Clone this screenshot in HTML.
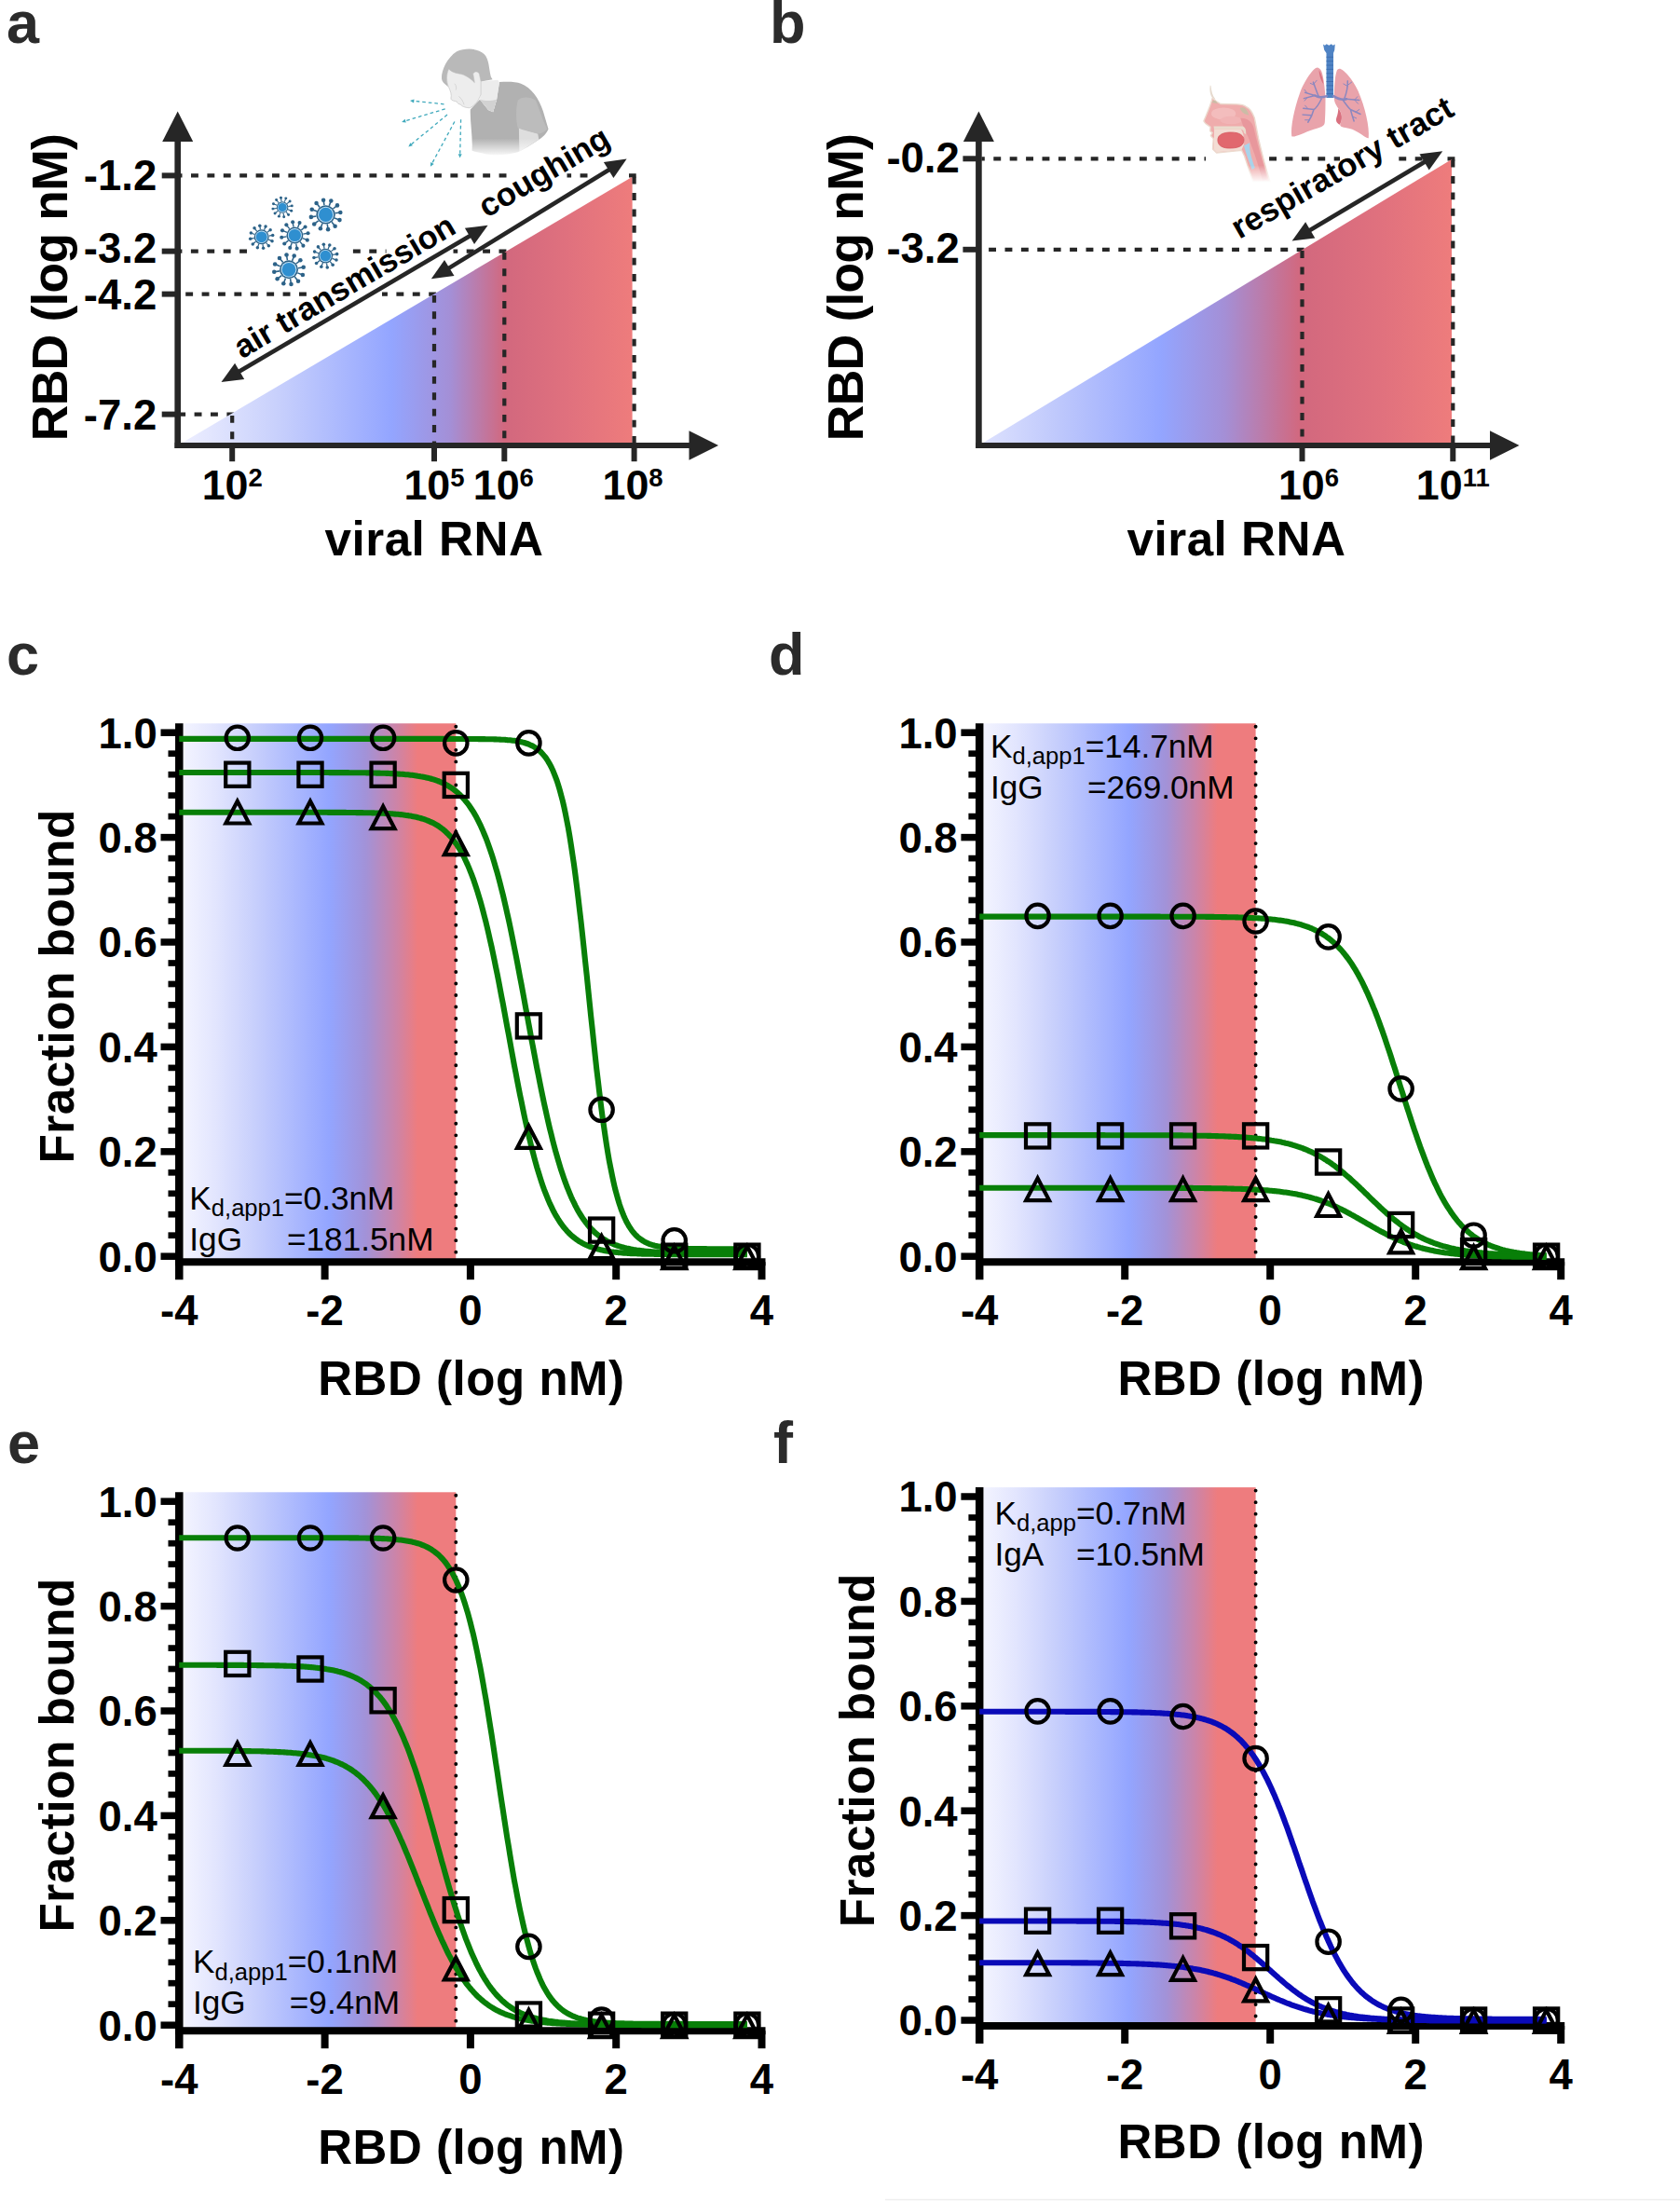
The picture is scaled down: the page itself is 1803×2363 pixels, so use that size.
<!DOCTYPE html>
<html><head><meta charset="utf-8"><title>Figure</title>
<style>html,body{margin:0;padding:0;background:#fff}svg{display:block}</style>
</head><body>
<svg width="1803" height="2363" viewBox="0 0 1803 2363">
<rect width="1803" height="2363" fill="#fff"/>

<defs>
<linearGradient id="gShade" x1="0" y1="0" x2="1" y2="0">
 <stop offset="0" stop-color="#f3f4ff"/>
 <stop offset="0.12" stop-color="#e2e5fe"/>
 <stop offset="0.27" stop-color="#c6cefc"/>
 <stop offset="0.535" stop-color="#93a5ff"/>
 <stop offset="0.67" stop-color="#a292d8"/>
 <stop offset="0.78" stop-color="#cc84a8"/>
 <stop offset="0.86" stop-color="#ee7c7e"/>
 <stop offset="1" stop-color="#ee7c7e"/>
</linearGradient>
<linearGradient id="gTriA" x1="0" y1="0" x2="1" y2="0">
 <stop offset="0" stop-color="#eff0ff"/>
 <stop offset="0.22" stop-color="#c8d0fc"/>
 <stop offset="0.47" stop-color="#93a5ff"/>
 <stop offset="0.60" stop-color="#a48fd6"/>
 <stop offset="0.72" stop-color="#d2687e"/>
 <stop offset="0.86" stop-color="#e0717e"/>
 <stop offset="1" stop-color="#ee7c7c"/>
</linearGradient>
<linearGradient id="gTriB" x1="0" y1="0" x2="1" y2="0">
 <stop offset="0" stop-color="#dfe3fe"/>
 <stop offset="0.18" stop-color="#bcc6fc"/>
 <stop offset="0.385" stop-color="#93a5ff"/>
 <stop offset="0.52" stop-color="#a48fd6"/>
 <stop offset="0.68" stop-color="#d2687e"/>
 <stop offset="0.85" stop-color="#e0717e"/>
 <stop offset="1" stop-color="#ee7c7c"/>
</linearGradient>
<linearGradient id="gFadeW" x1="0" y1="0" x2="0" y2="1"><stop offset="0" stop-color="#fff" stop-opacity="0"/><stop offset="1" stop-color="#fff" stop-opacity="1"/></linearGradient>
</defs>

<text x="7" y="46" font-family='"Liberation Sans", Arial, sans-serif' font-weight="700" font-size="63" fill="#2b2b2b">a</text>
<text x="826" y="45.5" font-family='"Liberation Sans", Arial, sans-serif' font-weight="700" font-size="63" fill="#2b2b2b">b</text>
<text x="7" y="724" font-family='"Liberation Sans", Arial, sans-serif' font-weight="700" font-size="63" fill="#2b2b2b">c</text>
<text x="825" y="724" font-family='"Liberation Sans", Arial, sans-serif' font-weight="700" font-size="63" fill="#2b2b2b">d</text>
<text x="8" y="1570" font-family='"Liberation Sans", Arial, sans-serif' font-weight="700" font-size="63" fill="#2b2b2b">e</text>
<text x="830" y="1570" font-family='"Liberation Sans", Arial, sans-serif' font-weight="700" font-size="63" fill="#2b2b2b">f</text>
<line x1="682.7" y1="188.4" x2="193.7" y2="188.4" stroke="#262626" stroke-width="4.2" stroke-dasharray="7.9 9.5"/>
<line x1="543.4" y1="269.6" x2="193.7" y2="269.6" stroke="#262626" stroke-width="4.2" stroke-dasharray="7.9 9.5"/>
<line x1="468.1" y1="315.6" x2="193.7" y2="315.6" stroke="#262626" stroke-width="4.2" stroke-dasharray="7.9 9.5"/>
<line x1="251.29999999999998" y1="444.6" x2="193.7" y2="444.6" stroke="#262626" stroke-width="4.2" stroke-dasharray="7.9 9.5"/>
<rect x="266" y="262" width="104" height="16" fill="#fff"/>
<rect x="333" y="308" width="77" height="16" fill="#fff"/>
<rect x="414.5" y="262" width="72" height="16" fill="#fff"/>
<rect x="549" y="180" width="59.5" height="16" fill="#fff"/>
<rect x="639" y="180" width="36" height="16" fill="#fff"/>
<polygon points="190.7,478 678.6,189.8 678.6,478" fill="url(#gTriA)"/>
<line x1="249.2" y1="445.90000000000003" x2="249.2" y2="478" stroke="#262626" stroke-width="4.2" stroke-dasharray="7.9 9.5"/>
<line x1="466" y1="316.90000000000003" x2="466" y2="478" stroke="#262626" stroke-width="4.2" stroke-dasharray="7.9 9.5"/>
<line x1="541.3" y1="270.90000000000003" x2="541.3" y2="478" stroke="#262626" stroke-width="4.2" stroke-dasharray="7.9 9.5"/>
<line x1="680.6" y1="189.70000000000002" x2="680.6" y2="478" stroke="#262626" stroke-width="4.2" stroke-dasharray="7.9 9.5"/>
<line x1="190.7" y1="481.1" x2="190.7" y2="150" stroke="#262626" stroke-width="6.6"/>
<polygon points="190.7,119.5 174.2,152 207.2,152" fill="#262626"/>
<line x1="187.6" y1="478" x2="741" y2="478" stroke="#262626" stroke-width="6.2"/>
<polygon points="771,478 739.5,462.2 739.5,493.8" fill="#262626"/>
<line x1="173.7" y1="188.4" x2="190.7" y2="188.4" stroke="#262626" stroke-width="6"/>
<text x="168.2" y="204.2" text-anchor="end" font-family='"Liberation Sans", Arial, sans-serif' font-weight="700" font-size="45.5">-1.2</text>
<line x1="173.7" y1="269.6" x2="190.7" y2="269.6" stroke="#262626" stroke-width="6"/>
<text x="168.2" y="281.9" text-anchor="end" font-family='"Liberation Sans", Arial, sans-serif' font-weight="700" font-size="45.5">-3.2</text>
<line x1="173.7" y1="315.6" x2="190.7" y2="315.6" stroke="#262626" stroke-width="6"/>
<text x="168.2" y="331.9" text-anchor="end" font-family='"Liberation Sans", Arial, sans-serif' font-weight="700" font-size="45.5">-4.2</text>
<line x1="173.7" y1="444.6" x2="190.7" y2="444.6" stroke="#262626" stroke-width="6"/>
<text x="168.2" y="460.8" text-anchor="end" font-family='"Liberation Sans", Arial, sans-serif' font-weight="700" font-size="45.5">-7.2</text>
<line x1="249.2" y1="478" x2="249.2" y2="495.2" stroke="#262626" stroke-width="6"/>
<text x="249.2" y="536.0" text-anchor="middle" font-family='"Liberation Sans", Arial, sans-serif' font-weight="700" font-size="44.8">10<tspan font-size="27.5" dy="-14.5">2</tspan></text>
<line x1="466" y1="478" x2="466" y2="495.2" stroke="#262626" stroke-width="6"/>
<text x="466.0" y="536.0" text-anchor="middle" font-family='"Liberation Sans", Arial, sans-serif' font-weight="700" font-size="44.8">10<tspan font-size="27.5" dy="-14.5">5</tspan></text>
<line x1="541.3" y1="478" x2="541.3" y2="495.2" stroke="#262626" stroke-width="6"/>
<text x="540.3" y="536.0" text-anchor="middle" font-family='"Liberation Sans", Arial, sans-serif' font-weight="700" font-size="44.8">10<tspan font-size="27.5" dy="-14.5">6</tspan></text>
<line x1="680.6" y1="478" x2="680.6" y2="495.2" stroke="#262626" stroke-width="6"/>
<text x="679.1" y="536.0" text-anchor="middle" font-family='"Liberation Sans", Arial, sans-serif' font-weight="700" font-size="44.8">10<tspan font-size="27.5" dy="-14.5">8</tspan></text>
<text transform="translate(71.9,308.6) rotate(-90)" text-anchor="middle" font-family='"Liberation Sans", Arial, sans-serif' font-weight="700" font-size="53.5" letter-spacing="-0.8">RBD (log nM)</text>
<text x="466.0" y="595.5" text-anchor="middle" font-family='"Liberation Sans", Arial, sans-serif' font-weight="700" font-size="51.2" letter-spacing="0.5">viral RNA</text>
<line x1="255.2" y1="399.6" x2="505.9" y2="252.2" stroke="#262626" stroke-width="4.6"/>
<polygon points="237.5,410.0 262.2,407.1 252.1,389.8" fill="#262626"/>
<polygon points="523.6,241.8 509.0,262.0 498.9,244.7" fill="#262626"/>
<line x1="480.3" y1="288.6" x2="655.1" y2="181.3" stroke="#262626" stroke-width="4.6"/>
<polygon points="462.8,299.3 487.5,295.9 477.0,278.9" fill="#262626"/>
<polygon points="672.6,170.6 658.4,191.0 647.9,174.0" fill="#262626"/>
<text transform="translate(375.5,317.3) rotate(-30.45)" text-anchor="middle" font-family='"Liberation Sans", Arial, sans-serif' font-weight="700" font-size="34.8" letter-spacing="0">air transmission</text>
<text transform="translate(522.2,234.3) rotate(-30.45)" text-anchor="start" font-family='"Liberation Sans", Arial, sans-serif' font-weight="700" font-size="34.8" letter-spacing="0">coughing</text>
<g transform="translate(303.1,222.5)">
<line x1="6.17" y1="-0.98" x2="10.20" y2="-1.62" stroke="#2c6288" stroke-width="1.10"/>
<circle cx="10.20" cy="-1.62" r="1.48" fill="#2c6288"/>
<line x1="5.83" y1="2.24" x2="9.64" y2="3.70" stroke="#2c6288" stroke-width="1.10"/>
<circle cx="9.64" cy="3.70" r="1.48" fill="#2c6288"/>
<line x1="3.93" y1="4.86" x2="6.50" y2="8.02" stroke="#2c6288" stroke-width="1.10"/>
<circle cx="6.50" cy="8.02" r="1.48" fill="#2c6288"/>
<line x1="0.98" y1="6.17" x2="1.62" y2="10.20" stroke="#2c6288" stroke-width="1.10"/>
<circle cx="1.62" cy="10.20" r="1.48" fill="#2c6288"/>
<line x1="-2.24" y1="5.83" x2="-3.70" y2="9.64" stroke="#2c6288" stroke-width="1.10"/>
<circle cx="-3.70" cy="9.64" r="1.48" fill="#2c6288"/>
<line x1="-4.86" y1="3.93" x2="-8.02" y2="6.50" stroke="#2c6288" stroke-width="1.10"/>
<circle cx="-8.02" cy="6.50" r="1.48" fill="#2c6288"/>
<line x1="-6.17" y1="0.98" x2="-10.20" y2="1.62" stroke="#2c6288" stroke-width="1.10"/>
<circle cx="-10.20" cy="1.62" r="1.48" fill="#2c6288"/>
<line x1="-5.83" y1="-2.24" x2="-9.64" y2="-3.70" stroke="#2c6288" stroke-width="1.10"/>
<circle cx="-9.64" cy="-3.70" r="1.48" fill="#2c6288"/>
<line x1="-3.93" y1="-4.86" x2="-6.50" y2="-8.02" stroke="#2c6288" stroke-width="1.10"/>
<circle cx="-6.50" cy="-8.02" r="1.48" fill="#2c6288"/>
<line x1="-0.98" y1="-6.17" x2="-1.62" y2="-10.20" stroke="#2c6288" stroke-width="1.10"/>
<circle cx="-1.62" cy="-10.20" r="1.48" fill="#2c6288"/>
<line x1="2.24" y1="-5.83" x2="3.70" y2="-9.64" stroke="#2c6288" stroke-width="1.10"/>
<circle cx="3.70" cy="-9.64" r="1.48" fill="#2c6288"/>
<line x1="4.86" y1="-3.93" x2="8.02" y2="-6.50" stroke="#2c6288" stroke-width="1.10"/>
<circle cx="8.02" cy="-6.50" r="1.48" fill="#2c6288"/>
<circle r="6.25" fill="#2c6288"/>
<circle r="5.25" fill="#bfe0f6"/>
<circle r="4.62" fill="#2f8fd0"/>
</g>
<g transform="translate(349.6,230.4)">
<line x1="10.07" y1="-1.60" x2="15.73" y2="-2.49" stroke="#2c6288" stroke-width="1.55"/>
<circle cx="15.73" cy="-2.49" r="2.27" fill="#2c6288"/>
<line x1="9.52" y1="3.66" x2="14.87" y2="5.71" stroke="#2c6288" stroke-width="1.55"/>
<circle cx="14.87" cy="5.71" r="2.27" fill="#2c6288"/>
<line x1="6.42" y1="7.93" x2="10.02" y2="12.38" stroke="#2c6288" stroke-width="1.55"/>
<circle cx="10.02" cy="12.38" r="2.27" fill="#2c6288"/>
<line x1="1.60" y1="10.07" x2="2.49" y2="15.73" stroke="#2c6288" stroke-width="1.55"/>
<circle cx="2.49" cy="15.73" r="2.27" fill="#2c6288"/>
<line x1="-3.66" y1="9.52" x2="-5.71" y2="14.87" stroke="#2c6288" stroke-width="1.55"/>
<circle cx="-5.71" cy="14.87" r="2.27" fill="#2c6288"/>
<line x1="-7.93" y1="6.42" x2="-12.38" y2="10.02" stroke="#2c6288" stroke-width="1.55"/>
<circle cx="-12.38" cy="10.02" r="2.27" fill="#2c6288"/>
<line x1="-10.07" y1="1.60" x2="-15.73" y2="2.49" stroke="#2c6288" stroke-width="1.55"/>
<circle cx="-15.73" cy="2.49" r="2.27" fill="#2c6288"/>
<line x1="-9.52" y1="-3.66" x2="-14.87" y2="-5.71" stroke="#2c6288" stroke-width="1.55"/>
<circle cx="-14.87" cy="-5.71" r="2.27" fill="#2c6288"/>
<line x1="-6.42" y1="-7.93" x2="-10.02" y2="-12.38" stroke="#2c6288" stroke-width="1.55"/>
<circle cx="-10.02" cy="-12.38" r="2.27" fill="#2c6288"/>
<line x1="-1.60" y1="-10.07" x2="-2.49" y2="-15.73" stroke="#2c6288" stroke-width="1.55"/>
<circle cx="-2.49" cy="-15.73" r="2.27" fill="#2c6288"/>
<line x1="3.66" y1="-9.52" x2="5.71" y2="-14.87" stroke="#2c6288" stroke-width="1.55"/>
<circle cx="5.71" cy="-14.87" r="2.27" fill="#2c6288"/>
<line x1="7.93" y1="-6.42" x2="12.38" y2="-10.02" stroke="#2c6288" stroke-width="1.55"/>
<circle cx="12.38" cy="-10.02" r="2.27" fill="#2c6288"/>
<circle r="10.20" fill="#2c6288"/>
<circle r="8.57" fill="#bfe0f6"/>
<circle r="7.55" fill="#2f8fd0"/>
</g>
<g transform="translate(280.7,254.3)">
<line x1="7.90" y1="-1.25" x2="12.01" y2="-1.90" stroke="#2c6288" stroke-width="1.18"/>
<circle cx="12.01" cy="-1.90" r="1.74" fill="#2c6288"/>
<line x1="7.47" y1="2.87" x2="11.35" y2="4.36" stroke="#2c6288" stroke-width="1.18"/>
<circle cx="11.35" cy="4.36" r="1.74" fill="#2c6288"/>
<line x1="5.03" y1="6.22" x2="7.65" y2="9.45" stroke="#2c6288" stroke-width="1.18"/>
<circle cx="7.65" cy="9.45" r="1.74" fill="#2c6288"/>
<line x1="1.25" y1="7.90" x2="1.90" y2="12.01" stroke="#2c6288" stroke-width="1.18"/>
<circle cx="1.90" cy="12.01" r="1.74" fill="#2c6288"/>
<line x1="-2.87" y1="7.47" x2="-4.36" y2="11.35" stroke="#2c6288" stroke-width="1.18"/>
<circle cx="-4.36" cy="11.35" r="1.74" fill="#2c6288"/>
<line x1="-6.22" y1="5.03" x2="-9.45" y2="7.65" stroke="#2c6288" stroke-width="1.18"/>
<circle cx="-9.45" cy="7.65" r="1.74" fill="#2c6288"/>
<line x1="-7.90" y1="1.25" x2="-12.01" y2="1.90" stroke="#2c6288" stroke-width="1.18"/>
<circle cx="-12.01" cy="1.90" r="1.74" fill="#2c6288"/>
<line x1="-7.47" y1="-2.87" x2="-11.35" y2="-4.36" stroke="#2c6288" stroke-width="1.18"/>
<circle cx="-11.35" cy="-4.36" r="1.74" fill="#2c6288"/>
<line x1="-5.03" y1="-6.22" x2="-7.65" y2="-9.45" stroke="#2c6288" stroke-width="1.18"/>
<circle cx="-7.65" cy="-9.45" r="1.74" fill="#2c6288"/>
<line x1="-1.25" y1="-7.90" x2="-1.90" y2="-12.01" stroke="#2c6288" stroke-width="1.18"/>
<circle cx="-1.90" cy="-12.01" r="1.74" fill="#2c6288"/>
<line x1="2.87" y1="-7.47" x2="4.36" y2="-11.35" stroke="#2c6288" stroke-width="1.18"/>
<circle cx="4.36" cy="-11.35" r="1.74" fill="#2c6288"/>
<line x1="6.22" y1="-5.03" x2="9.45" y2="-7.65" stroke="#2c6288" stroke-width="1.18"/>
<circle cx="9.45" cy="-7.65" r="1.74" fill="#2c6288"/>
<circle r="8.00" fill="#2c6288"/>
<circle r="6.72" fill="#bfe0f6"/>
<circle r="5.92" fill="#2f8fd0"/>
</g>
<g transform="translate(316.4,252.5)">
<line x1="8.79" y1="-1.39" x2="14.17" y2="-2.24" stroke="#2c6288" stroke-width="1.39"/>
<circle cx="14.17" cy="-2.24" r="2.05" fill="#2c6288"/>
<line x1="8.31" y1="3.19" x2="13.40" y2="5.14" stroke="#2c6288" stroke-width="1.39"/>
<circle cx="13.40" cy="5.14" r="2.05" fill="#2c6288"/>
<line x1="5.60" y1="6.92" x2="9.03" y2="11.15" stroke="#2c6288" stroke-width="1.39"/>
<circle cx="9.03" cy="11.15" r="2.05" fill="#2c6288"/>
<line x1="1.39" y1="8.79" x2="2.24" y2="14.17" stroke="#2c6288" stroke-width="1.39"/>
<circle cx="2.24" cy="14.17" r="2.05" fill="#2c6288"/>
<line x1="-3.19" y1="8.31" x2="-5.14" y2="13.40" stroke="#2c6288" stroke-width="1.39"/>
<circle cx="-5.14" cy="13.40" r="2.05" fill="#2c6288"/>
<line x1="-6.92" y1="5.60" x2="-11.15" y2="9.03" stroke="#2c6288" stroke-width="1.39"/>
<circle cx="-11.15" cy="9.03" r="2.05" fill="#2c6288"/>
<line x1="-8.79" y1="1.39" x2="-14.17" y2="2.24" stroke="#2c6288" stroke-width="1.39"/>
<circle cx="-14.17" cy="2.24" r="2.05" fill="#2c6288"/>
<line x1="-8.31" y1="-3.19" x2="-13.40" y2="-5.14" stroke="#2c6288" stroke-width="1.39"/>
<circle cx="-13.40" cy="-5.14" r="2.05" fill="#2c6288"/>
<line x1="-5.60" y1="-6.92" x2="-9.03" y2="-11.15" stroke="#2c6288" stroke-width="1.39"/>
<circle cx="-9.03" cy="-11.15" r="2.05" fill="#2c6288"/>
<line x1="-1.39" y1="-8.79" x2="-2.24" y2="-14.17" stroke="#2c6288" stroke-width="1.39"/>
<circle cx="-2.24" cy="-14.17" r="2.05" fill="#2c6288"/>
<line x1="3.19" y1="-8.31" x2="5.14" y2="-13.40" stroke="#2c6288" stroke-width="1.39"/>
<circle cx="5.14" cy="-13.40" r="2.05" fill="#2c6288"/>
<line x1="6.92" y1="-5.60" x2="11.15" y2="-9.03" stroke="#2c6288" stroke-width="1.39"/>
<circle cx="11.15" cy="-9.03" r="2.05" fill="#2c6288"/>
<circle r="8.90" fill="#2c6288"/>
<circle r="7.48" fill="#bfe0f6"/>
<circle r="6.59" fill="#2f8fd0"/>
</g>
<g transform="translate(349.3,274.6)">
<line x1="7.80" y1="-1.24" x2="12.36" y2="-1.96" stroke="#2c6288" stroke-width="1.22"/>
<circle cx="12.36" cy="-1.96" r="1.79" fill="#2c6288"/>
<line x1="7.38" y1="2.83" x2="11.68" y2="4.48" stroke="#2c6288" stroke-width="1.22"/>
<circle cx="11.68" cy="4.48" r="1.79" fill="#2c6288"/>
<line x1="4.97" y1="6.14" x2="7.87" y2="9.72" stroke="#2c6288" stroke-width="1.22"/>
<circle cx="7.87" cy="9.72" r="1.79" fill="#2c6288"/>
<line x1="1.24" y1="7.80" x2="1.96" y2="12.36" stroke="#2c6288" stroke-width="1.22"/>
<circle cx="1.96" cy="12.36" r="1.79" fill="#2c6288"/>
<line x1="-2.83" y1="7.38" x2="-4.48" y2="11.68" stroke="#2c6288" stroke-width="1.22"/>
<circle cx="-4.48" cy="11.68" r="1.79" fill="#2c6288"/>
<line x1="-6.14" y1="4.97" x2="-9.72" y2="7.87" stroke="#2c6288" stroke-width="1.22"/>
<circle cx="-9.72" cy="7.87" r="1.79" fill="#2c6288"/>
<line x1="-7.80" y1="1.24" x2="-12.36" y2="1.96" stroke="#2c6288" stroke-width="1.22"/>
<circle cx="-12.36" cy="1.96" r="1.79" fill="#2c6288"/>
<line x1="-7.38" y1="-2.83" x2="-11.68" y2="-4.48" stroke="#2c6288" stroke-width="1.22"/>
<circle cx="-11.68" cy="-4.48" r="1.79" fill="#2c6288"/>
<line x1="-4.97" y1="-6.14" x2="-7.87" y2="-9.72" stroke="#2c6288" stroke-width="1.22"/>
<circle cx="-7.87" cy="-9.72" r="1.79" fill="#2c6288"/>
<line x1="-1.24" y1="-7.80" x2="-1.96" y2="-12.36" stroke="#2c6288" stroke-width="1.22"/>
<circle cx="-1.96" cy="-12.36" r="1.79" fill="#2c6288"/>
<line x1="2.83" y1="-7.38" x2="4.48" y2="-11.68" stroke="#2c6288" stroke-width="1.22"/>
<circle cx="4.48" cy="-11.68" r="1.79" fill="#2c6288"/>
<line x1="6.14" y1="-4.97" x2="9.72" y2="-7.87" stroke="#2c6288" stroke-width="1.22"/>
<circle cx="9.72" cy="-7.87" r="1.79" fill="#2c6288"/>
<circle r="7.90" fill="#2c6288"/>
<circle r="6.64" fill="#bfe0f6"/>
<circle r="5.85" fill="#2f8fd0"/>
</g>
<g transform="translate(310,289.3)">
<line x1="9.88" y1="-1.56" x2="15.73" y2="-2.49" stroke="#2c6288" stroke-width="1.55"/>
<circle cx="15.73" cy="-2.49" r="2.27" fill="#2c6288"/>
<line x1="9.34" y1="3.58" x2="14.87" y2="5.71" stroke="#2c6288" stroke-width="1.55"/>
<circle cx="14.87" cy="5.71" r="2.27" fill="#2c6288"/>
<line x1="6.29" y1="7.77" x2="10.02" y2="12.38" stroke="#2c6288" stroke-width="1.55"/>
<circle cx="10.02" cy="12.38" r="2.27" fill="#2c6288"/>
<line x1="1.56" y1="9.88" x2="2.49" y2="15.73" stroke="#2c6288" stroke-width="1.55"/>
<circle cx="2.49" cy="15.73" r="2.27" fill="#2c6288"/>
<line x1="-3.58" y1="9.34" x2="-5.71" y2="14.87" stroke="#2c6288" stroke-width="1.55"/>
<circle cx="-5.71" cy="14.87" r="2.27" fill="#2c6288"/>
<line x1="-7.77" y1="6.29" x2="-12.38" y2="10.02" stroke="#2c6288" stroke-width="1.55"/>
<circle cx="-12.38" cy="10.02" r="2.27" fill="#2c6288"/>
<line x1="-9.88" y1="1.56" x2="-15.73" y2="2.49" stroke="#2c6288" stroke-width="1.55"/>
<circle cx="-15.73" cy="2.49" r="2.27" fill="#2c6288"/>
<line x1="-9.34" y1="-3.58" x2="-14.87" y2="-5.71" stroke="#2c6288" stroke-width="1.55"/>
<circle cx="-14.87" cy="-5.71" r="2.27" fill="#2c6288"/>
<line x1="-6.29" y1="-7.77" x2="-10.02" y2="-12.38" stroke="#2c6288" stroke-width="1.55"/>
<circle cx="-10.02" cy="-12.38" r="2.27" fill="#2c6288"/>
<line x1="-1.56" y1="-9.88" x2="-2.49" y2="-15.73" stroke="#2c6288" stroke-width="1.55"/>
<circle cx="-2.49" cy="-15.73" r="2.27" fill="#2c6288"/>
<line x1="3.58" y1="-9.34" x2="5.71" y2="-14.87" stroke="#2c6288" stroke-width="1.55"/>
<circle cx="5.71" cy="-14.87" r="2.27" fill="#2c6288"/>
<line x1="7.77" y1="-6.29" x2="12.38" y2="-10.02" stroke="#2c6288" stroke-width="1.55"/>
<circle cx="12.38" cy="-10.02" r="2.27" fill="#2c6288"/>
<circle r="10.00" fill="#2c6288"/>
<circle r="8.40" fill="#bfe0f6"/>
<circle r="7.40" fill="#2f8fd0"/>
</g>
<g transform="translate(420,40) scale(0.1131)">
<path d="M750 685 L840 590 L920 690 L965 710 L1000 590 L1025 425 C1100 420 1180 420 1230 440 C1330 480 1400 580 1440 700 L1490 870 C1470 920 1430 950 1400 970 C1330 1020 1260 1060 1200 1090 C1100 1120 980 1120 900 1110 C850 1095 790 1090 765 1075 C775 950 745 800 750 685 Z" fill="#b1b1b1"/>
<path d="M1210 860 L1390 915 L1400 970 L1215 1085 Z" fill="#dedede"/>
<path d="M1200 600 C1230 560 1320 560 1370 600 C1410 700 1440 800 1480 870 C1450 900 1420 915 1390 915 C1320 900 1250 880 1200 860 C1180 780 1180 680 1200 600 Z" fill="#bcbcbc"/>
<path d="M850 420 L1010 405 L1025 430 L1000 590 L965 710 L920 690 L840 590 C850 560 850 470 850 420 Z" fill="#ececec"/>
<path d="M840 590 C900 610 960 600 1000 590 L965 710 L920 690 Z" fill="#d2d2d2"/>
<path d="M545 300 C520 350 520 420 545 475 C560 510 575 540 565 585 C570 600 600 605 620 610 C625 625 640 635 660 640 C670 660 720 670 745 670 C790 650 830 600 850 540 L850 420 L835 350 C825 320 790 320 775 345 L790 430 C760 400 700 350 640 345 C600 340 560 320 545 300 Z" fill="#ededed" stroke="#c4c4c4" stroke-width="6"/>
<path d="M478 395 C470 330 520 200 620 135 C700 100 820 100 880 160 C930 210 925 300 945 375 L960 400 L850 420 L835 350 C825 320 790 320 775 345 L790 430 C760 400 700 350 640 345 C600 340 560 320 545 300 C520 350 520 420 540 470 C500 440 480 420 478 395 Z" fill="#b9b9b9"/>
<path d="M600 440 C615 455 620 480 612 500 M640 560 C660 580 680 600 690 640" fill="none" stroke="#cfcfcf" stroke-width="7"/>
<rect x="700" y="960" width="820" height="175" fill="url(#gFadeW)"/>
</g>
<line x1="476.5" y1="111.8" x2="443.5" y2="108.3" stroke="#3fa9bc" stroke-width="1.3" stroke-dasharray="3.6 3"/>
<polygon points="440.0,107.9 444.5,106.4 444.1,110.4" fill="#3fa9bc"/>
<line x1="477.7" y1="116.9" x2="434.4" y2="129.9" stroke="#3fa9bc" stroke-width="1.3" stroke-dasharray="3.6 3"/>
<polygon points="431.1,130.9 434.6,127.8 435.8,131.6" fill="#3fa9bc"/>
<line x1="480" y1="123.1" x2="441.0" y2="155.2" stroke="#3fa9bc" stroke-width="1.3" stroke-dasharray="3.6 3"/>
<polygon points="438.3,157.5 440.4,153.2 442.9,156.3" fill="#3fa9bc"/>
<line x1="487.9" y1="130.5" x2="463.5" y2="175.7" stroke="#3fa9bc" stroke-width="1.3" stroke-dasharray="3.6 3"/>
<polygon points="461.9,178.8 462.2,174.1 465.7,176.0" fill="#3fa9bc"/>
<line x1="494.6" y1="128.2" x2="493.7" y2="166.0" stroke="#3fa9bc" stroke-width="1.3" stroke-dasharray="3.6 3"/>
<polygon points="493.6,169.5 491.7,165.2 495.7,165.3" fill="#3fa9bc"/>
<line x1="1561.3999999999999" y1="170.3" x2="1053.4" y2="170.3" stroke="#262626" stroke-width="4.2" stroke-dasharray="7.9 9.5"/>
<line x1="1399.6" y1="267.8" x2="1053.4" y2="267.8" stroke="#262626" stroke-width="4.2" stroke-dasharray="7.9 9.5"/>
<rect x="1294" y="162" width="67" height="16" fill="#fff"/>
<rect x="1438" y="162" width="54" height="16" fill="#fff"/>
<rect x="1531" y="162" width="22" height="16" fill="#fff"/>
<polygon points="1050.4,478 1558,171 1558,478" fill="url(#gTriB)"/>
<line x1="1397.5" y1="269.1" x2="1397.5" y2="478" stroke="#262626" stroke-width="4.2" stroke-dasharray="7.9 9.5"/>
<line x1="1559.3" y1="171.60000000000002" x2="1559.3" y2="478" stroke="#262626" stroke-width="4.2" stroke-dasharray="7.9 9.5"/>
<line x1="1050.4" y1="481.1" x2="1050.4" y2="150" stroke="#262626" stroke-width="6.6"/>
<polygon points="1050.4,119.5 1033.9,152 1066.9,152" fill="#262626"/>
<line x1="1047.3000000000002" y1="478" x2="1600.5" y2="478" stroke="#262626" stroke-width="6.2"/>
<polygon points="1630.5,478 1599.0,462.2 1599.0,493.8" fill="#262626"/>
<line x1="1033.4" y1="170.3" x2="1050.4" y2="170.3" stroke="#262626" stroke-width="6"/>
<text x="1029.8" y="184.9" text-anchor="end" font-family='"Liberation Sans", Arial, sans-serif' font-weight="700" font-size="45.5">-0.2</text>
<line x1="1033.4" y1="267.8" x2="1050.4" y2="267.8" stroke="#262626" stroke-width="6"/>
<text x="1029.8" y="282.4" text-anchor="end" font-family='"Liberation Sans", Arial, sans-serif' font-weight="700" font-size="45.5">-3.2</text>
<line x1="1397.5" y1="478" x2="1397.5" y2="495.2" stroke="#262626" stroke-width="6"/>
<text x="1404.5" y="536.0" text-anchor="middle" font-family='"Liberation Sans", Arial, sans-serif' font-weight="700" font-size="44.8">10<tspan font-size="27.5" dy="-14.5">6</tspan></text>
<line x1="1559.3" y1="478" x2="1559.3" y2="495.2" stroke="#262626" stroke-width="6"/>
<text x="1559.3" y="536.0" text-anchor="middle" font-family='"Liberation Sans", Arial, sans-serif' font-weight="700" font-size="44.8">10<tspan font-size="27.5" dy="-14.5">11</tspan></text>
<text transform="translate(926,308.6) rotate(-90)" text-anchor="middle" font-family='"Liberation Sans", Arial, sans-serif' font-weight="700" font-size="53.5" letter-spacing="-0.8">RBD (log nM)</text>
<text x="1327.0" y="595.5" text-anchor="middle" font-family='"Liberation Sans", Arial, sans-serif' font-weight="700" font-size="51.2" letter-spacing="0.5">viral RNA</text>
<line x1="1404.2" y1="248.1" x2="1530.6" y2="172.8" stroke="#262626" stroke-width="4.6"/>
<polygon points="1386.6,258.6 1411.3,255.5 1401.1,238.3" fill="#262626"/>
<polygon points="1548.2,162.3 1533.7,182.6 1523.5,165.4" fill="#262626"/>
<text transform="translate(1446.3,190.0) rotate(-30.0)" text-anchor="middle" font-family='"Liberation Sans", Arial, sans-serif' font-weight="700" font-size="35" letter-spacing="0">respiratory tract</text>
<g transform="translate(1280,30) scale(0.125)">
<path d="M1070 340 C1040 340 960 450 920 560 C870 700 840 850 850 930 C870 945 950 900 1040 870 C1100 850 1135 850 1135 800 C1140 740 1140 650 1140 600 C1135 520 1125 420 1105 370 C1095 350 1080 340 1070 340 Z" fill="#e9a3ab"/>
<path d="M1260 350 C1290 350 1370 430 1420 540 C1480 680 1520 850 1510 945 C1490 950 1440 900 1370 870 C1310 850 1270 860 1265 830 C1290 780 1280 720 1250 690 C1230 660 1215 640 1215 600 C1215 520 1220 420 1235 375 C1240 355 1250 350 1260 350 Z" fill="#e9a3ab"/>
<path d="M1085 360 C1105 400 1120 440 1122 480 C1100 450 1085 400 1085 360 Z M1250 690 C1285 730 1290 790 1262 830 C1240 820 1225 800 1235 770 C1245 740 1250 720 1250 690 Z" fill="#d9707f"/>
<path d="M1120 140 L1135 150 L1150 138 L1170 150 L1190 138 L1205 150 L1222 140 L1218 190 L1208 215 L1208 600 L1148 600 L1148 215 L1130 190 Z" fill="#4f83c4"/>
<path d="M1148 250 H1208 M1148 285 H1208 M1148 320 H1208 M1148 355 H1208 M1148 390 H1208 M1148 425 H1208 M1148 460 H1208 M1148 495 H1208 M1148 530 H1208 M1148 565 H1208" stroke="#3c6cae" stroke-width="7" fill="none"/>
<g fill="none" stroke="#8b87bf" stroke-linecap="round">
<path d="M1150 585 C1110 600 1080 600 1050 580 M1210 585 C1250 610 1290 620 1320 610" stroke-width="20"/>
<path d="M1085 595 C1060 540 1050 500 1035 465 M1050 580 L965 555 M1050 580 L955 605 M1105 610 C1080 660 1060 690 1040 700 L950 690 M1040 700 C1030 740 1010 780 990 810 M1020 750 L945 745 M1300 615 C1320 560 1335 510 1330 455 M1320 610 L1430 620 M1290 620 C1320 660 1340 690 1355 700 L1440 740 M1355 700 C1365 740 1375 770 1385 800" stroke-width="12"/>
<path d="M1045 490 L1010 475 M1040 480 L1065 450 M985 560 L960 530 M985 598 L960 625 M990 693 L965 665 M1000 790 L965 790 M1330 500 L1295 480 M1333 490 L1365 465 M1390 617 L1415 590 M1390 618 L1420 650 M1400 722 L1430 700 M1372 760 L1405 775" stroke-width="8"/>
</g>
<path d="M150 492 C143 540 152 582 172 602 L196 612 C170 580 160 540 156 495 Z" fill="#e6dace"/>
<path d="M170 600 C150 680 110 760 95 800 C110 830 140 840 152 850 L150 885 L170 900 L155 925 L178 950 L172 1040 L205 1072 L420 1050 L445 1100 C470 1180 500 1260 520 1320 L665 1320 C640 1250 600 1100 565 950 L530 770 C510 720 490 690 465 680 C440 660 410 655 380 655 L240 652 C215 640 190 625 170 600 Z" fill="#efacac" stroke="#ecdace" stroke-width="11" stroke-linejoin="round"/>
<path d="M165 640 C178 612 200 618 214 650 Z M405 688 C440 668 470 698 482 748 C452 744 420 730 405 688 Z" fill="#cbbca6"/>
<ellipse cx="265" cy="735" rx="105" ry="52" fill="#f3bdbd"/>
<ellipse cx="330" cy="792" rx="95" ry="34" fill="#f1b4b5"/>
<path d="M410 775 C460 770 510 800 525 860 C545 950 570 1050 610 1180 L640 1300 L600 1310 C570 1200 540 1100 500 1000 C480 940 460 900 440 860 Z" fill="#e8979c"/>
<path d="M180 843 L430 843 C452 850 462 880 456 912 L440 902 C440 882 430 872 415 869 L184 869 Z" fill="#eadbcd"/>
<path d="M185 869 L415 869 C435 900 445 950 440 1000 L420 1045 L205 1066 L180 1040 Z" fill="#f3ddd4"/>
<path d="M215 962 C215 912 270 896 330 896 C400 896 440 922 440 962 C440 1002 410 1030 330 1032 C260 1036 215 1012 215 962 Z" fill="#e1686e" stroke="#d4565e" stroke-width="6"/>
<path d="M440 1010 L490 985 C485 1050 505 1120 535 1200 L510 1215 C480 1140 455 1070 440 1010 Z" fill="#a9d3ea"/>
<rect x="80" y="1180" width="640" height="150" fill="url(#gFadeW)"/>
</g>
<rect x="196.5" y="776.3" width="292.8" height="577.9" fill="url(#gShade)"/>
<line x1="489.3" y1="779.8" x2="489.3" y2="1354.2" stroke="#000" stroke-width="3.9" stroke-dasharray="0.01 12.52" stroke-linecap="round"/>
<text x="203.3" y="1297.9" font-family='"Liberation Sans", Arial, sans-serif' font-size="35.2">K<tspan font-size="25.6" dy="7.4">d,app1</tspan><tspan dy="-7.4">=0.3nM</tspan></text>
<text x="203.3" y="1341.5" font-family='"Liberation Sans", Arial, sans-serif' font-size="35.2">IgG</text>
<text x="308" y="1341.5" font-family='"Liberation Sans", Arial, sans-serif' font-size="35.2">=181.5nM</text>
<line x1="192.3" y1="776.3" x2="192.3" y2="1373.2" stroke="#000" stroke-width="8.5"/>
<line x1="188.0" y1="1354.2" x2="821.5" y2="1354.2" stroke="#000" stroke-width="8"/>
<line x1="172.5" y1="1348.2" x2="192.3" y2="1348.2" stroke="#000" stroke-width="7.5"/>
<text x="168.8" y="1364.5" text-anchor="end" font-family='"Liberation Sans", Arial, sans-serif' font-weight="700" font-size="45.5">0.0</text>
<line x1="180.5" y1="1325.7" x2="192.3" y2="1325.7" stroke="#000" stroke-width="6.7"/>
<line x1="180.5" y1="1303.2" x2="192.3" y2="1303.2" stroke="#000" stroke-width="6.7"/>
<line x1="180.5" y1="1280.8" x2="192.3" y2="1280.8" stroke="#000" stroke-width="6.7"/>
<line x1="180.5" y1="1258.3" x2="192.3" y2="1258.3" stroke="#000" stroke-width="6.7"/>
<line x1="172.5" y1="1235.8" x2="192.3" y2="1235.8" stroke="#000" stroke-width="7.5"/>
<text x="168.8" y="1252.1" text-anchor="end" font-family='"Liberation Sans", Arial, sans-serif' font-weight="700" font-size="45.5">0.2</text>
<line x1="180.5" y1="1213.3" x2="192.3" y2="1213.3" stroke="#000" stroke-width="6.7"/>
<line x1="180.5" y1="1190.8" x2="192.3" y2="1190.8" stroke="#000" stroke-width="6.7"/>
<line x1="180.5" y1="1168.4" x2="192.3" y2="1168.4" stroke="#000" stroke-width="6.7"/>
<line x1="180.5" y1="1145.9" x2="192.3" y2="1145.9" stroke="#000" stroke-width="6.7"/>
<line x1="172.5" y1="1123.4" x2="192.3" y2="1123.4" stroke="#000" stroke-width="7.5"/>
<text x="168.8" y="1139.7" text-anchor="end" font-family='"Liberation Sans", Arial, sans-serif' font-weight="700" font-size="45.5">0.4</text>
<line x1="180.5" y1="1100.9" x2="192.3" y2="1100.9" stroke="#000" stroke-width="6.7"/>
<line x1="180.5" y1="1078.4" x2="192.3" y2="1078.4" stroke="#000" stroke-width="6.7"/>
<line x1="180.5" y1="1056.0" x2="192.3" y2="1056.0" stroke="#000" stroke-width="6.7"/>
<line x1="180.5" y1="1033.5" x2="192.3" y2="1033.5" stroke="#000" stroke-width="6.7"/>
<line x1="172.5" y1="1011.0" x2="192.3" y2="1011.0" stroke="#000" stroke-width="7.5"/>
<text x="168.8" y="1027.3" text-anchor="end" font-family='"Liberation Sans", Arial, sans-serif' font-weight="700" font-size="45.5">0.6</text>
<line x1="180.5" y1="988.5" x2="192.3" y2="988.5" stroke="#000" stroke-width="6.7"/>
<line x1="180.5" y1="966.0" x2="192.3" y2="966.0" stroke="#000" stroke-width="6.7"/>
<line x1="180.5" y1="943.6" x2="192.3" y2="943.6" stroke="#000" stroke-width="6.7"/>
<line x1="180.5" y1="921.1" x2="192.3" y2="921.1" stroke="#000" stroke-width="6.7"/>
<line x1="172.5" y1="898.6" x2="192.3" y2="898.6" stroke="#000" stroke-width="7.5"/>
<text x="168.8" y="914.9" text-anchor="end" font-family='"Liberation Sans", Arial, sans-serif' font-weight="700" font-size="45.5">0.8</text>
<line x1="180.5" y1="876.1" x2="192.3" y2="876.1" stroke="#000" stroke-width="6.7"/>
<line x1="180.5" y1="853.6" x2="192.3" y2="853.6" stroke="#000" stroke-width="6.7"/>
<line x1="180.5" y1="831.2" x2="192.3" y2="831.2" stroke="#000" stroke-width="6.7"/>
<line x1="180.5" y1="808.7" x2="192.3" y2="808.7" stroke="#000" stroke-width="6.7"/>
<line x1="172.5" y1="786.2" x2="192.3" y2="786.2" stroke="#000" stroke-width="7.5"/>
<text x="168.8" y="802.5" text-anchor="end" font-family='"Liberation Sans", Arial, sans-serif' font-weight="700" font-size="45.5">1.0</text>
<text x="192.3" y="1421.7" text-anchor="middle" font-family='"Liberation Sans", Arial, sans-serif' font-weight="700" font-size="45.5">-4</text>
<line x1="348.6" y1="1354.2" x2="348.6" y2="1373.2" stroke="#000" stroke-width="8"/>
<text x="348.6" y="1421.7" text-anchor="middle" font-family='"Liberation Sans", Arial, sans-serif' font-weight="700" font-size="45.5">-2</text>
<line x1="504.9" y1="1354.2" x2="504.9" y2="1373.2" stroke="#000" stroke-width="8"/>
<text x="504.9" y="1421.7" text-anchor="middle" font-family='"Liberation Sans", Arial, sans-serif' font-weight="700" font-size="45.5">0</text>
<line x1="661.2" y1="1354.2" x2="661.2" y2="1373.2" stroke="#000" stroke-width="8"/>
<text x="661.2" y="1421.7" text-anchor="middle" font-family='"Liberation Sans", Arial, sans-serif' font-weight="700" font-size="45.5">2</text>
<line x1="817.5" y1="1354.2" x2="817.5" y2="1373.2" stroke="#000" stroke-width="8"/>
<text x="817.5" y="1421.7" text-anchor="middle" font-family='"Liberation Sans", Arial, sans-serif' font-weight="700" font-size="45.5">4</text>
<text x="505.9" y="1496.5" text-anchor="middle" font-family='"Liberation Sans", Arial, sans-serif' font-weight="700" font-size="51" letter-spacing="0.55">RBD (log nM)</text>
<text transform="translate(79.2,1058.4) rotate(-90)" text-anchor="middle" font-family='"Liberation Sans", Arial, sans-serif' font-weight="700" font-size="51.3" letter-spacing="0.5">Fraction bound</text>
<path d="M192.3,792.9 L193.8,792.9 L195.3,792.9 L196.9,792.9 L198.4,792.9 L199.9,792.9 L201.4,792.9 L203.0,792.9 L204.5,792.9 L206.0,792.9 L207.5,792.9 L209.1,792.9 L210.6,792.9 L212.1,792.9 L213.6,792.9 L215.2,792.9 L216.7,792.9 L218.2,792.9 L219.7,792.9 L221.3,792.9 L222.8,792.9 L224.3,792.9 L225.8,792.9 L227.4,792.9 L228.9,792.9 L230.4,792.9 L231.9,792.9 L233.4,792.9 L235.0,792.9 L236.5,792.9 L238.0,792.9 L239.5,792.9 L241.1,792.9 L242.6,792.9 L244.1,792.9 L245.6,792.9 L247.2,792.9 L248.7,792.9 L250.2,792.9 L251.7,792.9 L253.3,792.9 L254.8,792.9 L256.3,792.9 L257.8,792.9 L259.4,792.9 L260.9,792.9 L262.4,792.9 L263.9,792.9 L265.4,792.9 L267.0,792.9 L268.5,792.9 L270.0,792.9 L271.5,792.9 L273.1,792.9 L274.6,792.9 L276.1,792.9 L277.6,792.9 L279.2,792.9 L280.7,792.9 L282.2,792.9 L283.7,792.9 L285.3,792.9 L286.8,792.9 L288.3,792.9 L289.8,792.9 L291.4,792.9 L292.9,792.9 L294.4,792.9 L295.9,792.9 L297.5,792.9 L299.0,792.9 L300.5,792.9 L302.0,792.9 L303.5,792.9 L305.1,792.9 L306.6,792.9 L308.1,792.9 L309.6,792.9 L311.2,792.9 L312.7,792.9 L314.2,792.9 L315.7,792.9 L317.3,792.9 L318.8,792.9 L320.3,792.9 L321.8,792.9 L323.4,792.9 L324.9,792.9 L326.4,792.9 L327.9,792.9 L329.5,792.9 L331.0,792.9 L332.5,792.9 L334.0,792.9 L335.5,792.9 L337.1,792.9 L338.6,792.9 L340.1,792.9 L341.6,792.9 L343.2,792.9 L344.7,792.9 L346.2,792.9 L347.7,792.9 L349.3,792.9 L350.8,792.9 L352.3,792.9 L353.8,792.9 L355.4,792.9 L356.9,792.9 L358.4,792.9 L359.9,792.9 L361.5,792.9 L363.0,792.9 L364.5,792.9 L366.0,792.9 L367.6,792.9 L369.1,792.9 L370.6,792.9 L372.1,792.9 L373.6,792.9 L375.2,792.9 L376.7,792.9 L378.2,792.9 L379.7,792.9 L381.3,792.9 L382.8,792.9 L384.3,792.9 L385.8,792.9 L387.4,792.9 L388.9,792.9 L390.4,792.9 L391.9,792.9 L393.5,792.9 L395.0,792.9 L396.5,792.9 L398.0,792.9 L399.6,792.9 L401.1,792.9 L402.6,792.9 L404.1,792.9 L405.6,792.9 L407.2,792.9 L408.7,792.9 L410.2,792.9 L411.7,792.9 L413.3,792.9 L414.8,792.9 L416.3,792.9 L417.8,792.9 L419.4,792.9 L420.9,792.9 L422.4,792.9 L423.9,792.9 L425.5,792.9 L427.0,792.9 L428.5,792.9 L430.0,792.9 L431.6,792.9 L433.1,792.9 L434.6,792.9 L436.1,792.9 L437.7,792.9 L439.2,792.9 L440.7,792.9 L442.2,792.9 L443.7,792.9 L445.3,792.9 L446.8,792.9 L448.3,792.9 L449.8,792.9 L451.4,792.9 L452.9,792.9 L454.4,792.9 L455.9,792.9 L457.5,792.9 L459.0,792.9 L460.5,792.9 L462.0,792.9 L463.6,792.9 L465.1,792.9 L466.6,792.9 L468.1,792.9 L469.7,792.9 L471.2,792.9 L472.7,792.9 L474.2,792.9 L475.8,792.9 L477.3,792.9 L478.8,792.9 L480.3,792.9 L481.8,792.9 L483.4,792.9 L484.9,792.9 L486.4,792.9 L487.9,793.0 L489.5,793.0 L491.0,793.0 L492.5,793.0 L494.0,793.0 L495.6,793.0 L497.1,793.0 L498.6,793.0 L500.1,793.0 L501.7,793.0 L503.2,793.0 L504.7,793.0 L506.2,793.0 L507.8,793.0 L509.3,793.0 L510.8,793.0 L512.3,793.0 L513.8,793.1 L515.4,793.1 L516.9,793.1 L518.4,793.1 L519.9,793.1 L521.5,793.2 L523.0,793.2 L524.5,793.2 L526.0,793.2 L527.6,793.3 L529.1,793.3 L530.6,793.4 L532.1,793.4 L533.7,793.5 L535.2,793.5 L536.7,793.6 L538.2,793.7 L539.8,793.7 L541.3,793.8 L542.8,793.9 L544.3,794.1 L545.9,794.2 L547.4,794.3 L548.9,794.5 L550.4,794.7 L551.9,794.8 L553.5,795.1 L555.0,795.3 L556.5,795.6 L558.0,795.9 L559.6,796.2 L561.1,796.6 L562.6,797.0 L564.1,797.5 L565.7,798.0 L567.2,798.5 L568.7,799.2 L570.2,799.9 L571.8,800.6 L573.3,801.5 L574.8,802.5 L576.3,803.5 L577.9,804.7 L579.4,806.0 L580.9,807.5 L582.4,809.1 L583.9,810.9 L585.5,812.8 L587.0,815.0 L588.5,817.4 L590.0,820.1 L591.6,823.0 L593.1,826.2 L594.6,829.8 L596.1,833.6 L597.7,837.9 L599.2,842.6 L600.7,847.6 L602.2,853.2 L603.8,859.2 L605.3,865.8 L606.8,872.9 L608.3,880.5 L609.9,888.7 L611.4,897.6 L612.9,907.0 L614.4,917.1 L616.0,927.7 L617.5,939.0 L619.0,950.8 L620.5,963.2 L622.0,976.1 L623.6,989.5 L625.1,1003.3 L626.6,1017.4 L628.1,1031.8 L629.7,1046.4 L631.2,1061.2 L632.7,1075.9 L634.2,1090.6 L635.8,1105.2 L637.3,1119.5 L638.8,1133.6 L640.3,1147.3 L641.9,1160.5 L643.4,1173.3 L644.9,1185.6 L646.4,1197.2 L648.0,1208.3 L649.5,1218.8 L651.0,1228.7 L652.5,1238.0 L654.0,1246.7 L655.6,1254.7 L657.1,1262.2 L658.6,1269.2 L660.1,1275.6 L661.7,1281.5 L663.2,1286.9 L664.7,1291.9 L666.2,1296.4 L667.8,1300.6 L669.3,1304.4 L670.8,1307.8 L672.3,1311.0 L673.9,1313.8 L675.4,1316.4 L676.9,1318.7 L678.4,1320.9 L680.0,1322.8 L681.5,1324.5 L683.0,1326.1 L684.5,1327.5 L686.1,1328.8 L687.6,1329.9 L689.1,1330.9 L690.6,1331.9 L692.1,1332.7 L693.7,1333.5 L695.2,1334.2 L696.7,1334.8 L698.2,1335.3 L699.8,1335.8 L701.3,1336.3 L702.8,1336.7 L704.3,1337.0 L705.9,1337.4 L707.4,1337.6 L708.9,1337.9 L710.4,1338.1 L712.0,1338.4 L713.5,1338.5 L715.0,1338.7 L716.5,1338.9 L718.1,1339.0 L719.6,1339.1 L721.1,1339.2 L722.6,1339.3 L724.1,1339.4 L725.7,1339.5 L727.2,1339.6 L728.7,1339.7 L730.2,1339.7 L731.8,1339.8 L733.3,1339.8 L734.8,1339.9 L736.3,1339.9 L737.9,1339.9 L739.4,1340.0 L740.9,1340.0 L742.4,1340.0 L744.0,1340.0 L745.5,1340.0 L747.0,1340.1 L748.5,1340.1 L750.1,1340.1 L751.6,1340.1 L753.1,1340.1 L754.6,1340.1 L756.2,1340.1 L757.7,1340.1 L759.2,1340.2 L760.7,1340.2 L762.2,1340.2 L763.8,1340.2 L765.3,1340.2 L766.8,1340.2 L768.3,1340.2 L769.9,1340.2 L771.4,1340.2 L772.9,1340.2 L774.4,1340.2 L776.0,1340.2 L777.5,1340.2 L779.0,1340.2 L780.5,1340.2 L782.1,1340.2 L783.6,1340.2 L785.1,1340.2 L786.6,1340.2 L788.2,1340.2 L789.7,1340.2 L791.2,1340.2 L792.7,1340.2 L794.3,1340.2 L795.8,1340.2 L797.3,1340.2 L798.8,1340.2 L800.3,1340.2 L801.9,1340.2" fill="none" stroke="#087f08" stroke-width="6.1" stroke-linejoin="round"/>
<path d="M192.3,829.0 L193.8,829.0 L195.3,829.0 L196.9,829.0 L198.4,829.0 L199.9,829.0 L201.4,829.0 L203.0,829.0 L204.5,829.0 L206.0,829.0 L207.5,829.0 L209.1,829.0 L210.6,829.0 L212.1,829.0 L213.6,829.0 L215.2,829.0 L216.7,829.0 L218.2,829.0 L219.7,829.0 L221.3,829.0 L222.8,829.0 L224.3,829.0 L225.8,829.0 L227.4,829.0 L228.9,829.0 L230.4,829.0 L231.9,829.0 L233.4,829.0 L235.0,829.0 L236.5,829.0 L238.0,829.0 L239.5,829.0 L241.1,829.0 L242.6,829.0 L244.1,829.0 L245.6,829.0 L247.2,829.0 L248.7,829.0 L250.2,829.0 L251.7,829.0 L253.3,829.0 L254.8,829.0 L256.3,829.0 L257.8,829.0 L259.4,829.0 L260.9,829.0 L262.4,829.0 L263.9,829.0 L265.4,829.0 L267.0,829.0 L268.5,829.0 L270.0,829.0 L271.5,829.0 L273.1,829.0 L274.6,829.0 L276.1,829.0 L277.6,829.0 L279.2,829.0 L280.7,829.0 L282.2,829.0 L283.7,829.0 L285.3,829.0 L286.8,829.0 L288.3,829.0 L289.8,829.0 L291.4,829.0 L292.9,829.0 L294.4,829.0 L295.9,829.0 L297.5,829.0 L299.0,829.0 L300.5,829.0 L302.0,829.0 L303.5,829.0 L305.1,829.0 L306.6,829.0 L308.1,829.0 L309.6,829.0 L311.2,829.0 L312.7,829.0 L314.2,829.0 L315.7,829.0 L317.3,829.0 L318.8,829.0 L320.3,829.0 L321.8,829.0 L323.4,829.0 L324.9,829.0 L326.4,829.0 L327.9,829.0 L329.5,829.0 L331.0,829.0 L332.5,829.0 L334.0,829.0 L335.5,829.0 L337.1,829.0 L338.6,829.0 L340.1,829.0 L341.6,829.0 L343.2,829.0 L344.7,829.0 L346.2,829.0 L347.7,829.0 L349.3,829.0 L350.8,829.0 L352.3,829.0 L353.8,829.1 L355.4,829.1 L356.9,829.1 L358.4,829.1 L359.9,829.1 L361.5,829.1 L363.0,829.1 L364.5,829.1 L366.0,829.1 L367.6,829.1 L369.1,829.1 L370.6,829.1 L372.1,829.1 L373.6,829.1 L375.2,829.2 L376.7,829.2 L378.2,829.2 L379.7,829.2 L381.3,829.2 L382.8,829.2 L384.3,829.2 L385.8,829.3 L387.4,829.3 L388.9,829.3 L390.4,829.3 L391.9,829.3 L393.5,829.4 L395.0,829.4 L396.5,829.4 L398.0,829.4 L399.6,829.5 L401.1,829.5 L402.6,829.5 L404.1,829.6 L405.6,829.6 L407.2,829.6 L408.7,829.7 L410.2,829.7 L411.7,829.8 L413.3,829.8 L414.8,829.9 L416.3,829.9 L417.8,830.0 L419.4,830.1 L420.9,830.1 L422.4,830.2 L423.9,830.3 L425.5,830.4 L427.0,830.5 L428.5,830.6 L430.0,830.7 L431.6,830.8 L433.1,830.9 L434.6,831.1 L436.1,831.2 L437.7,831.3 L439.2,831.5 L440.7,831.7 L442.2,831.8 L443.7,832.0 L445.3,832.2 L446.8,832.4 L448.3,832.7 L449.8,832.9 L451.4,833.2 L452.9,833.4 L454.4,833.7 L455.9,834.1 L457.5,834.4 L459.0,834.7 L460.5,835.1 L462.0,835.5 L463.6,836.0 L465.1,836.4 L466.6,836.9 L468.1,837.4 L469.7,838.0 L471.2,838.5 L472.7,839.2 L474.2,839.8 L475.8,840.5 L477.3,841.3 L478.8,842.1 L480.3,842.9 L481.8,843.8 L483.4,844.8 L484.9,845.8 L486.4,846.9 L487.9,848.0 L489.5,849.2 L491.0,850.5 L492.5,851.9 L494.0,853.3 L495.6,854.9 L497.1,856.5 L498.6,858.2 L500.1,860.1 L501.7,862.0 L503.2,864.0 L504.7,866.2 L506.2,868.5 L507.8,870.9 L509.3,873.4 L510.8,876.1 L512.3,878.9 L513.8,881.9 L515.4,885.1 L516.9,888.4 L518.4,891.8 L519.9,895.5 L521.5,899.3 L523.0,903.3 L524.5,907.5 L526.0,911.8 L527.6,916.4 L529.1,921.2 L530.6,926.1 L532.1,931.3 L533.7,936.7 L535.2,942.3 L536.7,948.1 L538.2,954.1 L539.8,960.3 L541.3,966.7 L542.8,973.3 L544.3,980.0 L545.9,987.0 L547.4,994.1 L548.9,1001.4 L550.4,1008.9 L551.9,1016.5 L553.5,1024.3 L555.0,1032.1 L556.5,1040.1 L558.0,1048.2 L559.6,1056.3 L561.1,1064.5 L562.6,1072.8 L564.1,1081.1 L565.7,1089.4 L567.2,1097.7 L568.7,1105.9 L570.2,1114.2 L571.8,1122.3 L573.3,1130.4 L574.8,1138.4 L576.3,1146.4 L577.9,1154.2 L579.4,1161.8 L580.9,1169.4 L582.4,1176.7 L583.9,1183.9 L585.5,1191.0 L587.0,1197.8 L588.5,1204.5 L590.0,1211.0 L591.6,1217.3 L593.1,1223.4 L594.6,1229.2 L596.1,1234.9 L597.7,1240.4 L599.2,1245.6 L600.7,1250.7 L602.2,1255.6 L603.8,1260.2 L605.3,1264.7 L606.8,1268.9 L608.3,1273.0 L609.9,1276.9 L611.4,1280.6 L612.9,1284.2 L614.4,1287.5 L616.0,1290.7 L617.5,1293.8 L619.0,1296.7 L620.5,1299.4 L622.0,1302.0 L623.6,1304.5 L625.1,1306.8 L626.6,1309.0 L628.1,1311.1 L629.7,1313.1 L631.2,1315.0 L632.7,1316.8 L634.2,1318.4 L635.8,1320.0 L637.3,1321.5 L638.8,1322.9 L640.3,1324.2 L641.9,1325.5 L643.4,1326.6 L644.9,1327.7 L646.4,1328.8 L648.0,1329.8 L649.5,1330.7 L651.0,1331.6 L652.5,1332.4 L654.0,1333.1 L655.6,1333.9 L657.1,1334.5 L658.6,1335.2 L660.1,1335.8 L661.7,1336.3 L663.2,1336.9 L664.7,1337.4 L666.2,1337.8 L667.8,1338.3 L669.3,1338.7 L670.8,1339.1 L672.3,1339.5 L673.9,1339.8 L675.4,1340.1 L676.9,1340.4 L678.4,1340.7 L680.0,1341.0 L681.5,1341.2 L683.0,1341.5 L684.5,1341.7 L686.1,1341.9 L687.6,1342.1 L689.1,1342.3 L690.6,1342.4 L692.1,1342.6 L693.7,1342.7 L695.2,1342.9 L696.7,1343.0 L698.2,1343.1 L699.8,1343.2 L701.3,1343.4 L702.8,1343.5 L704.3,1343.6 L705.9,1343.6 L707.4,1343.7 L708.9,1343.8 L710.4,1343.9 L712.0,1344.0 L713.5,1344.0 L715.0,1344.1 L716.5,1344.1 L718.1,1344.2 L719.6,1344.2 L721.1,1344.3 L722.6,1344.3 L724.1,1344.4 L725.7,1344.4 L727.2,1344.5 L728.7,1344.5 L730.2,1344.5 L731.8,1344.5 L733.3,1344.6 L734.8,1344.6 L736.3,1344.6 L737.9,1344.7 L739.4,1344.7 L740.9,1344.7 L742.4,1344.7 L744.0,1344.7 L745.5,1344.7 L747.0,1344.8 L748.5,1344.8 L750.1,1344.8 L751.6,1344.8 L753.1,1344.8 L754.6,1344.8 L756.2,1344.8 L757.7,1344.9 L759.2,1344.9 L760.7,1344.9 L762.2,1344.9 L763.8,1344.9 L765.3,1344.9 L766.8,1344.9 L768.3,1344.9 L769.9,1344.9 L771.4,1344.9 L772.9,1344.9 L774.4,1344.9 L776.0,1344.9 L777.5,1344.9 L779.0,1344.9 L780.5,1344.9 L782.1,1345.0 L783.6,1345.0 L785.1,1345.0 L786.6,1345.0 L788.2,1345.0 L789.7,1345.0 L791.2,1345.0 L792.7,1345.0 L794.3,1345.0 L795.8,1345.0 L797.3,1345.0 L798.8,1345.0 L800.3,1345.0 L801.9,1345.0" fill="none" stroke="#087f08" stroke-width="6.1" stroke-linejoin="round"/>
<path d="M192.3,871.8 L193.8,871.8 L195.3,871.8 L196.9,871.8 L198.4,871.8 L199.9,871.8 L201.4,871.8 L203.0,871.8 L204.5,871.8 L206.0,871.8 L207.5,871.8 L209.1,871.8 L210.6,871.8 L212.1,871.8 L213.6,871.8 L215.2,871.8 L216.7,871.8 L218.2,871.8 L219.7,871.8 L221.3,871.8 L222.8,871.8 L224.3,871.8 L225.8,871.8 L227.4,871.8 L228.9,871.8 L230.4,871.8 L231.9,871.8 L233.4,871.8 L235.0,871.8 L236.5,871.8 L238.0,871.8 L239.5,871.8 L241.1,871.8 L242.6,871.8 L244.1,871.8 L245.6,871.8 L247.2,871.8 L248.7,871.8 L250.2,871.8 L251.7,871.8 L253.3,871.8 L254.8,871.8 L256.3,871.8 L257.8,871.8 L259.4,871.8 L260.9,871.8 L262.4,871.8 L263.9,871.8 L265.4,871.8 L267.0,871.8 L268.5,871.8 L270.0,871.8 L271.5,871.8 L273.1,871.8 L274.6,871.8 L276.1,871.8 L277.6,871.8 L279.2,871.8 L280.7,871.8 L282.2,871.8 L283.7,871.8 L285.3,871.8 L286.8,871.8 L288.3,871.8 L289.8,871.8 L291.4,871.8 L292.9,871.8 L294.4,871.8 L295.9,871.8 L297.5,871.8 L299.0,871.8 L300.5,871.8 L302.0,871.8 L303.5,871.8 L305.1,871.8 L306.6,871.8 L308.1,871.8 L309.6,871.8 L311.2,871.8 L312.7,871.8 L314.2,871.8 L315.7,871.8 L317.3,871.8 L318.8,871.8 L320.3,871.8 L321.8,871.8 L323.4,871.8 L324.9,871.8 L326.4,871.8 L327.9,871.8 L329.5,871.8 L331.0,871.8 L332.5,871.8 L334.0,871.8 L335.5,871.8 L337.1,871.8 L338.6,871.8 L340.1,871.8 L341.6,871.8 L343.2,871.8 L344.7,871.8 L346.2,871.8 L347.7,871.8 L349.3,871.8 L350.8,871.8 L352.3,871.9 L353.8,871.9 L355.4,871.9 L356.9,871.9 L358.4,871.9 L359.9,871.9 L361.5,871.9 L363.0,871.9 L364.5,871.9 L366.0,871.9 L367.6,871.9 L369.1,871.9 L370.6,871.9 L372.1,872.0 L373.6,872.0 L375.2,872.0 L376.7,872.0 L378.2,872.0 L379.7,872.0 L381.3,872.0 L382.8,872.1 L384.3,872.1 L385.8,872.1 L387.4,872.1 L388.9,872.1 L390.4,872.2 L391.9,872.2 L393.5,872.2 L395.0,872.3 L396.5,872.3 L398.0,872.3 L399.6,872.4 L401.1,872.4 L402.6,872.5 L404.1,872.5 L405.6,872.6 L407.2,872.6 L408.7,872.7 L410.2,872.7 L411.7,872.8 L413.3,872.9 L414.8,873.0 L416.3,873.0 L417.8,873.1 L419.4,873.2 L420.9,873.3 L422.4,873.5 L423.9,873.6 L425.5,873.7 L427.0,873.8 L428.5,874.0 L430.0,874.1 L431.6,874.3 L433.1,874.5 L434.6,874.7 L436.1,874.9 L437.7,875.1 L439.2,875.4 L440.7,875.6 L442.2,875.9 L443.7,876.2 L445.3,876.5 L446.8,876.8 L448.3,877.2 L449.8,877.6 L451.4,878.0 L452.9,878.5 L454.4,878.9 L455.9,879.4 L457.5,880.0 L459.0,880.6 L460.5,881.2 L462.0,881.9 L463.6,882.6 L465.1,883.3 L466.6,884.1 L468.1,885.0 L469.7,885.9 L471.2,886.9 L472.7,888.0 L474.2,889.1 L475.8,890.3 L477.3,891.6 L478.8,893.0 L480.3,894.4 L481.8,896.0 L483.4,897.6 L484.9,899.4 L486.4,901.3 L487.9,903.3 L489.5,905.4 L491.0,907.6 L492.5,910.0 L494.0,912.5 L495.6,915.2 L497.1,918.0 L498.6,921.0 L500.1,924.2 L501.7,927.6 L503.2,931.1 L504.7,934.8 L506.2,938.7 L507.8,942.8 L509.3,947.2 L510.8,951.7 L512.3,956.4 L513.8,961.4 L515.4,966.6 L516.9,972.0 L518.4,977.6 L519.9,983.5 L521.5,989.6 L523.0,995.9 L524.5,1002.4 L526.0,1009.1 L527.6,1016.0 L529.1,1023.1 L530.6,1030.4 L532.1,1037.9 L533.7,1045.5 L535.2,1053.2 L536.7,1061.1 L538.2,1069.1 L539.8,1077.2 L541.3,1085.4 L542.8,1093.6 L544.3,1101.9 L545.9,1110.2 L547.4,1118.4 L548.9,1126.7 L550.4,1134.9 L551.9,1143.1 L553.5,1151.1 L555.0,1159.1 L556.5,1166.9 L558.0,1174.7 L559.6,1182.2 L561.1,1189.7 L562.6,1196.9 L564.1,1203.9 L565.7,1210.8 L567.2,1217.5 L568.7,1223.9 L570.2,1230.1 L571.8,1236.1 L573.3,1241.9 L574.8,1247.5 L576.3,1252.9 L577.9,1258.0 L579.4,1262.9 L580.9,1267.6 L582.4,1272.1 L583.9,1276.3 L585.5,1280.4 L587.0,1284.2 L588.5,1287.9 L590.0,1291.4 L591.6,1294.7 L593.1,1297.8 L594.6,1300.8 L596.1,1303.6 L597.7,1306.2 L599.2,1308.7 L600.7,1311.0 L602.2,1313.2 L603.8,1315.3 L605.3,1317.3 L606.8,1319.1 L608.3,1320.8 L609.9,1322.5 L611.4,1324.0 L612.9,1325.4 L614.4,1326.8 L616.0,1328.0 L617.5,1329.2 L619.0,1330.3 L620.5,1331.4 L622.0,1332.3 L623.6,1333.2 L625.1,1334.1 L626.6,1334.9 L628.1,1335.6 L629.7,1336.3 L631.2,1337.0 L632.7,1337.6 L634.2,1338.2 L635.8,1338.7 L637.3,1339.2 L638.8,1339.7 L640.3,1340.1 L641.9,1340.5 L643.4,1340.9 L644.9,1341.3 L646.4,1341.6 L648.0,1341.9 L649.5,1342.2 L651.0,1342.5 L652.5,1342.7 L654.0,1342.9 L655.6,1343.2 L657.1,1343.4 L658.6,1343.6 L660.1,1343.7 L661.7,1343.9 L663.2,1344.1 L664.7,1344.2 L666.2,1344.3 L667.8,1344.5 L669.3,1344.6 L670.8,1344.7 L672.3,1344.8 L673.9,1344.9 L675.4,1345.0 L676.9,1345.1 L678.4,1345.1 L680.0,1345.2 L681.5,1345.3 L683.0,1345.3 L684.5,1345.4 L686.1,1345.5 L687.6,1345.5 L689.1,1345.6 L690.6,1345.6 L692.1,1345.6 L693.7,1345.7 L695.2,1345.7 L696.7,1345.8 L698.2,1345.8 L699.8,1345.8 L701.3,1345.8 L702.8,1345.9 L704.3,1345.9 L705.9,1345.9 L707.4,1345.9 L708.9,1346.0 L710.4,1346.0 L712.0,1346.0 L713.5,1346.0 L715.0,1346.0 L716.5,1346.0 L718.1,1346.0 L719.6,1346.1 L721.1,1346.1 L722.6,1346.1 L724.1,1346.1 L725.7,1346.1 L727.2,1346.1 L728.7,1346.1 L730.2,1346.1 L731.8,1346.1 L733.3,1346.1 L734.8,1346.1 L736.3,1346.1 L737.9,1346.1 L739.4,1346.2 L740.9,1346.2 L742.4,1346.2 L744.0,1346.2 L745.5,1346.2 L747.0,1346.2 L748.5,1346.2 L750.1,1346.2 L751.6,1346.2 L753.1,1346.2 L754.6,1346.2 L756.2,1346.2 L757.7,1346.2 L759.2,1346.2 L760.7,1346.2 L762.2,1346.2 L763.8,1346.2 L765.3,1346.2 L766.8,1346.2 L768.3,1346.2 L769.9,1346.2 L771.4,1346.2 L772.9,1346.2 L774.4,1346.2 L776.0,1346.2 L777.5,1346.2 L779.0,1346.2 L780.5,1346.2 L782.1,1346.2 L783.6,1346.2 L785.1,1346.2 L786.6,1346.2 L788.2,1346.2 L789.7,1346.2 L791.2,1346.2 L792.7,1346.2 L794.3,1346.2 L795.8,1346.2 L797.3,1346.2 L798.8,1346.2 L800.3,1346.2 L801.9,1346.2" fill="none" stroke="#087f08" stroke-width="6.1" stroke-linejoin="round"/>
<circle cx="254.8" cy="791.8" r="12.2" fill="none" stroke="#000" stroke-width="4.2"/>
<circle cx="333.0" cy="791.8" r="12.2" fill="none" stroke="#000" stroke-width="4.2"/>
<circle cx="411.1" cy="791.8" r="12.2" fill="none" stroke="#000" stroke-width="4.2"/>
<circle cx="489.3" cy="797.4" r="12.2" fill="none" stroke="#000" stroke-width="4.2"/>
<circle cx="567.4" cy="797.4" r="12.2" fill="none" stroke="#000" stroke-width="4.2"/>
<circle cx="645.6" cy="1190.8" r="12.2" fill="none" stroke="#000" stroke-width="4.2"/>
<circle cx="723.7" cy="1331.3" r="12.2" fill="none" stroke="#000" stroke-width="4.2"/>
<circle cx="801.9" cy="1348.2" r="12.2" fill="none" stroke="#000" stroke-width="4.2"/>
<rect x="242.2" y="818.6" width="25.2" height="25.2" fill="none" stroke="#000" stroke-width="4.2"/>
<rect x="320.4" y="818.6" width="25.2" height="25.2" fill="none" stroke="#000" stroke-width="4.2"/>
<rect x="398.5" y="818.6" width="25.2" height="25.2" fill="none" stroke="#000" stroke-width="4.2"/>
<rect x="476.7" y="829.8" width="25.2" height="25.2" fill="none" stroke="#000" stroke-width="4.2"/>
<rect x="554.8" y="1088.3" width="25.2" height="25.2" fill="none" stroke="#000" stroke-width="4.2"/>
<rect x="633.0" y="1307.5" width="25.2" height="25.2" fill="none" stroke="#000" stroke-width="4.2"/>
<rect x="711.1" y="1335.6" width="25.2" height="25.2" fill="none" stroke="#000" stroke-width="4.2"/>
<rect x="789.3" y="1335.6" width="25.2" height="25.2" fill="none" stroke="#000" stroke-width="4.2"/>
<polygon points="254.8,859.8 242.4,883.5 267.2,883.5" fill="none" stroke="#000" stroke-width="4.2" stroke-linejoin="miter"/>
<polygon points="333.0,859.8 320.6,883.5 345.4,883.5" fill="none" stroke="#000" stroke-width="4.2" stroke-linejoin="miter"/>
<polygon points="411.1,865.4 398.7,889.1 423.5,889.1" fill="none" stroke="#000" stroke-width="4.2" stroke-linejoin="miter"/>
<polygon points="489.3,893.5 476.9,917.2 501.7,917.2" fill="none" stroke="#000" stroke-width="4.2" stroke-linejoin="miter"/>
<polygon points="567.4,1208.2 555.0,1231.9 579.8,1231.9" fill="none" stroke="#000" stroke-width="4.2" stroke-linejoin="miter"/>
<polygon points="645.6,1326.3 633.2,1350.0 658.0,1350.0" fill="none" stroke="#000" stroke-width="4.2" stroke-linejoin="miter"/>
<polygon points="723.7,1337.5 711.3,1361.2 736.1,1361.2" fill="none" stroke="#000" stroke-width="4.2" stroke-linejoin="miter"/>
<polygon points="801.9,1337.5 789.5,1361.2 814.3,1361.2" fill="none" stroke="#000" stroke-width="4.2" stroke-linejoin="miter"/>
<rect x="1055.4" y="776.3" width="292.2" height="577.9" fill="url(#gShade)"/>
<line x1="1347.6" y1="779.8" x2="1347.6" y2="1354.2" stroke="#000" stroke-width="3.9" stroke-dasharray="0.01 12.52" stroke-linecap="round"/>
<text x="1063" y="812.7" font-family='"Liberation Sans", Arial, sans-serif' font-size="35.2">K<tspan font-size="25.6" dy="7.4">d,app1</tspan><tspan dy="-7.4">=14.7nM</tspan></text>
<text x="1063" y="857" font-family='"Liberation Sans", Arial, sans-serif' font-size="35.2">IgG</text>
<text x="1167" y="857" font-family='"Liberation Sans", Arial, sans-serif' font-size="35.2">=269.0nM</text>
<line x1="1051.2" y1="776.3" x2="1051.2" y2="1373.2" stroke="#000" stroke-width="8.5"/>
<line x1="1047.0" y1="1354.2" x2="1679.2" y2="1354.2" stroke="#000" stroke-width="8"/>
<line x1="1031.4" y1="1348.2" x2="1051.2" y2="1348.2" stroke="#000" stroke-width="7.5"/>
<text x="1027.7" y="1364.5" text-anchor="end" font-family='"Liberation Sans", Arial, sans-serif' font-weight="700" font-size="45.5">0.0</text>
<line x1="1039.4" y1="1325.7" x2="1051.2" y2="1325.7" stroke="#000" stroke-width="6.7"/>
<line x1="1039.4" y1="1303.2" x2="1051.2" y2="1303.2" stroke="#000" stroke-width="6.7"/>
<line x1="1039.4" y1="1280.8" x2="1051.2" y2="1280.8" stroke="#000" stroke-width="6.7"/>
<line x1="1039.4" y1="1258.3" x2="1051.2" y2="1258.3" stroke="#000" stroke-width="6.7"/>
<line x1="1031.4" y1="1235.8" x2="1051.2" y2="1235.8" stroke="#000" stroke-width="7.5"/>
<text x="1027.7" y="1252.1" text-anchor="end" font-family='"Liberation Sans", Arial, sans-serif' font-weight="700" font-size="45.5">0.2</text>
<line x1="1039.4" y1="1213.3" x2="1051.2" y2="1213.3" stroke="#000" stroke-width="6.7"/>
<line x1="1039.4" y1="1190.8" x2="1051.2" y2="1190.8" stroke="#000" stroke-width="6.7"/>
<line x1="1039.4" y1="1168.4" x2="1051.2" y2="1168.4" stroke="#000" stroke-width="6.7"/>
<line x1="1039.4" y1="1145.9" x2="1051.2" y2="1145.9" stroke="#000" stroke-width="6.7"/>
<line x1="1031.4" y1="1123.4" x2="1051.2" y2="1123.4" stroke="#000" stroke-width="7.5"/>
<text x="1027.7" y="1139.7" text-anchor="end" font-family='"Liberation Sans", Arial, sans-serif' font-weight="700" font-size="45.5">0.4</text>
<line x1="1039.4" y1="1100.9" x2="1051.2" y2="1100.9" stroke="#000" stroke-width="6.7"/>
<line x1="1039.4" y1="1078.4" x2="1051.2" y2="1078.4" stroke="#000" stroke-width="6.7"/>
<line x1="1039.4" y1="1056.0" x2="1051.2" y2="1056.0" stroke="#000" stroke-width="6.7"/>
<line x1="1039.4" y1="1033.5" x2="1051.2" y2="1033.5" stroke="#000" stroke-width="6.7"/>
<line x1="1031.4" y1="1011.0" x2="1051.2" y2="1011.0" stroke="#000" stroke-width="7.5"/>
<text x="1027.7" y="1027.3" text-anchor="end" font-family='"Liberation Sans", Arial, sans-serif' font-weight="700" font-size="45.5">0.6</text>
<line x1="1039.4" y1="988.5" x2="1051.2" y2="988.5" stroke="#000" stroke-width="6.7"/>
<line x1="1039.4" y1="966.0" x2="1051.2" y2="966.0" stroke="#000" stroke-width="6.7"/>
<line x1="1039.4" y1="943.6" x2="1051.2" y2="943.6" stroke="#000" stroke-width="6.7"/>
<line x1="1039.4" y1="921.1" x2="1051.2" y2="921.1" stroke="#000" stroke-width="6.7"/>
<line x1="1031.4" y1="898.6" x2="1051.2" y2="898.6" stroke="#000" stroke-width="7.5"/>
<text x="1027.7" y="914.9" text-anchor="end" font-family='"Liberation Sans", Arial, sans-serif' font-weight="700" font-size="45.5">0.8</text>
<line x1="1039.4" y1="876.1" x2="1051.2" y2="876.1" stroke="#000" stroke-width="6.7"/>
<line x1="1039.4" y1="853.6" x2="1051.2" y2="853.6" stroke="#000" stroke-width="6.7"/>
<line x1="1039.4" y1="831.2" x2="1051.2" y2="831.2" stroke="#000" stroke-width="6.7"/>
<line x1="1039.4" y1="808.7" x2="1051.2" y2="808.7" stroke="#000" stroke-width="6.7"/>
<line x1="1031.4" y1="786.2" x2="1051.2" y2="786.2" stroke="#000" stroke-width="7.5"/>
<text x="1027.7" y="802.5" text-anchor="end" font-family='"Liberation Sans", Arial, sans-serif' font-weight="700" font-size="45.5">1.0</text>
<text x="1051.2" y="1421.7" text-anchor="middle" font-family='"Liberation Sans", Arial, sans-serif' font-weight="700" font-size="45.5">-4</text>
<line x1="1207.2" y1="1354.2" x2="1207.2" y2="1373.2" stroke="#000" stroke-width="8"/>
<text x="1207.2" y="1421.7" text-anchor="middle" font-family='"Liberation Sans", Arial, sans-serif' font-weight="700" font-size="45.5">-2</text>
<line x1="1363.2" y1="1354.2" x2="1363.2" y2="1373.2" stroke="#000" stroke-width="8"/>
<text x="1363.2" y="1421.7" text-anchor="middle" font-family='"Liberation Sans", Arial, sans-serif' font-weight="700" font-size="45.5">0</text>
<line x1="1519.2" y1="1354.2" x2="1519.2" y2="1373.2" stroke="#000" stroke-width="8"/>
<text x="1519.2" y="1421.7" text-anchor="middle" font-family='"Liberation Sans", Arial, sans-serif' font-weight="700" font-size="45.5">2</text>
<line x1="1675.2" y1="1354.2" x2="1675.2" y2="1373.2" stroke="#000" stroke-width="8"/>
<text x="1675.2" y="1421.7" text-anchor="middle" font-family='"Liberation Sans", Arial, sans-serif' font-weight="700" font-size="45.5">4</text>
<text x="1364.2" y="1496.5" text-anchor="middle" font-family='"Liberation Sans", Arial, sans-serif' font-weight="700" font-size="51" letter-spacing="0.55">RBD (log nM)</text>
<path d="M1051.2,983.6 L1052.7,983.6 L1054.2,983.6 L1055.8,983.6 L1057.3,983.6 L1058.8,983.6 L1060.3,983.6 L1061.8,983.6 L1063.4,983.6 L1064.9,983.6 L1066.4,983.6 L1067.9,983.6 L1069.5,983.6 L1071.0,983.6 L1072.5,983.6 L1074.0,983.6 L1075.5,983.6 L1077.1,983.6 L1078.6,983.6 L1080.1,983.6 L1081.6,983.6 L1083.1,983.6 L1084.7,983.6 L1086.2,983.6 L1087.7,983.6 L1089.2,983.6 L1090.7,983.6 L1092.3,983.6 L1093.8,983.6 L1095.3,983.6 L1096.8,983.6 L1098.4,983.6 L1099.9,983.6 L1101.4,983.6 L1102.9,983.6 L1104.4,983.6 L1106.0,983.6 L1107.5,983.6 L1109.0,983.6 L1110.5,983.6 L1112.0,983.6 L1113.6,983.6 L1115.1,983.6 L1116.6,983.6 L1118.1,983.6 L1119.6,983.6 L1121.2,983.6 L1122.7,983.6 L1124.2,983.6 L1125.7,983.6 L1127.2,983.6 L1128.8,983.6 L1130.3,983.6 L1131.8,983.6 L1133.3,983.6 L1134.9,983.6 L1136.4,983.6 L1137.9,983.6 L1139.4,983.6 L1140.9,983.6 L1142.5,983.6 L1144.0,983.6 L1145.5,983.6 L1147.0,983.6 L1148.5,983.6 L1150.1,983.6 L1151.6,983.6 L1153.1,983.6 L1154.6,983.6 L1156.1,983.6 L1157.7,983.6 L1159.2,983.6 L1160.7,983.6 L1162.2,983.6 L1163.8,983.6 L1165.3,983.6 L1166.8,983.6 L1168.3,983.6 L1169.8,983.6 L1171.4,983.6 L1172.9,983.6 L1174.4,983.6 L1175.9,983.6 L1177.4,983.6 L1179.0,983.6 L1180.5,983.6 L1182.0,983.6 L1183.5,983.6 L1185.0,983.6 L1186.6,983.6 L1188.1,983.6 L1189.6,983.6 L1191.1,983.6 L1192.7,983.6 L1194.2,983.6 L1195.7,983.6 L1197.2,983.6 L1198.7,983.6 L1200.3,983.6 L1201.8,983.6 L1203.3,983.6 L1204.8,983.6 L1206.3,983.6 L1207.9,983.6 L1209.4,983.6 L1210.9,983.6 L1212.4,983.6 L1213.9,983.6 L1215.5,983.6 L1217.0,983.6 L1218.5,983.6 L1220.0,983.6 L1221.6,983.6 L1223.1,983.6 L1224.6,983.6 L1226.1,983.6 L1227.6,983.6 L1229.2,983.6 L1230.7,983.6 L1232.2,983.6 L1233.7,983.6 L1235.2,983.6 L1236.8,983.6 L1238.3,983.6 L1239.8,983.6 L1241.3,983.6 L1242.8,983.6 L1244.4,983.6 L1245.9,983.7 L1247.4,983.7 L1248.9,983.7 L1250.5,983.7 L1252.0,983.7 L1253.5,983.7 L1255.0,983.7 L1256.5,983.7 L1258.1,983.7 L1259.6,983.7 L1261.1,983.7 L1262.6,983.7 L1264.1,983.7 L1265.7,983.7 L1267.2,983.7 L1268.7,983.7 L1270.2,983.7 L1271.7,983.7 L1273.3,983.7 L1274.8,983.7 L1276.3,983.7 L1277.8,983.7 L1279.4,983.8 L1280.9,983.8 L1282.4,983.8 L1283.9,983.8 L1285.4,983.8 L1287.0,983.8 L1288.5,983.8 L1290.0,983.8 L1291.5,983.8 L1293.0,983.8 L1294.6,983.9 L1296.1,983.9 L1297.6,983.9 L1299.1,983.9 L1300.6,983.9 L1302.2,983.9 L1303.7,984.0 L1305.2,984.0 L1306.7,984.0 L1308.2,984.0 L1309.8,984.0 L1311.3,984.1 L1312.8,984.1 L1314.3,984.1 L1315.9,984.1 L1317.4,984.2 L1318.9,984.2 L1320.4,984.2 L1321.9,984.3 L1323.5,984.3 L1325.0,984.3 L1326.5,984.4 L1328.0,984.4 L1329.5,984.5 L1331.1,984.5 L1332.6,984.6 L1334.1,984.6 L1335.6,984.7 L1337.1,984.7 L1338.7,984.8 L1340.2,984.9 L1341.7,984.9 L1343.2,985.0 L1344.8,985.1 L1346.3,985.2 L1347.8,985.2 L1349.3,985.3 L1350.8,985.4 L1352.4,985.5 L1353.9,985.6 L1355.4,985.7 L1356.9,985.8 L1358.4,986.0 L1360.0,986.1 L1361.5,986.2 L1363.0,986.4 L1364.5,986.5 L1366.0,986.7 L1367.6,986.8 L1369.1,987.0 L1370.6,987.2 L1372.1,987.4 L1373.7,987.6 L1375.2,987.8 L1376.7,988.0 L1378.2,988.3 L1379.7,988.5 L1381.3,988.8 L1382.8,989.1 L1384.3,989.4 L1385.8,989.7 L1387.3,990.0 L1388.9,990.3 L1390.4,990.7 L1391.9,991.1 L1393.4,991.5 L1394.9,991.9 L1396.5,992.3 L1398.0,992.8 L1399.5,993.3 L1401.0,993.8 L1402.6,994.3 L1404.1,994.9 L1405.6,995.5 L1407.1,996.1 L1408.6,996.8 L1410.2,997.5 L1411.7,998.2 L1413.2,998.9 L1414.7,999.7 L1416.2,1000.6 L1417.8,1001.4 L1419.3,1002.4 L1420.8,1003.3 L1422.3,1004.3 L1423.8,1005.4 L1425.4,1006.5 L1426.9,1007.7 L1428.4,1008.9 L1429.9,1010.2 L1431.5,1011.5 L1433.0,1012.9 L1434.5,1014.4 L1436.0,1015.9 L1437.5,1017.5 L1439.1,1019.1 L1440.6,1020.9 L1442.1,1022.7 L1443.6,1024.6 L1445.1,1026.5 L1446.7,1028.6 L1448.2,1030.7 L1449.7,1032.9 L1451.2,1035.2 L1452.7,1037.6 L1454.3,1040.1 L1455.8,1042.7 L1457.3,1045.3 L1458.8,1048.1 L1460.3,1050.9 L1461.9,1053.9 L1463.4,1057.0 L1464.9,1060.1 L1466.4,1063.4 L1468.0,1066.7 L1469.5,1070.2 L1471.0,1073.7 L1472.5,1077.3 L1474.0,1081.1 L1475.6,1084.9 L1477.1,1088.8 L1478.6,1092.8 L1480.1,1096.9 L1481.6,1101.1 L1483.2,1105.4 L1484.7,1109.7 L1486.2,1114.1 L1487.7,1118.6 L1489.2,1123.1 L1490.8,1127.7 L1492.3,1132.3 L1493.8,1137.0 L1495.3,1141.8 L1496.9,1146.5 L1498.4,1151.3 L1499.9,1156.1 L1501.4,1161.0 L1502.9,1165.8 L1504.5,1170.6 L1506.0,1175.5 L1507.5,1180.3 L1509.0,1185.1 L1510.5,1189.8 L1512.1,1194.6 L1513.6,1199.3 L1515.1,1203.9 L1516.6,1208.5 L1518.1,1213.1 L1519.7,1217.6 L1521.2,1222.0 L1522.7,1226.3 L1524.2,1230.6 L1525.8,1234.8 L1527.3,1238.9 L1528.8,1242.9 L1530.3,1246.9 L1531.8,1250.7 L1533.4,1254.5 L1534.9,1258.2 L1536.4,1261.7 L1537.9,1265.2 L1539.4,1268.6 L1541.0,1271.8 L1542.5,1275.0 L1544.0,1278.1 L1545.5,1281.1 L1547.0,1283.9 L1548.6,1286.7 L1550.1,1289.4 L1551.6,1292.0 L1553.1,1294.5 L1554.7,1296.9 L1556.2,1299.2 L1557.7,1301.5 L1559.2,1303.6 L1560.7,1305.7 L1562.3,1307.7 L1563.8,1309.6 L1565.3,1311.4 L1566.8,1313.1 L1568.3,1314.8 L1569.9,1316.4 L1571.4,1318.0 L1572.9,1319.4 L1574.4,1320.8 L1575.9,1322.2 L1577.5,1323.5 L1579.0,1324.7 L1580.5,1325.9 L1582.0,1327.0 L1583.6,1328.1 L1585.1,1329.1 L1586.6,1330.1 L1588.1,1331.0 L1589.6,1331.9 L1591.2,1332.7 L1592.7,1333.5 L1594.2,1334.3 L1595.7,1335.0 L1597.2,1335.7 L1598.8,1336.4 L1600.3,1337.0 L1601.8,1337.6 L1603.3,1338.2 L1604.8,1338.7 L1606.4,1339.2 L1607.9,1339.7 L1609.4,1340.2 L1610.9,1340.6 L1612.4,1341.1 L1614.0,1341.5 L1615.5,1341.9 L1617.0,1342.2 L1618.5,1342.6 L1620.1,1342.9 L1621.6,1343.2 L1623.1,1343.5 L1624.6,1343.8 L1626.1,1344.0 L1627.7,1344.3 L1629.2,1344.5 L1630.7,1344.8 L1632.2,1345.0 L1633.7,1345.2 L1635.3,1345.4 L1636.8,1345.6 L1638.3,1345.7 L1639.8,1345.9 L1641.3,1346.1 L1642.9,1346.2 L1644.4,1346.4 L1645.9,1346.5 L1647.4,1346.6 L1649.0,1346.8 L1650.5,1346.9 L1652.0,1347.0 L1653.5,1347.1 L1655.0,1347.2 L1656.6,1347.3 L1658.1,1347.4 L1659.6,1347.5" fill="none" stroke="#087f08" stroke-width="6.1" stroke-linejoin="round"/>
<path d="M1051.2,1218.1 L1052.7,1218.1 L1054.2,1218.1 L1055.8,1218.1 L1057.3,1218.1 L1058.8,1218.1 L1060.3,1218.1 L1061.8,1218.1 L1063.4,1218.1 L1064.9,1218.1 L1066.4,1218.1 L1067.9,1218.1 L1069.5,1218.1 L1071.0,1218.1 L1072.5,1218.1 L1074.0,1218.1 L1075.5,1218.1 L1077.1,1218.1 L1078.6,1218.1 L1080.1,1218.1 L1081.6,1218.1 L1083.1,1218.1 L1084.7,1218.1 L1086.2,1218.1 L1087.7,1218.1 L1089.2,1218.1 L1090.7,1218.1 L1092.3,1218.1 L1093.8,1218.1 L1095.3,1218.1 L1096.8,1218.1 L1098.4,1218.1 L1099.9,1218.1 L1101.4,1218.1 L1102.9,1218.1 L1104.4,1218.1 L1106.0,1218.1 L1107.5,1218.1 L1109.0,1218.1 L1110.5,1218.1 L1112.0,1218.1 L1113.6,1218.1 L1115.1,1218.1 L1116.6,1218.1 L1118.1,1218.1 L1119.6,1218.1 L1121.2,1218.1 L1122.7,1218.1 L1124.2,1218.1 L1125.7,1218.1 L1127.2,1218.1 L1128.8,1218.1 L1130.3,1218.1 L1131.8,1218.1 L1133.3,1218.1 L1134.9,1218.1 L1136.4,1218.1 L1137.9,1218.1 L1139.4,1218.1 L1140.9,1218.1 L1142.5,1218.1 L1144.0,1218.1 L1145.5,1218.1 L1147.0,1218.1 L1148.5,1218.1 L1150.1,1218.1 L1151.6,1218.1 L1153.1,1218.1 L1154.6,1218.1 L1156.1,1218.1 L1157.7,1218.1 L1159.2,1218.1 L1160.7,1218.1 L1162.2,1218.1 L1163.8,1218.1 L1165.3,1218.1 L1166.8,1218.1 L1168.3,1218.1 L1169.8,1218.1 L1171.4,1218.1 L1172.9,1218.1 L1174.4,1218.1 L1175.9,1218.1 L1177.4,1218.1 L1179.0,1218.1 L1180.5,1218.1 L1182.0,1218.1 L1183.5,1218.1 L1185.0,1218.1 L1186.6,1218.2 L1188.1,1218.2 L1189.6,1218.2 L1191.1,1218.2 L1192.7,1218.2 L1194.2,1218.2 L1195.7,1218.2 L1197.2,1218.2 L1198.7,1218.2 L1200.3,1218.2 L1201.8,1218.2 L1203.3,1218.2 L1204.8,1218.2 L1206.3,1218.2 L1207.9,1218.2 L1209.4,1218.2 L1210.9,1218.2 L1212.4,1218.2 L1213.9,1218.2 L1215.5,1218.2 L1217.0,1218.2 L1218.5,1218.2 L1220.0,1218.2 L1221.6,1218.2 L1223.1,1218.2 L1224.6,1218.2 L1226.1,1218.2 L1227.6,1218.2 L1229.2,1218.2 L1230.7,1218.2 L1232.2,1218.2 L1233.7,1218.2 L1235.2,1218.2 L1236.8,1218.2 L1238.3,1218.3 L1239.8,1218.3 L1241.3,1218.3 L1242.8,1218.3 L1244.4,1218.3 L1245.9,1218.3 L1247.4,1218.3 L1248.9,1218.3 L1250.5,1218.3 L1252.0,1218.3 L1253.5,1218.3 L1255.0,1218.3 L1256.5,1218.3 L1258.1,1218.4 L1259.6,1218.4 L1261.1,1218.4 L1262.6,1218.4 L1264.1,1218.4 L1265.7,1218.4 L1267.2,1218.4 L1268.7,1218.4 L1270.2,1218.5 L1271.7,1218.5 L1273.3,1218.5 L1274.8,1218.5 L1276.3,1218.5 L1277.8,1218.5 L1279.4,1218.6 L1280.9,1218.6 L1282.4,1218.6 L1283.9,1218.6 L1285.4,1218.7 L1287.0,1218.7 L1288.5,1218.7 L1290.0,1218.7 L1291.5,1218.8 L1293.0,1218.8 L1294.6,1218.8 L1296.1,1218.9 L1297.6,1218.9 L1299.1,1218.9 L1300.6,1219.0 L1302.2,1219.0 L1303.7,1219.0 L1305.2,1219.1 L1306.7,1219.1 L1308.2,1219.2 L1309.8,1219.2 L1311.3,1219.3 L1312.8,1219.3 L1314.3,1219.4 L1315.9,1219.5 L1317.4,1219.5 L1318.9,1219.6 L1320.4,1219.6 L1321.9,1219.7 L1323.5,1219.8 L1325.0,1219.9 L1326.5,1219.9 L1328.0,1220.0 L1329.5,1220.1 L1331.1,1220.2 L1332.6,1220.3 L1334.1,1220.4 L1335.6,1220.5 L1337.1,1220.6 L1338.7,1220.7 L1340.2,1220.9 L1341.7,1221.0 L1343.2,1221.1 L1344.8,1221.2 L1346.3,1221.4 L1347.8,1221.5 L1349.3,1221.7 L1350.8,1221.9 L1352.4,1222.0 L1353.9,1222.2 L1355.4,1222.4 L1356.9,1222.6 L1358.4,1222.8 L1360.0,1223.0 L1361.5,1223.2 L1363.0,1223.4 L1364.5,1223.7 L1366.0,1223.9 L1367.6,1224.2 L1369.1,1224.4 L1370.6,1224.7 L1372.1,1225.0 L1373.7,1225.3 L1375.2,1225.6 L1376.7,1226.0 L1378.2,1226.3 L1379.7,1226.7 L1381.3,1227.0 L1382.8,1227.4 L1384.3,1227.8 L1385.8,1228.2 L1387.3,1228.7 L1388.9,1229.1 L1390.4,1229.6 L1391.9,1230.1 L1393.4,1230.6 L1394.9,1231.1 L1396.5,1231.7 L1398.0,1232.2 L1399.5,1232.8 L1401.0,1233.4 L1402.6,1234.0 L1404.1,1234.7 L1405.6,1235.4 L1407.1,1236.0 L1408.6,1236.8 L1410.2,1237.5 L1411.7,1238.3 L1413.2,1239.1 L1414.7,1239.9 L1416.2,1240.7 L1417.8,1241.6 L1419.3,1242.5 L1420.8,1243.4 L1422.3,1244.3 L1423.8,1245.3 L1425.4,1246.3 L1426.9,1247.3 L1428.4,1248.3 L1429.9,1249.4 L1431.5,1250.5 L1433.0,1251.6 L1434.5,1252.8 L1436.0,1254.0 L1437.5,1255.2 L1439.1,1256.4 L1440.6,1257.6 L1442.1,1258.9 L1443.6,1260.2 L1445.1,1261.5 L1446.7,1262.8 L1448.2,1264.1 L1449.7,1265.5 L1451.2,1266.9 L1452.7,1268.3 L1454.3,1269.7 L1455.8,1271.1 L1457.3,1272.6 L1458.8,1274.0 L1460.3,1275.5 L1461.9,1276.9 L1463.4,1278.4 L1464.9,1279.9 L1466.4,1281.3 L1468.0,1282.8 L1469.5,1284.3 L1471.0,1285.8 L1472.5,1287.3 L1474.0,1288.7 L1475.6,1290.2 L1477.1,1291.6 L1478.6,1293.1 L1480.1,1294.5 L1481.6,1296.0 L1483.2,1297.4 L1484.7,1298.8 L1486.2,1300.1 L1487.7,1301.5 L1489.2,1302.9 L1490.8,1304.2 L1492.3,1305.5 L1493.8,1306.8 L1495.3,1308.1 L1496.9,1309.3 L1498.4,1310.5 L1499.9,1311.7 L1501.4,1312.9 L1502.9,1314.0 L1504.5,1315.2 L1506.0,1316.3 L1507.5,1317.3 L1509.0,1318.4 L1510.5,1319.4 L1512.1,1320.4 L1513.6,1321.4 L1515.1,1322.3 L1516.6,1323.2 L1518.1,1324.1 L1519.7,1325.0 L1521.2,1325.8 L1522.7,1326.7 L1524.2,1327.5 L1525.8,1328.2 L1527.3,1329.0 L1528.8,1329.7 L1530.3,1330.4 L1531.8,1331.1 L1533.4,1331.7 L1534.9,1332.3 L1536.4,1332.9 L1537.9,1333.5 L1539.4,1334.1 L1541.0,1334.6 L1542.5,1335.2 L1544.0,1335.7 L1545.5,1336.2 L1547.0,1336.6 L1548.6,1337.1 L1550.1,1337.5 L1551.6,1337.9 L1553.1,1338.3 L1554.7,1338.7 L1556.2,1339.1 L1557.7,1339.5 L1559.2,1339.8 L1560.7,1340.1 L1562.3,1340.5 L1563.8,1340.8 L1565.3,1341.1 L1566.8,1341.3 L1568.3,1341.6 L1569.9,1341.9 L1571.4,1342.1 L1572.9,1342.4 L1574.4,1342.6 L1575.9,1342.8 L1577.5,1343.0 L1579.0,1343.2 L1580.5,1343.4 L1582.0,1343.6 L1583.6,1343.8 L1585.1,1343.9 L1586.6,1344.1 L1588.1,1344.3 L1589.6,1344.4 L1591.2,1344.6 L1592.7,1344.7 L1594.2,1344.8 L1595.7,1344.9 L1597.2,1345.1 L1598.8,1345.2 L1600.3,1345.3 L1601.8,1345.4 L1603.3,1345.5 L1604.8,1345.6 L1606.4,1345.7 L1607.9,1345.8 L1609.4,1345.9 L1610.9,1345.9 L1612.4,1346.0 L1614.0,1346.1 L1615.5,1346.2 L1617.0,1346.2 L1618.5,1346.3 L1620.1,1346.4 L1621.6,1346.4 L1623.1,1346.5 L1624.6,1346.5 L1626.1,1346.6 L1627.7,1346.6 L1629.2,1346.7 L1630.7,1346.7 L1632.2,1346.8 L1633.7,1346.8 L1635.3,1346.8 L1636.8,1346.9 L1638.3,1346.9 L1639.8,1347.0 L1641.3,1347.0 L1642.9,1347.0 L1644.4,1347.0 L1645.9,1347.1 L1647.4,1347.1 L1649.0,1347.1 L1650.5,1347.2 L1652.0,1347.2 L1653.5,1347.2 L1655.0,1347.2 L1656.6,1347.2 L1658.1,1347.3 L1659.6,1347.3" fill="none" stroke="#087f08" stroke-width="6.1" stroke-linejoin="round"/>
<path d="M1051.2,1274.7 L1052.7,1274.7 L1054.2,1274.7 L1055.8,1274.7 L1057.3,1274.7 L1058.8,1274.7 L1060.3,1274.7 L1061.8,1274.7 L1063.4,1274.7 L1064.9,1274.7 L1066.4,1274.7 L1067.9,1274.7 L1069.5,1274.7 L1071.0,1274.7 L1072.5,1274.7 L1074.0,1274.7 L1075.5,1274.7 L1077.1,1274.7 L1078.6,1274.7 L1080.1,1274.7 L1081.6,1274.7 L1083.1,1274.7 L1084.7,1274.7 L1086.2,1274.7 L1087.7,1274.7 L1089.2,1274.7 L1090.7,1274.7 L1092.3,1274.7 L1093.8,1274.7 L1095.3,1274.7 L1096.8,1274.7 L1098.4,1274.7 L1099.9,1274.7 L1101.4,1274.7 L1102.9,1274.7 L1104.4,1274.7 L1106.0,1274.7 L1107.5,1274.7 L1109.0,1274.7 L1110.5,1274.7 L1112.0,1274.7 L1113.6,1274.7 L1115.1,1274.7 L1116.6,1274.7 L1118.1,1274.7 L1119.6,1274.7 L1121.2,1274.7 L1122.7,1274.7 L1124.2,1274.7 L1125.7,1274.7 L1127.2,1274.7 L1128.8,1274.7 L1130.3,1274.7 L1131.8,1274.7 L1133.3,1274.7 L1134.9,1274.7 L1136.4,1274.7 L1137.9,1274.7 L1139.4,1274.7 L1140.9,1274.7 L1142.5,1274.7 L1144.0,1274.7 L1145.5,1274.7 L1147.0,1274.7 L1148.5,1274.7 L1150.1,1274.7 L1151.6,1274.7 L1153.1,1274.7 L1154.6,1274.7 L1156.1,1274.7 L1157.7,1274.7 L1159.2,1274.7 L1160.7,1274.7 L1162.2,1274.7 L1163.8,1274.7 L1165.3,1274.7 L1166.8,1274.7 L1168.3,1274.7 L1169.8,1274.7 L1171.4,1274.7 L1172.9,1274.7 L1174.4,1274.7 L1175.9,1274.7 L1177.4,1274.7 L1179.0,1274.7 L1180.5,1274.7 L1182.0,1274.7 L1183.5,1274.7 L1185.0,1274.7 L1186.6,1274.7 L1188.1,1274.7 L1189.6,1274.7 L1191.1,1274.7 L1192.7,1274.7 L1194.2,1274.7 L1195.7,1274.7 L1197.2,1274.7 L1198.7,1274.7 L1200.3,1274.7 L1201.8,1274.7 L1203.3,1274.7 L1204.8,1274.7 L1206.3,1274.7 L1207.9,1274.7 L1209.4,1274.7 L1210.9,1274.7 L1212.4,1274.7 L1213.9,1274.7 L1215.5,1274.7 L1217.0,1274.8 L1218.5,1274.8 L1220.0,1274.8 L1221.6,1274.8 L1223.1,1274.8 L1224.6,1274.8 L1226.1,1274.8 L1227.6,1274.8 L1229.2,1274.8 L1230.7,1274.8 L1232.2,1274.8 L1233.7,1274.8 L1235.2,1274.8 L1236.8,1274.8 L1238.3,1274.8 L1239.8,1274.8 L1241.3,1274.8 L1242.8,1274.8 L1244.4,1274.8 L1245.9,1274.8 L1247.4,1274.8 L1248.9,1274.8 L1250.5,1274.8 L1252.0,1274.8 L1253.5,1274.8 L1255.0,1274.8 L1256.5,1274.8 L1258.1,1274.8 L1259.6,1274.8 L1261.1,1274.8 L1262.6,1274.9 L1264.1,1274.9 L1265.7,1274.9 L1267.2,1274.9 L1268.7,1274.9 L1270.2,1274.9 L1271.7,1274.9 L1273.3,1274.9 L1274.8,1274.9 L1276.3,1274.9 L1277.8,1274.9 L1279.4,1274.9 L1280.9,1275.0 L1282.4,1275.0 L1283.9,1275.0 L1285.4,1275.0 L1287.0,1275.0 L1288.5,1275.0 L1290.0,1275.0 L1291.5,1275.0 L1293.0,1275.1 L1294.6,1275.1 L1296.1,1275.1 L1297.6,1275.1 L1299.1,1275.1 L1300.6,1275.2 L1302.2,1275.2 L1303.7,1275.2 L1305.2,1275.2 L1306.7,1275.2 L1308.2,1275.3 L1309.8,1275.3 L1311.3,1275.3 L1312.8,1275.4 L1314.3,1275.4 L1315.9,1275.4 L1317.4,1275.5 L1318.9,1275.5 L1320.4,1275.5 L1321.9,1275.6 L1323.5,1275.6 L1325.0,1275.7 L1326.5,1275.7 L1328.0,1275.7 L1329.5,1275.8 L1331.1,1275.8 L1332.6,1275.9 L1334.1,1276.0 L1335.6,1276.0 L1337.1,1276.1 L1338.7,1276.1 L1340.2,1276.2 L1341.7,1276.3 L1343.2,1276.3 L1344.8,1276.4 L1346.3,1276.5 L1347.8,1276.6 L1349.3,1276.7 L1350.8,1276.8 L1352.4,1276.9 L1353.9,1277.0 L1355.4,1277.1 L1356.9,1277.2 L1358.4,1277.3 L1360.0,1277.4 L1361.5,1277.5 L1363.0,1277.7 L1364.5,1277.8 L1366.0,1278.0 L1367.6,1278.1 L1369.1,1278.3 L1370.6,1278.4 L1372.1,1278.6 L1373.7,1278.8 L1375.2,1279.0 L1376.7,1279.2 L1378.2,1279.4 L1379.7,1279.6 L1381.3,1279.8 L1382.8,1280.0 L1384.3,1280.3 L1385.8,1280.5 L1387.3,1280.8 L1388.9,1281.0 L1390.4,1281.3 L1391.9,1281.6 L1393.4,1281.9 L1394.9,1282.2 L1396.5,1282.5 L1398.0,1282.9 L1399.5,1283.2 L1401.0,1283.6 L1402.6,1284.0 L1404.1,1284.4 L1405.6,1284.8 L1407.1,1285.2 L1408.6,1285.6 L1410.2,1286.1 L1411.7,1286.5 L1413.2,1287.0 L1414.7,1287.5 L1416.2,1288.0 L1417.8,1288.5 L1419.3,1289.1 L1420.8,1289.6 L1422.3,1290.2 L1423.8,1290.8 L1425.4,1291.4 L1426.9,1292.0 L1428.4,1292.6 L1429.9,1293.3 L1431.5,1294.0 L1433.0,1294.6 L1434.5,1295.3 L1436.0,1296.1 L1437.5,1296.8 L1439.1,1297.5 L1440.6,1298.3 L1442.1,1299.0 L1443.6,1299.8 L1445.1,1300.6 L1446.7,1301.4 L1448.2,1302.2 L1449.7,1303.1 L1451.2,1303.9 L1452.7,1304.7 L1454.3,1305.6 L1455.8,1306.5 L1457.3,1307.3 L1458.8,1308.2 L1460.3,1309.1 L1461.9,1309.9 L1463.4,1310.8 L1464.9,1311.7 L1466.4,1312.6 L1468.0,1313.5 L1469.5,1314.3 L1471.0,1315.2 L1472.5,1316.1 L1474.0,1317.0 L1475.6,1317.8 L1477.1,1318.7 L1478.6,1319.5 L1480.1,1320.4 L1481.6,1321.2 L1483.2,1322.0 L1484.7,1322.8 L1486.2,1323.6 L1487.7,1324.4 L1489.2,1325.2 L1490.8,1325.9 L1492.3,1326.7 L1493.8,1327.4 L1495.3,1328.1 L1496.9,1328.8 L1498.4,1329.5 L1499.9,1330.2 L1501.4,1330.9 L1502.9,1331.5 L1504.5,1332.1 L1506.0,1332.8 L1507.5,1333.4 L1509.0,1333.9 L1510.5,1334.5 L1512.1,1335.0 L1513.6,1335.6 L1515.1,1336.1 L1516.6,1336.6 L1518.1,1337.1 L1519.7,1337.5 L1521.2,1338.0 L1522.7,1338.4 L1524.2,1338.9 L1525.8,1339.3 L1527.3,1339.7 L1528.8,1340.1 L1530.3,1340.4 L1531.8,1340.8 L1533.4,1341.1 L1534.9,1341.5 L1536.4,1341.8 L1537.9,1342.1 L1539.4,1342.4 L1541.0,1342.7 L1542.5,1342.9 L1544.0,1343.2 L1545.5,1343.5 L1547.0,1343.7 L1548.6,1343.9 L1550.1,1344.2 L1551.6,1344.4 L1553.1,1344.6 L1554.7,1344.8 L1556.2,1345.0 L1557.7,1345.1 L1559.2,1345.3 L1560.7,1345.5 L1562.3,1345.6 L1563.8,1345.8 L1565.3,1345.9 L1566.8,1346.1 L1568.3,1346.2 L1569.9,1346.3 L1571.4,1346.5 L1572.9,1346.6 L1574.4,1346.7 L1575.9,1346.8 L1577.5,1346.9 L1579.0,1347.0 L1580.5,1347.1 L1582.0,1347.2 L1583.6,1347.3 L1585.1,1347.4 L1586.6,1347.4 L1588.1,1347.5 L1589.6,1347.6 L1591.2,1347.7 L1592.7,1347.7 L1594.2,1347.8 L1595.7,1347.9 L1597.2,1347.9 L1598.8,1348.0 L1600.3,1348.0 L1601.8,1348.1 L1603.3,1348.1 L1604.8,1348.2 L1606.4,1348.2 L1607.9,1348.2 L1609.4,1348.3 L1610.9,1348.3 L1612.4,1348.4 L1614.0,1348.4 L1615.5,1348.4 L1617.0,1348.5 L1618.5,1348.5 L1620.1,1348.5 L1621.6,1348.5 L1623.1,1348.6 L1624.6,1348.6 L1626.1,1348.6 L1627.7,1348.6 L1629.2,1348.7 L1630.7,1348.7 L1632.2,1348.7 L1633.7,1348.7 L1635.3,1348.7 L1636.8,1348.8 L1638.3,1348.8 L1639.8,1348.8 L1641.3,1348.8 L1642.9,1348.8 L1644.4,1348.8 L1645.9,1348.8 L1647.4,1348.9 L1649.0,1348.9 L1650.5,1348.9 L1652.0,1348.9 L1653.5,1348.9 L1655.0,1348.9 L1656.6,1348.9 L1658.1,1348.9 L1659.6,1348.9" fill="none" stroke="#087f08" stroke-width="6.1" stroke-linejoin="round"/>
<circle cx="1113.6" cy="982.9" r="12.2" fill="none" stroke="#000" stroke-width="4.2"/>
<circle cx="1191.6" cy="982.9" r="12.2" fill="none" stroke="#000" stroke-width="4.2"/>
<circle cx="1269.6" cy="982.9" r="12.2" fill="none" stroke="#000" stroke-width="4.2"/>
<circle cx="1347.6" cy="988.5" r="12.2" fill="none" stroke="#000" stroke-width="4.2"/>
<circle cx="1425.6" cy="1005.4" r="12.2" fill="none" stroke="#000" stroke-width="4.2"/>
<circle cx="1503.6" cy="1168.4" r="12.2" fill="none" stroke="#000" stroke-width="4.2"/>
<circle cx="1581.6" cy="1325.7" r="12.2" fill="none" stroke="#000" stroke-width="4.2"/>
<circle cx="1659.6" cy="1348.2" r="12.2" fill="none" stroke="#000" stroke-width="4.2"/>
<rect x="1101.0" y="1206.3" width="25.2" height="25.2" fill="none" stroke="#000" stroke-width="4.2"/>
<rect x="1179.0" y="1206.3" width="25.2" height="25.2" fill="none" stroke="#000" stroke-width="4.2"/>
<rect x="1257.0" y="1206.3" width="25.2" height="25.2" fill="none" stroke="#000" stroke-width="4.2"/>
<rect x="1335.0" y="1206.3" width="25.2" height="25.2" fill="none" stroke="#000" stroke-width="4.2"/>
<rect x="1413.0" y="1234.4" width="25.2" height="25.2" fill="none" stroke="#000" stroke-width="4.2"/>
<rect x="1491.0" y="1301.9" width="25.2" height="25.2" fill="none" stroke="#000" stroke-width="4.2"/>
<rect x="1569.0" y="1330.0" width="25.2" height="25.2" fill="none" stroke="#000" stroke-width="4.2"/>
<rect x="1647.0" y="1335.6" width="25.2" height="25.2" fill="none" stroke="#000" stroke-width="4.2"/>
<polygon points="1113.6,1264.4 1101.2,1288.1 1126.0,1288.1" fill="none" stroke="#000" stroke-width="4.2" stroke-linejoin="miter"/>
<polygon points="1191.6,1264.4 1179.2,1288.1 1204.0,1288.1" fill="none" stroke="#000" stroke-width="4.2" stroke-linejoin="miter"/>
<polygon points="1269.6,1264.4 1257.2,1288.1 1282.0,1288.1" fill="none" stroke="#000" stroke-width="4.2" stroke-linejoin="miter"/>
<polygon points="1347.6,1264.4 1335.2,1288.1 1360.0,1288.1" fill="none" stroke="#000" stroke-width="4.2" stroke-linejoin="miter"/>
<polygon points="1425.6,1281.3 1413.2,1305.0 1438.0,1305.0" fill="none" stroke="#000" stroke-width="4.2" stroke-linejoin="miter"/>
<polygon points="1503.6,1320.6 1491.2,1344.3 1516.0,1344.3" fill="none" stroke="#000" stroke-width="4.2" stroke-linejoin="miter"/>
<polygon points="1581.6,1337.5 1569.2,1361.2 1594.0,1361.2" fill="none" stroke="#000" stroke-width="4.2" stroke-linejoin="miter"/>
<polygon points="1659.6,1337.5 1647.2,1361.2 1672.0,1361.2" fill="none" stroke="#000" stroke-width="4.2" stroke-linejoin="miter"/>
<rect x="196.5" y="1601.3" width="292.8" height="577.9" fill="url(#gShade)"/>
<line x1="489.3" y1="1604.8" x2="489.3" y2="2179.2" stroke="#000" stroke-width="3.9" stroke-dasharray="0.01 12.52" stroke-linecap="round"/>
<text x="207.0" y="2117.2" font-family='"Liberation Sans", Arial, sans-serif' font-size="35.2">K<tspan font-size="25.6" dy="7.4">d,app1</tspan><tspan dy="-7.4">=0.1nM</tspan></text>
<text x="207.0" y="2161.1" font-family='"Liberation Sans", Arial, sans-serif' font-size="35.2">IgG</text>
<text x="310.8" y="2161.1" font-family='"Liberation Sans", Arial, sans-serif' font-size="35.2">=9.4nM</text>
<line x1="192.3" y1="1601.3" x2="192.3" y2="2198.2" stroke="#000" stroke-width="8.5"/>
<line x1="188.0" y1="2179.2" x2="821.5" y2="2179.2" stroke="#000" stroke-width="8"/>
<line x1="172.5" y1="2173.2" x2="192.3" y2="2173.2" stroke="#000" stroke-width="7.5"/>
<text x="168.8" y="2189.5" text-anchor="end" font-family='"Liberation Sans", Arial, sans-serif' font-weight="700" font-size="45.5">0.0</text>
<line x1="180.5" y1="2150.7" x2="192.3" y2="2150.7" stroke="#000" stroke-width="6.7"/>
<line x1="180.5" y1="2128.2" x2="192.3" y2="2128.2" stroke="#000" stroke-width="6.7"/>
<line x1="180.5" y1="2105.8" x2="192.3" y2="2105.8" stroke="#000" stroke-width="6.7"/>
<line x1="180.5" y1="2083.3" x2="192.3" y2="2083.3" stroke="#000" stroke-width="6.7"/>
<line x1="172.5" y1="2060.8" x2="192.3" y2="2060.8" stroke="#000" stroke-width="7.5"/>
<text x="168.8" y="2077.1" text-anchor="end" font-family='"Liberation Sans", Arial, sans-serif' font-weight="700" font-size="45.5">0.2</text>
<line x1="180.5" y1="2038.3" x2="192.3" y2="2038.3" stroke="#000" stroke-width="6.7"/>
<line x1="180.5" y1="2015.8" x2="192.3" y2="2015.8" stroke="#000" stroke-width="6.7"/>
<line x1="180.5" y1="1993.4" x2="192.3" y2="1993.4" stroke="#000" stroke-width="6.7"/>
<line x1="180.5" y1="1970.9" x2="192.3" y2="1970.9" stroke="#000" stroke-width="6.7"/>
<line x1="172.5" y1="1948.4" x2="192.3" y2="1948.4" stroke="#000" stroke-width="7.5"/>
<text x="168.8" y="1964.7" text-anchor="end" font-family='"Liberation Sans", Arial, sans-serif' font-weight="700" font-size="45.5">0.4</text>
<line x1="180.5" y1="1925.9" x2="192.3" y2="1925.9" stroke="#000" stroke-width="6.7"/>
<line x1="180.5" y1="1903.4" x2="192.3" y2="1903.4" stroke="#000" stroke-width="6.7"/>
<line x1="180.5" y1="1881.0" x2="192.3" y2="1881.0" stroke="#000" stroke-width="6.7"/>
<line x1="180.5" y1="1858.5" x2="192.3" y2="1858.5" stroke="#000" stroke-width="6.7"/>
<line x1="172.5" y1="1836.0" x2="192.3" y2="1836.0" stroke="#000" stroke-width="7.5"/>
<text x="168.8" y="1852.3" text-anchor="end" font-family='"Liberation Sans", Arial, sans-serif' font-weight="700" font-size="45.5">0.6</text>
<line x1="180.5" y1="1813.5" x2="192.3" y2="1813.5" stroke="#000" stroke-width="6.7"/>
<line x1="180.5" y1="1791.0" x2="192.3" y2="1791.0" stroke="#000" stroke-width="6.7"/>
<line x1="180.5" y1="1768.6" x2="192.3" y2="1768.6" stroke="#000" stroke-width="6.7"/>
<line x1="180.5" y1="1746.1" x2="192.3" y2="1746.1" stroke="#000" stroke-width="6.7"/>
<line x1="172.5" y1="1723.6" x2="192.3" y2="1723.6" stroke="#000" stroke-width="7.5"/>
<text x="168.8" y="1739.9" text-anchor="end" font-family='"Liberation Sans", Arial, sans-serif' font-weight="700" font-size="45.5">0.8</text>
<line x1="180.5" y1="1701.1" x2="192.3" y2="1701.1" stroke="#000" stroke-width="6.7"/>
<line x1="180.5" y1="1678.6" x2="192.3" y2="1678.6" stroke="#000" stroke-width="6.7"/>
<line x1="180.5" y1="1656.2" x2="192.3" y2="1656.2" stroke="#000" stroke-width="6.7"/>
<line x1="180.5" y1="1633.7" x2="192.3" y2="1633.7" stroke="#000" stroke-width="6.7"/>
<line x1="172.5" y1="1611.2" x2="192.3" y2="1611.2" stroke="#000" stroke-width="7.5"/>
<text x="168.8" y="1627.5" text-anchor="end" font-family='"Liberation Sans", Arial, sans-serif' font-weight="700" font-size="45.5">1.0</text>
<text x="192.3" y="2246.7" text-anchor="middle" font-family='"Liberation Sans", Arial, sans-serif' font-weight="700" font-size="45.5">-4</text>
<line x1="348.6" y1="2179.2" x2="348.6" y2="2198.2" stroke="#000" stroke-width="8"/>
<text x="348.6" y="2246.7" text-anchor="middle" font-family='"Liberation Sans", Arial, sans-serif' font-weight="700" font-size="45.5">-2</text>
<line x1="504.9" y1="2179.2" x2="504.9" y2="2198.2" stroke="#000" stroke-width="8"/>
<text x="504.9" y="2246.7" text-anchor="middle" font-family='"Liberation Sans", Arial, sans-serif' font-weight="700" font-size="45.5">0</text>
<line x1="661.2" y1="2179.2" x2="661.2" y2="2198.2" stroke="#000" stroke-width="8"/>
<text x="661.2" y="2246.7" text-anchor="middle" font-family='"Liberation Sans", Arial, sans-serif' font-weight="700" font-size="45.5">2</text>
<line x1="817.5" y1="2179.2" x2="817.5" y2="2198.2" stroke="#000" stroke-width="8"/>
<text x="817.5" y="2246.7" text-anchor="middle" font-family='"Liberation Sans", Arial, sans-serif' font-weight="700" font-size="45.5">4</text>
<text x="505.9" y="2321.5" text-anchor="middle" font-family='"Liberation Sans", Arial, sans-serif' font-weight="700" font-size="51" letter-spacing="0.55">RBD (log nM)</text>
<text transform="translate(79.2,1883.4) rotate(-90)" text-anchor="middle" font-family='"Liberation Sans", Arial, sans-serif' font-weight="700" font-size="51.3" letter-spacing="0.5">Fraction bound</text>
<path d="M192.3,1650.2 L193.8,1650.2 L195.3,1650.2 L196.9,1650.2 L198.4,1650.2 L199.9,1650.2 L201.4,1650.2 L203.0,1650.2 L204.5,1650.2 L206.0,1650.2 L207.5,1650.2 L209.1,1650.2 L210.6,1650.2 L212.1,1650.2 L213.6,1650.2 L215.2,1650.2 L216.7,1650.2 L218.2,1650.2 L219.7,1650.2 L221.3,1650.2 L222.8,1650.2 L224.3,1650.2 L225.8,1650.2 L227.4,1650.2 L228.9,1650.2 L230.4,1650.2 L231.9,1650.2 L233.4,1650.2 L235.0,1650.2 L236.5,1650.2 L238.0,1650.2 L239.5,1650.2 L241.1,1650.2 L242.6,1650.2 L244.1,1650.2 L245.6,1650.2 L247.2,1650.2 L248.7,1650.2 L250.2,1650.2 L251.7,1650.2 L253.3,1650.2 L254.8,1650.2 L256.3,1650.2 L257.8,1650.2 L259.4,1650.2 L260.9,1650.2 L262.4,1650.2 L263.9,1650.2 L265.4,1650.2 L267.0,1650.2 L268.5,1650.2 L270.0,1650.2 L271.5,1650.2 L273.1,1650.2 L274.6,1650.2 L276.1,1650.2 L277.6,1650.2 L279.2,1650.2 L280.7,1650.2 L282.2,1650.2 L283.7,1650.2 L285.3,1650.2 L286.8,1650.2 L288.3,1650.2 L289.8,1650.2 L291.4,1650.2 L292.9,1650.2 L294.4,1650.2 L295.9,1650.2 L297.5,1650.2 L299.0,1650.2 L300.5,1650.2 L302.0,1650.2 L303.5,1650.2 L305.1,1650.2 L306.6,1650.2 L308.1,1650.2 L309.6,1650.2 L311.2,1650.2 L312.7,1650.2 L314.2,1650.2 L315.7,1650.2 L317.3,1650.2 L318.8,1650.2 L320.3,1650.2 L321.8,1650.2 L323.4,1650.2 L324.9,1650.2 L326.4,1650.2 L327.9,1650.2 L329.5,1650.2 L331.0,1650.2 L332.5,1650.2 L334.0,1650.2 L335.5,1650.2 L337.1,1650.2 L338.6,1650.2 L340.1,1650.2 L341.6,1650.2 L343.2,1650.2 L344.7,1650.2 L346.2,1650.2 L347.7,1650.2 L349.3,1650.3 L350.8,1650.3 L352.3,1650.3 L353.8,1650.3 L355.4,1650.3 L356.9,1650.3 L358.4,1650.3 L359.9,1650.3 L361.5,1650.3 L363.0,1650.3 L364.5,1650.3 L366.0,1650.3 L367.6,1650.3 L369.1,1650.3 L370.6,1650.3 L372.1,1650.3 L373.6,1650.3 L375.2,1650.4 L376.7,1650.4 L378.2,1650.4 L379.7,1650.4 L381.3,1650.4 L382.8,1650.4 L384.3,1650.4 L385.8,1650.5 L387.4,1650.5 L388.9,1650.5 L390.4,1650.5 L391.9,1650.5 L393.5,1650.6 L395.0,1650.6 L396.5,1650.6 L398.0,1650.7 L399.6,1650.7 L401.1,1650.7 L402.6,1650.8 L404.1,1650.8 L405.6,1650.9 L407.2,1650.9 L408.7,1651.0 L410.2,1651.1 L411.7,1651.1 L413.3,1651.2 L414.8,1651.3 L416.3,1651.4 L417.8,1651.5 L419.4,1651.6 L420.9,1651.7 L422.4,1651.8 L423.9,1651.9 L425.5,1652.1 L427.0,1652.2 L428.5,1652.4 L430.0,1652.6 L431.6,1652.8 L433.1,1653.0 L434.6,1653.2 L436.1,1653.4 L437.7,1653.7 L439.2,1654.0 L440.7,1654.3 L442.2,1654.6 L443.7,1655.0 L445.3,1655.3 L446.8,1655.8 L448.3,1656.2 L449.8,1656.7 L451.4,1657.2 L452.9,1657.8 L454.4,1658.4 L455.9,1659.0 L457.5,1659.7 L459.0,1660.5 L460.5,1661.3 L462.0,1662.2 L463.6,1663.2 L465.1,1664.2 L466.6,1665.3 L468.1,1666.5 L469.7,1667.7 L471.2,1669.1 L472.7,1670.6 L474.2,1672.2 L475.8,1673.9 L477.3,1675.7 L478.8,1677.7 L480.3,1679.8 L481.8,1682.1 L483.4,1684.5 L484.9,1687.1 L486.4,1689.9 L487.9,1692.8 L489.5,1696.0 L491.0,1699.4 L492.5,1703.0 L494.0,1706.8 L495.6,1710.9 L497.1,1715.2 L498.6,1719.8 L500.1,1724.6 L501.7,1729.8 L503.2,1735.2 L504.7,1740.9 L506.2,1746.9 L507.8,1753.3 L509.3,1759.9 L510.8,1766.8 L512.3,1774.0 L513.8,1781.6 L515.4,1789.4 L516.9,1797.6 L518.4,1806.0 L519.9,1814.7 L521.5,1823.6 L523.0,1832.8 L524.5,1842.2 L526.0,1851.8 L527.6,1861.5 L529.1,1871.4 L530.6,1881.5 L532.1,1891.6 L533.7,1901.8 L535.2,1912.0 L536.7,1922.2 L538.2,1932.3 L539.8,1942.4 L541.3,1952.5 L542.8,1962.3 L544.3,1972.1 L545.9,1981.6 L547.4,1991.0 L548.9,2000.1 L550.4,2009.0 L551.9,2017.7 L553.5,2026.0 L555.0,2034.1 L556.5,2041.9 L558.0,2049.4 L559.6,2056.6 L561.1,2063.5 L562.6,2070.0 L564.1,2076.3 L565.7,2082.3 L567.2,2087.9 L568.7,2093.3 L570.2,2098.4 L571.8,2103.2 L573.3,2107.7 L574.8,2112.0 L576.3,2116.0 L577.9,2119.8 L579.4,2123.4 L580.9,2126.7 L582.4,2129.9 L583.9,2132.8 L585.5,2135.5 L587.0,2138.1 L588.5,2140.5 L590.0,2142.7 L591.6,2144.8 L593.1,2146.8 L594.6,2148.6 L596.1,2150.3 L597.7,2151.8 L599.2,2153.3 L600.7,2154.7 L602.2,2155.9 L603.8,2157.1 L605.3,2158.2 L606.8,2159.2 L608.3,2160.1 L609.9,2161.0 L611.4,2161.8 L612.9,2162.6 L614.4,2163.3 L616.0,2163.9 L617.5,2164.5 L619.0,2165.1 L620.5,2165.6 L622.0,2166.0 L623.6,2166.5 L625.1,2166.9 L626.6,2167.3 L628.1,2167.6 L629.7,2168.0 L631.2,2168.3 L632.7,2168.5 L634.2,2168.8 L635.8,2169.0 L637.3,2169.2 L638.8,2169.4 L640.3,2169.6 L641.9,2169.8 L643.4,2170.0 L644.9,2170.1 L646.4,2170.3 L648.0,2170.4 L649.5,2170.5 L651.0,2170.6 L652.5,2170.7 L654.0,2170.8 L655.6,2170.9 L657.1,2171.0 L658.6,2171.1 L660.1,2171.1 L661.7,2171.2 L663.2,2171.2 L664.7,2171.3 L666.2,2171.3 L667.8,2171.4 L669.3,2171.4 L670.8,2171.5 L672.3,2171.5 L673.9,2171.5 L675.4,2171.6 L676.9,2171.6 L678.4,2171.6 L680.0,2171.7 L681.5,2171.7 L683.0,2171.7 L684.5,2171.7 L686.1,2171.7 L687.6,2171.8 L689.1,2171.8 L690.6,2171.8 L692.1,2171.8 L693.7,2171.8 L695.2,2171.8 L696.7,2171.8 L698.2,2171.8 L699.8,2171.9 L701.3,2171.9 L702.8,2171.9 L704.3,2171.9 L705.9,2171.9 L707.4,2171.9 L708.9,2171.9 L710.4,2171.9 L712.0,2171.9 L713.5,2171.9 L715.0,2171.9 L716.5,2171.9 L718.1,2171.9 L719.6,2171.9 L721.1,2171.9 L722.6,2171.9 L724.1,2171.9 L725.7,2171.9 L727.2,2171.9 L728.7,2171.9 L730.2,2171.9 L731.8,2171.9 L733.3,2171.9 L734.8,2171.9 L736.3,2171.9 L737.9,2172.0 L739.4,2172.0 L740.9,2172.0 L742.4,2172.0 L744.0,2172.0 L745.5,2172.0 L747.0,2172.0 L748.5,2172.0 L750.1,2172.0 L751.6,2172.0 L753.1,2172.0 L754.6,2172.0 L756.2,2172.0 L757.7,2172.0 L759.2,2172.0 L760.7,2172.0 L762.2,2172.0 L763.8,2172.0 L765.3,2172.0 L766.8,2172.0 L768.3,2172.0 L769.9,2172.0 L771.4,2172.0 L772.9,2172.0 L774.4,2172.0 L776.0,2172.0 L777.5,2172.0 L779.0,2172.0 L780.5,2172.0 L782.1,2172.0 L783.6,2172.0 L785.1,2172.0 L786.6,2172.0 L788.2,2172.0 L789.7,2172.0 L791.2,2172.0 L792.7,2172.0 L794.3,2172.0 L795.8,2172.0 L797.3,2172.0 L798.8,2172.0 L800.3,2172.0 L801.9,2172.0" fill="none" stroke="#087f08" stroke-width="6.1" stroke-linejoin="round"/>
<path d="M192.3,1786.8 L193.8,1786.8 L195.3,1786.8 L196.9,1786.8 L198.4,1786.8 L199.9,1786.8 L201.4,1786.8 L203.0,1786.8 L204.5,1786.8 L206.0,1786.8 L207.5,1786.8 L209.1,1786.8 L210.6,1786.8 L212.1,1786.8 L213.6,1786.8 L215.2,1786.8 L216.7,1786.8 L218.2,1786.8 L219.7,1786.8 L221.3,1786.8 L222.8,1786.8 L224.3,1786.8 L225.8,1786.8 L227.4,1786.8 L228.9,1786.8 L230.4,1786.8 L231.9,1786.8 L233.4,1786.9 L235.0,1786.9 L236.5,1786.9 L238.0,1786.9 L239.5,1786.9 L241.1,1786.9 L242.6,1786.9 L244.1,1786.9 L245.6,1786.9 L247.2,1786.9 L248.7,1786.9 L250.2,1786.9 L251.7,1786.9 L253.3,1786.9 L254.8,1786.9 L256.3,1786.9 L257.8,1786.9 L259.4,1786.9 L260.9,1786.9 L262.4,1787.0 L263.9,1787.0 L265.4,1787.0 L267.0,1787.0 L268.5,1787.0 L270.0,1787.0 L271.5,1787.0 L273.1,1787.0 L274.6,1787.0 L276.1,1787.1 L277.6,1787.1 L279.2,1787.1 L280.7,1787.1 L282.2,1787.1 L283.7,1787.2 L285.3,1787.2 L286.8,1787.2 L288.3,1787.2 L289.8,1787.2 L291.4,1787.3 L292.9,1787.3 L294.4,1787.3 L295.9,1787.4 L297.5,1787.4 L299.0,1787.4 L300.5,1787.5 L302.0,1787.5 L303.5,1787.5 L305.1,1787.6 L306.6,1787.6 L308.1,1787.7 L309.6,1787.7 L311.2,1787.8 L312.7,1787.8 L314.2,1787.9 L315.7,1788.0 L317.3,1788.0 L318.8,1788.1 L320.3,1788.2 L321.8,1788.3 L323.4,1788.4 L324.9,1788.4 L326.4,1788.5 L327.9,1788.6 L329.5,1788.8 L331.0,1788.9 L332.5,1789.0 L334.0,1789.1 L335.5,1789.3 L337.1,1789.4 L338.6,1789.6 L340.1,1789.7 L341.6,1789.9 L343.2,1790.1 L344.7,1790.3 L346.2,1790.5 L347.7,1790.7 L349.3,1790.9 L350.8,1791.2 L352.3,1791.4 L353.8,1791.7 L355.4,1792.0 L356.9,1792.3 L358.4,1792.6 L359.9,1792.9 L361.5,1793.3 L363.0,1793.7 L364.5,1794.0 L366.0,1794.5 L367.6,1794.9 L369.1,1795.4 L370.6,1795.9 L372.1,1796.4 L373.6,1797.0 L375.2,1797.5 L376.7,1798.2 L378.2,1798.8 L379.7,1799.5 L381.3,1800.2 L382.8,1801.0 L384.3,1801.8 L385.8,1802.6 L387.4,1803.5 L388.9,1804.5 L390.4,1805.5 L391.9,1806.5 L393.5,1807.6 L395.0,1808.8 L396.5,1810.0 L398.0,1811.3 L399.6,1812.7 L401.1,1814.1 L402.6,1815.6 L404.1,1817.2 L405.6,1818.8 L407.2,1820.5 L408.7,1822.3 L410.2,1824.2 L411.7,1826.2 L413.3,1828.3 L414.8,1830.5 L416.3,1832.8 L417.8,1835.2 L419.4,1837.6 L420.9,1840.2 L422.4,1842.9 L423.9,1845.8 L425.5,1848.7 L427.0,1851.7 L428.5,1854.9 L430.0,1858.2 L431.6,1861.6 L433.1,1865.1 L434.6,1868.8 L436.1,1872.5 L437.7,1876.4 L439.2,1880.5 L440.7,1884.6 L442.2,1888.9 L443.7,1893.2 L445.3,1897.7 L446.8,1902.3 L448.3,1907.0 L449.8,1911.8 L451.4,1916.8 L452.9,1921.8 L454.4,1926.8 L455.9,1932.0 L457.5,1937.3 L459.0,1942.6 L460.5,1947.9 L462.0,1953.4 L463.6,1958.8 L465.1,1964.3 L466.6,1969.9 L468.1,1975.4 L469.7,1981.0 L471.2,1986.5 L472.7,1992.0 L474.2,1997.6 L475.8,2003.0 L477.3,2008.5 L478.8,2013.9 L480.3,2019.2 L481.8,2024.5 L483.4,2029.8 L484.9,2034.9 L486.4,2040.0 L487.9,2044.9 L489.5,2049.8 L491.0,2054.6 L492.5,2059.2 L494.0,2063.8 L495.6,2068.2 L497.1,2072.6 L498.6,2076.8 L500.1,2080.9 L501.7,2084.8 L503.2,2088.7 L504.7,2092.4 L506.2,2096.0 L507.8,2099.5 L509.3,2102.8 L510.8,2106.1 L512.3,2109.2 L513.8,2112.2 L515.4,2115.1 L516.9,2117.9 L518.4,2120.5 L519.9,2123.1 L521.5,2125.5 L523.0,2127.9 L524.5,2130.1 L526.0,2132.2 L527.6,2134.3 L529.1,2136.2 L530.6,2138.1 L532.1,2139.9 L533.7,2141.6 L535.2,2143.2 L536.7,2144.7 L538.2,2146.2 L539.8,2147.6 L541.3,2148.9 L542.8,2150.2 L544.3,2151.4 L545.9,2152.5 L547.4,2153.6 L548.9,2154.6 L550.4,2155.6 L551.9,2156.5 L553.5,2157.4 L555.0,2158.2 L556.5,2159.0 L558.0,2159.8 L559.6,2160.5 L561.1,2161.2 L562.6,2161.8 L564.1,2162.4 L565.7,2163.0 L567.2,2163.5 L568.7,2164.0 L570.2,2164.5 L571.8,2165.0 L573.3,2165.4 L574.8,2165.8 L576.3,2166.2 L577.9,2166.6 L579.4,2166.9 L580.9,2167.3 L582.4,2167.6 L583.9,2167.9 L585.5,2168.1 L587.0,2168.4 L588.5,2168.7 L590.0,2168.9 L591.6,2169.1 L593.1,2169.3 L594.6,2169.5 L596.1,2169.7 L597.7,2169.9 L599.2,2170.1 L600.7,2170.2 L602.2,2170.4 L603.8,2170.5 L605.3,2170.6 L606.8,2170.8 L608.3,2170.9 L609.9,2171.0 L611.4,2171.1 L612.9,2171.2 L614.4,2171.3 L616.0,2171.4 L617.5,2171.5 L619.0,2171.6 L620.5,2171.6 L622.0,2171.7 L623.6,2171.8 L625.1,2171.8 L626.6,2171.9 L628.1,2171.9 L629.7,2172.0 L631.2,2172.1 L632.7,2172.1 L634.2,2172.1 L635.8,2172.2 L637.3,2172.2 L638.8,2172.3 L640.3,2172.3 L641.9,2172.3 L643.4,2172.4 L644.9,2172.4 L646.4,2172.4 L648.0,2172.5 L649.5,2172.5 L651.0,2172.5 L652.5,2172.5 L654.0,2172.5 L655.6,2172.6 L657.1,2172.6 L658.6,2172.6 L660.1,2172.6 L661.7,2172.6 L663.2,2172.7 L664.7,2172.7 L666.2,2172.7 L667.8,2172.7 L669.3,2172.7 L670.8,2172.7 L672.3,2172.7 L673.9,2172.7 L675.4,2172.7 L676.9,2172.8 L678.4,2172.8 L680.0,2172.8 L681.5,2172.8 L683.0,2172.8 L684.5,2172.8 L686.1,2172.8 L687.6,2172.8 L689.1,2172.8 L690.6,2172.8 L692.1,2172.8 L693.7,2172.8 L695.2,2172.8 L696.7,2172.8 L698.2,2172.8 L699.8,2172.8 L701.3,2172.9 L702.8,2172.9 L704.3,2172.9 L705.9,2172.9 L707.4,2172.9 L708.9,2172.9 L710.4,2172.9 L712.0,2172.9 L713.5,2172.9 L715.0,2172.9 L716.5,2172.9 L718.1,2172.9 L719.6,2172.9 L721.1,2172.9 L722.6,2172.9 L724.1,2172.9 L725.7,2172.9 L727.2,2172.9 L728.7,2172.9 L730.2,2172.9 L731.8,2172.9 L733.3,2172.9 L734.8,2172.9 L736.3,2172.9 L737.9,2172.9 L739.4,2172.9 L740.9,2172.9 L742.4,2172.9 L744.0,2172.9 L745.5,2172.9 L747.0,2172.9 L748.5,2172.9 L750.1,2172.9 L751.6,2172.9 L753.1,2172.9 L754.6,2172.9 L756.2,2172.9 L757.7,2172.9 L759.2,2172.9 L760.7,2172.9 L762.2,2172.9 L763.8,2172.9 L765.3,2172.9 L766.8,2172.9 L768.3,2172.9 L769.9,2172.9 L771.4,2172.9 L772.9,2172.9 L774.4,2172.9 L776.0,2172.9 L777.5,2172.9 L779.0,2172.9 L780.5,2172.9 L782.1,2172.9 L783.6,2172.9 L785.1,2172.9 L786.6,2172.9 L788.2,2172.9 L789.7,2172.9 L791.2,2172.9 L792.7,2172.9 L794.3,2172.9 L795.8,2172.9 L797.3,2172.9 L798.8,2172.9 L800.3,2172.9 L801.9,2172.9" fill="none" stroke="#087f08" stroke-width="6.1" stroke-linejoin="round"/>
<path d="M192.3,1878.7 L193.8,1878.7 L195.3,1878.7 L196.9,1878.7 L198.4,1878.7 L199.9,1878.7 L201.4,1878.7 L203.0,1878.7 L204.5,1878.7 L206.0,1878.7 L207.5,1878.7 L209.1,1878.7 L210.6,1878.7 L212.1,1878.7 L213.6,1878.7 L215.2,1878.7 L216.7,1878.7 L218.2,1878.7 L219.7,1878.7 L221.3,1878.7 L222.8,1878.7 L224.3,1878.7 L225.8,1878.7 L227.4,1878.7 L228.9,1878.8 L230.4,1878.8 L231.9,1878.8 L233.4,1878.8 L235.0,1878.8 L236.5,1878.8 L238.0,1878.8 L239.5,1878.8 L241.1,1878.8 L242.6,1878.8 L244.1,1878.8 L245.6,1878.9 L247.2,1878.9 L248.7,1878.9 L250.2,1878.9 L251.7,1878.9 L253.3,1878.9 L254.8,1878.9 L256.3,1879.0 L257.8,1879.0 L259.4,1879.0 L260.9,1879.0 L262.4,1879.0 L263.9,1879.1 L265.4,1879.1 L267.0,1879.1 L268.5,1879.1 L270.0,1879.2 L271.5,1879.2 L273.1,1879.2 L274.6,1879.2 L276.1,1879.3 L277.6,1879.3 L279.2,1879.3 L280.7,1879.4 L282.2,1879.4 L283.7,1879.5 L285.3,1879.5 L286.8,1879.6 L288.3,1879.6 L289.8,1879.7 L291.4,1879.7 L292.9,1879.8 L294.4,1879.9 L295.9,1879.9 L297.5,1880.0 L299.0,1880.1 L300.5,1880.1 L302.0,1880.2 L303.5,1880.3 L305.1,1880.4 L306.6,1880.5 L308.1,1880.6 L309.6,1880.7 L311.2,1880.8 L312.7,1880.9 L314.2,1881.1 L315.7,1881.2 L317.3,1881.3 L318.8,1881.5 L320.3,1881.6 L321.8,1881.8 L323.4,1882.0 L324.9,1882.1 L326.4,1882.3 L327.9,1882.5 L329.5,1882.7 L331.0,1883.0 L332.5,1883.2 L334.0,1883.5 L335.5,1883.7 L337.1,1884.0 L338.6,1884.3 L340.1,1884.6 L341.6,1884.9 L343.2,1885.2 L344.7,1885.6 L346.2,1885.9 L347.7,1886.3 L349.3,1886.7 L350.8,1887.2 L352.3,1887.6 L353.8,1888.1 L355.4,1888.6 L356.9,1889.1 L358.4,1889.7 L359.9,1890.3 L361.5,1890.9 L363.0,1891.5 L364.5,1892.2 L366.0,1892.9 L367.6,1893.6 L369.1,1894.4 L370.6,1895.2 L372.1,1896.1 L373.6,1897.0 L375.2,1897.9 L376.7,1898.9 L378.2,1899.9 L379.7,1901.0 L381.3,1902.1 L382.8,1903.3 L384.3,1904.5 L385.8,1905.8 L387.4,1907.2 L388.9,1908.6 L390.4,1910.0 L391.9,1911.6 L393.5,1913.2 L395.0,1914.8 L396.5,1916.5 L398.0,1918.3 L399.6,1920.2 L401.1,1922.1 L402.6,1924.1 L404.1,1926.2 L405.6,1928.4 L407.2,1930.6 L408.7,1932.9 L410.2,1935.3 L411.7,1937.8 L413.3,1940.4 L414.8,1943.0 L416.3,1945.7 L417.8,1948.5 L419.4,1951.4 L420.9,1954.4 L422.4,1957.4 L423.9,1960.5 L425.5,1963.7 L427.0,1967.0 L428.5,1970.3 L430.0,1973.7 L431.6,1977.1 L433.1,1980.7 L434.6,1984.2 L436.1,1987.9 L437.7,1991.6 L439.2,1995.3 L440.7,1999.1 L442.2,2002.9 L443.7,2006.7 L445.3,2010.6 L446.8,2014.5 L448.3,2018.4 L449.8,2022.3 L451.4,2026.2 L452.9,2030.1 L454.4,2034.0 L455.9,2037.9 L457.5,2041.8 L459.0,2045.7 L460.5,2049.5 L462.0,2053.3 L463.6,2057.1 L465.1,2060.8 L466.6,2064.5 L468.1,2068.1 L469.7,2071.7 L471.2,2075.2 L472.7,2078.6 L474.2,2082.0 L475.8,2085.3 L477.3,2088.6 L478.8,2091.8 L480.3,2094.9 L481.8,2097.9 L483.4,2100.8 L484.9,2103.7 L486.4,2106.5 L487.9,2109.2 L489.5,2111.8 L491.0,2114.3 L492.5,2116.8 L494.0,2119.2 L495.6,2121.5 L497.1,2123.7 L498.6,2125.9 L500.1,2128.0 L501.7,2130.0 L503.2,2131.9 L504.7,2133.7 L506.2,2135.5 L507.8,2137.2 L509.3,2138.9 L510.8,2140.5 L512.3,2142.0 L513.8,2143.4 L515.4,2144.8 L516.9,2146.1 L518.4,2147.4 L519.9,2148.6 L521.5,2149.8 L523.0,2150.9 L524.5,2152.0 L526.0,2153.0 L527.6,2154.0 L529.1,2154.9 L530.6,2155.8 L532.1,2156.7 L533.7,2157.5 L535.2,2158.2 L536.7,2159.0 L538.2,2159.7 L539.8,2160.3 L541.3,2161.0 L542.8,2161.6 L544.3,2162.2 L545.9,2162.7 L547.4,2163.2 L548.9,2163.7 L550.4,2164.2 L551.9,2164.6 L553.5,2165.1 L555.0,2165.5 L556.5,2165.9 L558.0,2166.2 L559.6,2166.6 L561.1,2166.9 L562.6,2167.2 L564.1,2167.5 L565.7,2167.8 L567.2,2168.1 L568.7,2168.3 L570.2,2168.6 L571.8,2168.8 L573.3,2169.0 L574.8,2169.3 L576.3,2169.4 L577.9,2169.6 L579.4,2169.8 L580.9,2170.0 L582.4,2170.1 L583.9,2170.3 L585.5,2170.4 L587.0,2170.6 L588.5,2170.7 L590.0,2170.8 L591.6,2171.0 L593.1,2171.1 L594.6,2171.2 L596.1,2171.3 L597.7,2171.4 L599.2,2171.5 L600.7,2171.5 L602.2,2171.6 L603.8,2171.7 L605.3,2171.8 L606.8,2171.8 L608.3,2171.9 L609.9,2172.0 L611.4,2172.0 L612.9,2172.1 L614.4,2172.1 L616.0,2172.2 L617.5,2172.2 L619.0,2172.3 L620.5,2172.3 L622.0,2172.4 L623.6,2172.4 L625.1,2172.5 L626.6,2172.5 L628.1,2172.5 L629.7,2172.5 L631.2,2172.6 L632.7,2172.6 L634.2,2172.6 L635.8,2172.7 L637.3,2172.7 L638.8,2172.7 L640.3,2172.7 L641.9,2172.7 L643.4,2172.8 L644.9,2172.8 L646.4,2172.8 L648.0,2172.8 L649.5,2172.8 L651.0,2172.9 L652.5,2172.9 L654.0,2172.9 L655.6,2172.9 L657.1,2172.9 L658.6,2172.9 L660.1,2172.9 L661.7,2172.9 L663.2,2172.9 L664.7,2173.0 L666.2,2173.0 L667.8,2173.0 L669.3,2173.0 L670.8,2173.0 L672.3,2173.0 L673.9,2173.0 L675.4,2173.0 L676.9,2173.0 L678.4,2173.0 L680.0,2173.0 L681.5,2173.0 L683.0,2173.0 L684.5,2173.0 L686.1,2173.0 L687.6,2173.0 L689.1,2173.1 L690.6,2173.1 L692.1,2173.1 L693.7,2173.1 L695.2,2173.1 L696.7,2173.1 L698.2,2173.1 L699.8,2173.1 L701.3,2173.1 L702.8,2173.1 L704.3,2173.1 L705.9,2173.1 L707.4,2173.1 L708.9,2173.1 L710.4,2173.1 L712.0,2173.1 L713.5,2173.1 L715.0,2173.1 L716.5,2173.1 L718.1,2173.1 L719.6,2173.1 L721.1,2173.1 L722.6,2173.1 L724.1,2173.1 L725.7,2173.1 L727.2,2173.1 L728.7,2173.1 L730.2,2173.1 L731.8,2173.1 L733.3,2173.1 L734.8,2173.1 L736.3,2173.1 L737.9,2173.1 L739.4,2173.1 L740.9,2173.1 L742.4,2173.1 L744.0,2173.1 L745.5,2173.1 L747.0,2173.1 L748.5,2173.1 L750.1,2173.1 L751.6,2173.1 L753.1,2173.1 L754.6,2173.1 L756.2,2173.1 L757.7,2173.1 L759.2,2173.1 L760.7,2173.1 L762.2,2173.1 L763.8,2173.1 L765.3,2173.1 L766.8,2173.1 L768.3,2173.1 L769.9,2173.1 L771.4,2173.1 L772.9,2173.1 L774.4,2173.1 L776.0,2173.1 L777.5,2173.1 L779.0,2173.1 L780.5,2173.1 L782.1,2173.1 L783.6,2173.1 L785.1,2173.1 L786.6,2173.1 L788.2,2173.1 L789.7,2173.1 L791.2,2173.1 L792.7,2173.1 L794.3,2173.1 L795.8,2173.1 L797.3,2173.1 L798.8,2173.1 L800.3,2173.1 L801.9,2173.1" fill="none" stroke="#087f08" stroke-width="6.1" stroke-linejoin="round"/>
<circle cx="254.8" cy="1650.5" r="12.2" fill="none" stroke="#000" stroke-width="4.2"/>
<circle cx="333.0" cy="1650.5" r="12.2" fill="none" stroke="#000" stroke-width="4.2"/>
<circle cx="411.1" cy="1650.5" r="12.2" fill="none" stroke="#000" stroke-width="4.2"/>
<circle cx="489.3" cy="1695.5" r="12.2" fill="none" stroke="#000" stroke-width="4.2"/>
<circle cx="567.4" cy="2088.9" r="12.2" fill="none" stroke="#000" stroke-width="4.2"/>
<circle cx="645.6" cy="2167.6" r="12.2" fill="none" stroke="#000" stroke-width="4.2"/>
<circle cx="723.7" cy="2173.2" r="12.2" fill="none" stroke="#000" stroke-width="4.2"/>
<circle cx="801.9" cy="2173.2" r="12.2" fill="none" stroke="#000" stroke-width="4.2"/>
<rect x="242.2" y="1772.8" width="25.2" height="25.2" fill="none" stroke="#000" stroke-width="4.2"/>
<rect x="320.4" y="1778.4" width="25.2" height="25.2" fill="none" stroke="#000" stroke-width="4.2"/>
<rect x="398.5" y="1812.2" width="25.2" height="25.2" fill="none" stroke="#000" stroke-width="4.2"/>
<rect x="476.7" y="2037.0" width="25.2" height="25.2" fill="none" stroke="#000" stroke-width="4.2"/>
<rect x="554.8" y="2149.4" width="25.2" height="25.2" fill="none" stroke="#000" stroke-width="4.2"/>
<rect x="633.0" y="2160.6" width="25.2" height="25.2" fill="none" stroke="#000" stroke-width="4.2"/>
<rect x="711.1" y="2160.6" width="25.2" height="25.2" fill="none" stroke="#000" stroke-width="4.2"/>
<rect x="789.3" y="2160.6" width="25.2" height="25.2" fill="none" stroke="#000" stroke-width="4.2"/>
<polygon points="254.8,1870.3 242.4,1894.0 267.2,1894.0" fill="none" stroke="#000" stroke-width="4.2" stroke-linejoin="miter"/>
<polygon points="333.0,1870.3 320.6,1894.0 345.4,1894.0" fill="none" stroke="#000" stroke-width="4.2" stroke-linejoin="miter"/>
<polygon points="411.1,1926.5 398.7,1950.2 423.5,1950.2" fill="none" stroke="#000" stroke-width="4.2" stroke-linejoin="miter"/>
<polygon points="489.3,2100.7 476.9,2124.4 501.7,2124.4" fill="none" stroke="#000" stroke-width="4.2" stroke-linejoin="miter"/>
<polygon points="567.4,2156.9 555.0,2180.6 579.8,2180.6" fill="none" stroke="#000" stroke-width="4.2" stroke-linejoin="miter"/>
<polygon points="645.6,2162.5 633.2,2186.2 658.0,2186.2" fill="none" stroke="#000" stroke-width="4.2" stroke-linejoin="miter"/>
<polygon points="723.7,2162.5 711.3,2186.2 736.1,2186.2" fill="none" stroke="#000" stroke-width="4.2" stroke-linejoin="miter"/>
<polygon points="801.9,2162.5 789.5,2186.2 814.3,2186.2" fill="none" stroke="#000" stroke-width="4.2" stroke-linejoin="miter"/>
<rect x="1055.4" y="1596.1" width="292.2" height="577.9" fill="url(#gShade)"/>
<line x1="1347.6" y1="1599.6" x2="1347.6" y2="2174.0" stroke="#000" stroke-width="3.9" stroke-dasharray="0.01 12.52" stroke-linecap="round"/>
<text x="1067.5" y="1635.5" font-family='"Liberation Sans", Arial, sans-serif' font-size="35.2">K<tspan font-size="25.6" dy="7.4">d,app</tspan><tspan dy="-7.4">=0.7nM</tspan></text>
<text x="1067.5" y="1679.5" font-family='"Liberation Sans", Arial, sans-serif' font-size="35.2">IgA</text>
<text x="1155" y="1679.5" font-family='"Liberation Sans", Arial, sans-serif' font-size="35.2">=10.5nM</text>
<line x1="1051.2" y1="1596.1" x2="1051.2" y2="2193.0" stroke="#000" stroke-width="8.5"/>
<line x1="1047.0" y1="2174.0" x2="1679.2" y2="2174.0" stroke="#000" stroke-width="8"/>
<line x1="1031.4" y1="2168.0" x2="1051.2" y2="2168.0" stroke="#000" stroke-width="7.5"/>
<text x="1027.7" y="2184.3" text-anchor="end" font-family='"Liberation Sans", Arial, sans-serif' font-weight="700" font-size="45.5">0.0</text>
<line x1="1039.4" y1="2145.5" x2="1051.2" y2="2145.5" stroke="#000" stroke-width="6.7"/>
<line x1="1039.4" y1="2123.0" x2="1051.2" y2="2123.0" stroke="#000" stroke-width="6.7"/>
<line x1="1039.4" y1="2100.6" x2="1051.2" y2="2100.6" stroke="#000" stroke-width="6.7"/>
<line x1="1039.4" y1="2078.1" x2="1051.2" y2="2078.1" stroke="#000" stroke-width="6.7"/>
<line x1="1031.4" y1="2055.6" x2="1051.2" y2="2055.6" stroke="#000" stroke-width="7.5"/>
<text x="1027.7" y="2071.9" text-anchor="end" font-family='"Liberation Sans", Arial, sans-serif' font-weight="700" font-size="45.5">0.2</text>
<line x1="1039.4" y1="2033.1" x2="1051.2" y2="2033.1" stroke="#000" stroke-width="6.7"/>
<line x1="1039.4" y1="2010.6" x2="1051.2" y2="2010.6" stroke="#000" stroke-width="6.7"/>
<line x1="1039.4" y1="1988.2" x2="1051.2" y2="1988.2" stroke="#000" stroke-width="6.7"/>
<line x1="1039.4" y1="1965.7" x2="1051.2" y2="1965.7" stroke="#000" stroke-width="6.7"/>
<line x1="1031.4" y1="1943.2" x2="1051.2" y2="1943.2" stroke="#000" stroke-width="7.5"/>
<text x="1027.7" y="1959.5" text-anchor="end" font-family='"Liberation Sans", Arial, sans-serif' font-weight="700" font-size="45.5">0.4</text>
<line x1="1039.4" y1="1920.7" x2="1051.2" y2="1920.7" stroke="#000" stroke-width="6.7"/>
<line x1="1039.4" y1="1898.2" x2="1051.2" y2="1898.2" stroke="#000" stroke-width="6.7"/>
<line x1="1039.4" y1="1875.8" x2="1051.2" y2="1875.8" stroke="#000" stroke-width="6.7"/>
<line x1="1039.4" y1="1853.3" x2="1051.2" y2="1853.3" stroke="#000" stroke-width="6.7"/>
<line x1="1031.4" y1="1830.8" x2="1051.2" y2="1830.8" stroke="#000" stroke-width="7.5"/>
<text x="1027.7" y="1847.1" text-anchor="end" font-family='"Liberation Sans", Arial, sans-serif' font-weight="700" font-size="45.5">0.6</text>
<line x1="1039.4" y1="1808.3" x2="1051.2" y2="1808.3" stroke="#000" stroke-width="6.7"/>
<line x1="1039.4" y1="1785.8" x2="1051.2" y2="1785.8" stroke="#000" stroke-width="6.7"/>
<line x1="1039.4" y1="1763.4" x2="1051.2" y2="1763.4" stroke="#000" stroke-width="6.7"/>
<line x1="1039.4" y1="1740.9" x2="1051.2" y2="1740.9" stroke="#000" stroke-width="6.7"/>
<line x1="1031.4" y1="1718.4" x2="1051.2" y2="1718.4" stroke="#000" stroke-width="7.5"/>
<text x="1027.7" y="1734.7" text-anchor="end" font-family='"Liberation Sans", Arial, sans-serif' font-weight="700" font-size="45.5">0.8</text>
<line x1="1039.4" y1="1695.9" x2="1051.2" y2="1695.9" stroke="#000" stroke-width="6.7"/>
<line x1="1039.4" y1="1673.4" x2="1051.2" y2="1673.4" stroke="#000" stroke-width="6.7"/>
<line x1="1039.4" y1="1651.0" x2="1051.2" y2="1651.0" stroke="#000" stroke-width="6.7"/>
<line x1="1039.4" y1="1628.5" x2="1051.2" y2="1628.5" stroke="#000" stroke-width="6.7"/>
<line x1="1031.4" y1="1606.0" x2="1051.2" y2="1606.0" stroke="#000" stroke-width="7.5"/>
<text x="1027.7" y="1622.3" text-anchor="end" font-family='"Liberation Sans", Arial, sans-serif' font-weight="700" font-size="45.5">1.0</text>
<text x="1051.2" y="2241.5" text-anchor="middle" font-family='"Liberation Sans", Arial, sans-serif' font-weight="700" font-size="45.5">-4</text>
<line x1="1207.2" y1="2174.0" x2="1207.2" y2="2193.0" stroke="#000" stroke-width="8"/>
<text x="1207.2" y="2241.5" text-anchor="middle" font-family='"Liberation Sans", Arial, sans-serif' font-weight="700" font-size="45.5">-2</text>
<line x1="1363.2" y1="2174.0" x2="1363.2" y2="2193.0" stroke="#000" stroke-width="8"/>
<text x="1363.2" y="2241.5" text-anchor="middle" font-family='"Liberation Sans", Arial, sans-serif' font-weight="700" font-size="45.5">0</text>
<line x1="1519.2" y1="2174.0" x2="1519.2" y2="2193.0" stroke="#000" stroke-width="8"/>
<text x="1519.2" y="2241.5" text-anchor="middle" font-family='"Liberation Sans", Arial, sans-serif' font-weight="700" font-size="45.5">2</text>
<line x1="1675.2" y1="2174.0" x2="1675.2" y2="2193.0" stroke="#000" stroke-width="8"/>
<text x="1675.2" y="2241.5" text-anchor="middle" font-family='"Liberation Sans", Arial, sans-serif' font-weight="700" font-size="45.5">4</text>
<text x="1364.2" y="2316.3" text-anchor="middle" font-family='"Liberation Sans", Arial, sans-serif' font-weight="700" font-size="51" letter-spacing="0.55">RBD (log nM)</text>
<text transform="translate(938,1878.2) rotate(-90)" text-anchor="middle" font-family='"Liberation Sans", Arial, sans-serif' font-weight="700" font-size="51.3" letter-spacing="0.5">Fraction bound</text>
<path d="M1051.2,1836.8 L1052.7,1836.8 L1054.2,1836.8 L1055.8,1836.8 L1057.3,1836.8 L1058.8,1836.8 L1060.3,1836.8 L1061.8,1836.8 L1063.4,1836.8 L1064.9,1836.8 L1066.4,1836.8 L1067.9,1836.8 L1069.5,1836.8 L1071.0,1836.8 L1072.5,1836.8 L1074.0,1836.8 L1075.5,1836.8 L1077.1,1836.8 L1078.6,1836.8 L1080.1,1836.8 L1081.6,1836.8 L1083.1,1836.8 L1084.7,1836.8 L1086.2,1836.8 L1087.7,1836.8 L1089.2,1836.8 L1090.7,1836.8 L1092.3,1836.8 L1093.8,1836.8 L1095.3,1836.8 L1096.8,1836.8 L1098.4,1836.8 L1099.9,1836.8 L1101.4,1836.8 L1102.9,1836.8 L1104.4,1836.8 L1106.0,1836.8 L1107.5,1836.8 L1109.0,1836.8 L1110.5,1836.8 L1112.0,1836.8 L1113.6,1836.8 L1115.1,1836.8 L1116.6,1836.8 L1118.1,1836.8 L1119.6,1836.8 L1121.2,1836.8 L1122.7,1836.8 L1124.2,1836.8 L1125.7,1836.8 L1127.2,1836.8 L1128.8,1836.8 L1130.3,1836.8 L1131.8,1836.8 L1133.3,1836.8 L1134.9,1836.8 L1136.4,1836.8 L1137.9,1836.8 L1139.4,1836.8 L1140.9,1836.8 L1142.5,1836.8 L1144.0,1836.9 L1145.5,1836.9 L1147.0,1836.9 L1148.5,1836.9 L1150.1,1836.9 L1151.6,1836.9 L1153.1,1836.9 L1154.6,1836.9 L1156.1,1836.9 L1157.7,1836.9 L1159.2,1836.9 L1160.7,1836.9 L1162.2,1836.9 L1163.8,1836.9 L1165.3,1836.9 L1166.8,1836.9 L1168.3,1836.9 L1169.8,1836.9 L1171.4,1836.9 L1172.9,1836.9 L1174.4,1836.9 L1175.9,1836.9 L1177.4,1836.9 L1179.0,1837.0 L1180.5,1837.0 L1182.0,1837.0 L1183.5,1837.0 L1185.0,1837.0 L1186.6,1837.0 L1188.1,1837.0 L1189.6,1837.0 L1191.1,1837.0 L1192.7,1837.1 L1194.2,1837.1 L1195.7,1837.1 L1197.2,1837.1 L1198.7,1837.1 L1200.3,1837.1 L1201.8,1837.1 L1203.3,1837.2 L1204.8,1837.2 L1206.3,1837.2 L1207.9,1837.2 L1209.4,1837.2 L1210.9,1837.3 L1212.4,1837.3 L1213.9,1837.3 L1215.5,1837.4 L1217.0,1837.4 L1218.5,1837.4 L1220.0,1837.4 L1221.6,1837.5 L1223.1,1837.5 L1224.6,1837.6 L1226.1,1837.6 L1227.6,1837.6 L1229.2,1837.7 L1230.7,1837.7 L1232.2,1837.8 L1233.7,1837.8 L1235.2,1837.9 L1236.8,1838.0 L1238.3,1838.0 L1239.8,1838.1 L1241.3,1838.2 L1242.8,1838.2 L1244.4,1838.3 L1245.9,1838.4 L1247.4,1838.5 L1248.9,1838.6 L1250.5,1838.7 L1252.0,1838.8 L1253.5,1838.9 L1255.0,1839.0 L1256.5,1839.1 L1258.1,1839.3 L1259.6,1839.4 L1261.1,1839.6 L1262.6,1839.7 L1264.1,1839.9 L1265.7,1840.0 L1267.2,1840.2 L1268.7,1840.4 L1270.2,1840.6 L1271.7,1840.8 L1273.3,1841.0 L1274.8,1841.3 L1276.3,1841.5 L1277.8,1841.8 L1279.4,1842.0 L1280.9,1842.3 L1282.4,1842.6 L1283.9,1842.9 L1285.4,1843.3 L1287.0,1843.6 L1288.5,1844.0 L1290.0,1844.4 L1291.5,1844.8 L1293.0,1845.2 L1294.6,1845.7 L1296.1,1846.1 L1297.6,1846.7 L1299.1,1847.2 L1300.6,1847.7 L1302.2,1848.3 L1303.7,1848.9 L1305.2,1849.6 L1306.7,1850.3 L1308.2,1851.0 L1309.8,1851.8 L1311.3,1852.5 L1312.8,1853.4 L1314.3,1854.2 L1315.9,1855.2 L1317.4,1856.1 L1318.9,1857.1 L1320.4,1858.2 L1321.9,1859.3 L1323.5,1860.5 L1325.0,1861.7 L1326.5,1863.0 L1328.0,1864.3 L1329.5,1865.7 L1331.1,1867.1 L1332.6,1868.7 L1334.1,1870.3 L1335.6,1871.9 L1337.1,1873.7 L1338.7,1875.5 L1340.2,1877.4 L1341.7,1879.3 L1343.2,1881.4 L1344.8,1883.5 L1346.3,1885.7 L1347.8,1888.0 L1349.3,1890.4 L1350.8,1892.9 L1352.4,1895.5 L1353.9,1898.1 L1355.4,1900.9 L1356.9,1903.7 L1358.4,1906.6 L1360.0,1909.7 L1361.5,1912.8 L1363.0,1916.0 L1364.5,1919.3 L1366.0,1922.7 L1367.6,1926.2 L1369.1,1929.8 L1370.6,1933.4 L1372.1,1937.2 L1373.7,1941.0 L1375.2,1944.9 L1376.7,1948.9 L1378.2,1952.9 L1379.7,1957.0 L1381.3,1961.2 L1382.8,1965.4 L1384.3,1969.7 L1385.8,1974.0 L1387.3,1978.4 L1388.9,1982.8 L1390.4,1987.2 L1391.9,1991.6 L1393.4,1996.1 L1394.9,2000.6 L1396.5,2005.0 L1398.0,2009.5 L1399.5,2013.9 L1401.0,2018.4 L1402.6,2022.8 L1404.1,2027.2 L1405.6,2031.5 L1407.1,2035.8 L1408.6,2040.1 L1410.2,2044.3 L1411.7,2048.4 L1413.2,2052.5 L1414.7,2056.5 L1416.2,2060.5 L1417.8,2064.3 L1419.3,2068.1 L1420.8,2071.8 L1422.3,2075.4 L1423.8,2079.0 L1425.4,2082.4 L1426.9,2085.8 L1428.4,2089.1 L1429.9,2092.2 L1431.5,2095.3 L1433.0,2098.3 L1434.5,2101.2 L1436.0,2104.0 L1437.5,2106.7 L1439.1,2109.3 L1440.6,2111.9 L1442.1,2114.3 L1443.6,2116.6 L1445.1,2118.9 L1446.7,2121.1 L1448.2,2123.2 L1449.7,2125.2 L1451.2,2127.1 L1452.7,2129.0 L1454.3,2130.8 L1455.8,2132.5 L1457.3,2134.1 L1458.8,2135.7 L1460.3,2137.2 L1461.9,2138.6 L1463.4,2140.0 L1464.9,2141.3 L1466.4,2142.5 L1468.0,2143.7 L1469.5,2144.9 L1471.0,2145.9 L1472.5,2147.0 L1474.0,2148.0 L1475.6,2148.9 L1477.1,2149.8 L1478.6,2150.7 L1480.1,2151.5 L1481.6,2152.3 L1483.2,2153.0 L1484.7,2153.7 L1486.2,2154.4 L1487.7,2155.0 L1489.2,2155.6 L1490.8,2156.2 L1492.3,2156.7 L1493.8,2157.2 L1495.3,2157.7 L1496.9,2158.2 L1498.4,2158.6 L1499.9,2159.1 L1501.4,2159.5 L1502.9,2159.9 L1504.5,2160.2 L1506.0,2160.6 L1507.5,2160.9 L1509.0,2161.2 L1510.5,2161.5 L1512.1,2161.8 L1513.6,2162.0 L1515.1,2162.3 L1516.6,2162.5 L1518.1,2162.8 L1519.7,2163.0 L1521.2,2163.2 L1522.7,2163.4 L1524.2,2163.5 L1525.8,2163.7 L1527.3,2163.9 L1528.8,2164.0 L1530.3,2164.2 L1531.8,2164.3 L1533.4,2164.5 L1534.9,2164.6 L1536.4,2164.7 L1537.9,2164.8 L1539.4,2164.9 L1541.0,2165.0 L1542.5,2165.1 L1544.0,2165.2 L1545.5,2165.3 L1547.0,2165.4 L1548.6,2165.5 L1550.1,2165.5 L1551.6,2165.6 L1553.1,2165.7 L1554.7,2165.7 L1556.2,2165.8 L1557.7,2165.9 L1559.2,2165.9 L1560.7,2166.0 L1562.3,2166.0 L1563.8,2166.0 L1565.3,2166.1 L1566.8,2166.1 L1568.3,2166.2 L1569.9,2166.2 L1571.4,2166.2 L1572.9,2166.3 L1574.4,2166.3 L1575.9,2166.3 L1577.5,2166.4 L1579.0,2166.4 L1580.5,2166.4 L1582.0,2166.4 L1583.6,2166.5 L1585.1,2166.5 L1586.6,2166.5 L1588.1,2166.5 L1589.6,2166.5 L1591.2,2166.6 L1592.7,2166.6 L1594.2,2166.6 L1595.7,2166.6 L1597.2,2166.6 L1598.8,2166.6 L1600.3,2166.6 L1601.8,2166.7 L1603.3,2166.7 L1604.8,2166.7 L1606.4,2166.7 L1607.9,2166.7 L1609.4,2166.7 L1610.9,2166.7 L1612.4,2166.7 L1614.0,2166.7 L1615.5,2166.7 L1617.0,2166.7 L1618.5,2166.8 L1620.1,2166.8 L1621.6,2166.8 L1623.1,2166.8 L1624.6,2166.8 L1626.1,2166.8 L1627.7,2166.8 L1629.2,2166.8 L1630.7,2166.8 L1632.2,2166.8 L1633.7,2166.8 L1635.3,2166.8 L1636.8,2166.8 L1638.3,2166.8 L1639.8,2166.8 L1641.3,2166.8 L1642.9,2166.8 L1644.4,2166.8 L1645.9,2166.8 L1647.4,2166.8 L1649.0,2166.8 L1650.5,2166.8 L1652.0,2166.8 L1653.5,2166.8 L1655.0,2166.8 L1656.6,2166.8 L1658.1,2166.8 L1659.6,2166.8" fill="none" stroke="#0a0ab8" stroke-width="6.1" stroke-linejoin="round"/>
<path d="M1051.2,2061.5 L1052.7,2061.5 L1054.2,2061.5 L1055.8,2061.5 L1057.3,2061.5 L1058.8,2061.5 L1060.3,2061.5 L1061.8,2061.5 L1063.4,2061.5 L1064.9,2061.5 L1066.4,2061.5 L1067.9,2061.5 L1069.5,2061.5 L1071.0,2061.5 L1072.5,2061.5 L1074.0,2061.5 L1075.5,2061.5 L1077.1,2061.5 L1078.6,2061.5 L1080.1,2061.5 L1081.6,2061.5 L1083.1,2061.5 L1084.7,2061.5 L1086.2,2061.5 L1087.7,2061.5 L1089.2,2061.5 L1090.7,2061.5 L1092.3,2061.5 L1093.8,2061.5 L1095.3,2061.5 L1096.8,2061.5 L1098.4,2061.5 L1099.9,2061.5 L1101.4,2061.5 L1102.9,2061.5 L1104.4,2061.5 L1106.0,2061.5 L1107.5,2061.5 L1109.0,2061.5 L1110.5,2061.5 L1112.0,2061.5 L1113.6,2061.5 L1115.1,2061.5 L1116.6,2061.5 L1118.1,2061.5 L1119.6,2061.5 L1121.2,2061.5 L1122.7,2061.5 L1124.2,2061.5 L1125.7,2061.5 L1127.2,2061.5 L1128.8,2061.5 L1130.3,2061.5 L1131.8,2061.5 L1133.3,2061.5 L1134.9,2061.5 L1136.4,2061.5 L1137.9,2061.5 L1139.4,2061.5 L1140.9,2061.5 L1142.5,2061.5 L1144.0,2061.5 L1145.5,2061.5 L1147.0,2061.5 L1148.5,2061.5 L1150.1,2061.5 L1151.6,2061.5 L1153.1,2061.5 L1154.6,2061.5 L1156.1,2061.6 L1157.7,2061.6 L1159.2,2061.6 L1160.7,2061.6 L1162.2,2061.6 L1163.8,2061.6 L1165.3,2061.6 L1166.8,2061.6 L1168.3,2061.6 L1169.8,2061.6 L1171.4,2061.6 L1172.9,2061.6 L1174.4,2061.6 L1175.9,2061.6 L1177.4,2061.7 L1179.0,2061.7 L1180.5,2061.7 L1182.0,2061.7 L1183.5,2061.7 L1185.0,2061.7 L1186.6,2061.7 L1188.1,2061.7 L1189.6,2061.8 L1191.1,2061.8 L1192.7,2061.8 L1194.2,2061.8 L1195.7,2061.8 L1197.2,2061.9 L1198.7,2061.9 L1200.3,2061.9 L1201.8,2061.9 L1203.3,2061.9 L1204.8,2062.0 L1206.3,2062.0 L1207.9,2062.0 L1209.4,2062.1 L1210.9,2062.1 L1212.4,2062.1 L1213.9,2062.2 L1215.5,2062.2 L1217.0,2062.2 L1218.5,2062.3 L1220.0,2062.3 L1221.6,2062.4 L1223.1,2062.4 L1224.6,2062.5 L1226.1,2062.5 L1227.6,2062.6 L1229.2,2062.6 L1230.7,2062.7 L1232.2,2062.7 L1233.7,2062.8 L1235.2,2062.9 L1236.8,2062.9 L1238.3,2063.0 L1239.8,2063.1 L1241.3,2063.2 L1242.8,2063.3 L1244.4,2063.4 L1245.9,2063.5 L1247.4,2063.6 L1248.9,2063.7 L1250.5,2063.8 L1252.0,2063.9 L1253.5,2064.0 L1255.0,2064.2 L1256.5,2064.3 L1258.1,2064.5 L1259.6,2064.6 L1261.1,2064.8 L1262.6,2064.9 L1264.1,2065.1 L1265.7,2065.3 L1267.2,2065.5 L1268.7,2065.7 L1270.2,2065.9 L1271.7,2066.1 L1273.3,2066.4 L1274.8,2066.6 L1276.3,2066.9 L1277.8,2067.1 L1279.4,2067.4 L1280.9,2067.7 L1282.4,2068.0 L1283.9,2068.3 L1285.4,2068.7 L1287.0,2069.0 L1288.5,2069.4 L1290.0,2069.8 L1291.5,2070.2 L1293.0,2070.6 L1294.6,2071.0 L1296.1,2071.5 L1297.6,2072.0 L1299.1,2072.5 L1300.6,2073.0 L1302.2,2073.5 L1303.7,2074.1 L1305.2,2074.7 L1306.7,2075.3 L1308.2,2075.9 L1309.8,2076.5 L1311.3,2077.2 L1312.8,2077.9 L1314.3,2078.6 L1315.9,2079.4 L1317.4,2080.1 L1318.9,2080.9 L1320.4,2081.8 L1321.9,2082.6 L1323.5,2083.5 L1325.0,2084.4 L1326.5,2085.3 L1328.0,2086.3 L1329.5,2087.3 L1331.1,2088.3 L1332.6,2089.3 L1334.1,2090.4 L1335.6,2091.5 L1337.1,2092.6 L1338.7,2093.7 L1340.2,2094.9 L1341.7,2096.1 L1343.2,2097.3 L1344.8,2098.5 L1346.3,2099.8 L1347.8,2101.0 L1349.3,2102.3 L1350.8,2103.6 L1352.4,2104.9 L1353.9,2106.2 L1355.4,2107.6 L1356.9,2108.9 L1358.4,2110.3 L1360.0,2111.6 L1361.5,2113.0 L1363.0,2114.3 L1364.5,2115.7 L1366.0,2117.1 L1367.6,2118.4 L1369.1,2119.8 L1370.6,2121.1 L1372.1,2122.5 L1373.7,2123.8 L1375.2,2125.1 L1376.7,2126.4 L1378.2,2127.7 L1379.7,2129.0 L1381.3,2130.3 L1382.8,2131.5 L1384.3,2132.7 L1385.8,2133.9 L1387.3,2135.1 L1388.9,2136.3 L1390.4,2137.4 L1391.9,2138.5 L1393.4,2139.6 L1394.9,2140.7 L1396.5,2141.7 L1398.0,2142.7 L1399.5,2143.7 L1401.0,2144.6 L1402.6,2145.6 L1404.1,2146.5 L1405.6,2147.3 L1407.1,2148.2 L1408.6,2149.0 L1410.2,2149.8 L1411.7,2150.6 L1413.2,2151.3 L1414.7,2152.0 L1416.2,2152.7 L1417.8,2153.4 L1419.3,2154.1 L1420.8,2154.7 L1422.3,2155.3 L1423.8,2155.9 L1425.4,2156.4 L1426.9,2156.9 L1428.4,2157.5 L1429.9,2157.9 L1431.5,2158.4 L1433.0,2158.9 L1434.5,2159.3 L1436.0,2159.7 L1437.5,2160.1 L1439.1,2160.5 L1440.6,2160.9 L1442.1,2161.2 L1443.6,2161.5 L1445.1,2161.9 L1446.7,2162.2 L1448.2,2162.5 L1449.7,2162.7 L1451.2,2163.0 L1452.7,2163.3 L1454.3,2163.5 L1455.8,2163.7 L1457.3,2164.0 L1458.8,2164.2 L1460.3,2164.4 L1461.9,2164.6 L1463.4,2164.8 L1464.9,2164.9 L1466.4,2165.1 L1468.0,2165.3 L1469.5,2165.4 L1471.0,2165.6 L1472.5,2165.7 L1474.0,2165.8 L1475.6,2166.0 L1477.1,2166.1 L1478.6,2166.2 L1480.1,2166.3 L1481.6,2166.4 L1483.2,2166.5 L1484.7,2166.6 L1486.2,2166.7 L1487.7,2166.8 L1489.2,2166.8 L1490.8,2166.9 L1492.3,2167.0 L1493.8,2167.1 L1495.3,2167.1 L1496.9,2167.2 L1498.4,2167.2 L1499.9,2167.3 L1501.4,2167.4 L1502.9,2167.4 L1504.5,2167.5 L1506.0,2167.5 L1507.5,2167.6 L1509.0,2167.6 L1510.5,2167.6 L1512.1,2167.7 L1513.6,2167.7 L1515.1,2167.7 L1516.6,2167.8 L1518.1,2167.8 L1519.7,2167.8 L1521.2,2167.9 L1522.7,2167.9 L1524.2,2167.9 L1525.8,2167.9 L1527.3,2168.0 L1528.8,2168.0 L1530.3,2168.0 L1531.8,2168.0 L1533.4,2168.0 L1534.9,2168.1 L1536.4,2168.1 L1537.9,2168.1 L1539.4,2168.1 L1541.0,2168.1 L1542.5,2168.1 L1544.0,2168.2 L1545.5,2168.2 L1547.0,2168.2 L1548.6,2168.2 L1550.1,2168.2 L1551.6,2168.2 L1553.1,2168.2 L1554.7,2168.2 L1556.2,2168.2 L1557.7,2168.2 L1559.2,2168.3 L1560.7,2168.3 L1562.3,2168.3 L1563.8,2168.3 L1565.3,2168.3 L1566.8,2168.3 L1568.3,2168.3 L1569.9,2168.3 L1571.4,2168.3 L1572.9,2168.3 L1574.4,2168.3 L1575.9,2168.3 L1577.5,2168.3 L1579.0,2168.3 L1580.5,2168.3 L1582.0,2168.3 L1583.6,2168.3 L1585.1,2168.3 L1586.6,2168.3 L1588.1,2168.3 L1589.6,2168.3 L1591.2,2168.4 L1592.7,2168.4 L1594.2,2168.4 L1595.7,2168.4 L1597.2,2168.4 L1598.8,2168.4 L1600.3,2168.4 L1601.8,2168.4 L1603.3,2168.4 L1604.8,2168.4 L1606.4,2168.4 L1607.9,2168.4 L1609.4,2168.4 L1610.9,2168.4 L1612.4,2168.4 L1614.0,2168.4 L1615.5,2168.4 L1617.0,2168.4 L1618.5,2168.4 L1620.1,2168.4 L1621.6,2168.4 L1623.1,2168.4 L1624.6,2168.4 L1626.1,2168.4 L1627.7,2168.4 L1629.2,2168.4 L1630.7,2168.4 L1632.2,2168.4 L1633.7,2168.4 L1635.3,2168.4 L1636.8,2168.4 L1638.3,2168.4 L1639.8,2168.4 L1641.3,2168.4 L1642.9,2168.4 L1644.4,2168.4 L1645.9,2168.4 L1647.4,2168.4 L1649.0,2168.4 L1650.5,2168.4 L1652.0,2168.4 L1653.5,2168.4 L1655.0,2168.4 L1656.6,2168.4 L1658.1,2168.4 L1659.6,2168.4" fill="none" stroke="#0a0ab8" stroke-width="6.1" stroke-linejoin="round"/>
<path d="M1051.2,2106.2 L1052.7,2106.2 L1054.2,2106.2 L1055.8,2106.2 L1057.3,2106.2 L1058.8,2106.2 L1060.3,2106.2 L1061.8,2106.2 L1063.4,2106.2 L1064.9,2106.2 L1066.4,2106.2 L1067.9,2106.2 L1069.5,2106.2 L1071.0,2106.2 L1072.5,2106.2 L1074.0,2106.2 L1075.5,2106.2 L1077.1,2106.2 L1078.6,2106.2 L1080.1,2106.2 L1081.6,2106.2 L1083.1,2106.2 L1084.7,2106.2 L1086.2,2106.2 L1087.7,2106.2 L1089.2,2106.2 L1090.7,2106.2 L1092.3,2106.2 L1093.8,2106.2 L1095.3,2106.2 L1096.8,2106.2 L1098.4,2106.2 L1099.9,2106.2 L1101.4,2106.2 L1102.9,2106.2 L1104.4,2106.2 L1106.0,2106.2 L1107.5,2106.2 L1109.0,2106.3 L1110.5,2106.3 L1112.0,2106.3 L1113.6,2106.3 L1115.1,2106.3 L1116.6,2106.3 L1118.1,2106.3 L1119.6,2106.3 L1121.2,2106.3 L1122.7,2106.3 L1124.2,2106.3 L1125.7,2106.3 L1127.2,2106.3 L1128.8,2106.3 L1130.3,2106.3 L1131.8,2106.3 L1133.3,2106.3 L1134.9,2106.3 L1136.4,2106.3 L1137.9,2106.3 L1139.4,2106.3 L1140.9,2106.3 L1142.5,2106.3 L1144.0,2106.3 L1145.5,2106.3 L1147.0,2106.3 L1148.5,2106.3 L1150.1,2106.4 L1151.6,2106.4 L1153.1,2106.4 L1154.6,2106.4 L1156.1,2106.4 L1157.7,2106.4 L1159.2,2106.4 L1160.7,2106.4 L1162.2,2106.4 L1163.8,2106.4 L1165.3,2106.4 L1166.8,2106.4 L1168.3,2106.5 L1169.8,2106.5 L1171.4,2106.5 L1172.9,2106.5 L1174.4,2106.5 L1175.9,2106.5 L1177.4,2106.5 L1179.0,2106.6 L1180.5,2106.6 L1182.0,2106.6 L1183.5,2106.6 L1185.0,2106.6 L1186.6,2106.6 L1188.1,2106.7 L1189.6,2106.7 L1191.1,2106.7 L1192.7,2106.7 L1194.2,2106.7 L1195.7,2106.8 L1197.2,2106.8 L1198.7,2106.8 L1200.3,2106.9 L1201.8,2106.9 L1203.3,2106.9 L1204.8,2106.9 L1206.3,2107.0 L1207.9,2107.0 L1209.4,2107.1 L1210.9,2107.1 L1212.4,2107.1 L1213.9,2107.2 L1215.5,2107.2 L1217.0,2107.3 L1218.5,2107.3 L1220.0,2107.4 L1221.6,2107.4 L1223.1,2107.5 L1224.6,2107.5 L1226.1,2107.6 L1227.6,2107.6 L1229.2,2107.7 L1230.7,2107.8 L1232.2,2107.9 L1233.7,2107.9 L1235.2,2108.0 L1236.8,2108.1 L1238.3,2108.2 L1239.8,2108.3 L1241.3,2108.4 L1242.8,2108.4 L1244.4,2108.5 L1245.9,2108.6 L1247.4,2108.8 L1248.9,2108.9 L1250.5,2109.0 L1252.0,2109.1 L1253.5,2109.2 L1255.0,2109.4 L1256.5,2109.5 L1258.1,2109.7 L1259.6,2109.8 L1261.1,2110.0 L1262.6,2110.1 L1264.1,2110.3 L1265.7,2110.5 L1267.2,2110.7 L1268.7,2110.8 L1270.2,2111.0 L1271.7,2111.3 L1273.3,2111.5 L1274.8,2111.7 L1276.3,2111.9 L1277.8,2112.2 L1279.4,2112.4 L1280.9,2112.7 L1282.4,2112.9 L1283.9,2113.2 L1285.4,2113.5 L1287.0,2113.8 L1288.5,2114.1 L1290.0,2114.4 L1291.5,2114.7 L1293.0,2115.1 L1294.6,2115.4 L1296.1,2115.8 L1297.6,2116.2 L1299.1,2116.6 L1300.6,2116.9 L1302.2,2117.4 L1303.7,2117.8 L1305.2,2118.2 L1306.7,2118.7 L1308.2,2119.1 L1309.8,2119.6 L1311.3,2120.1 L1312.8,2120.6 L1314.3,2121.1 L1315.9,2121.6 L1317.4,2122.1 L1318.9,2122.7 L1320.4,2123.2 L1321.9,2123.8 L1323.5,2124.3 L1325.0,2124.9 L1326.5,2125.5 L1328.0,2126.1 L1329.5,2126.8 L1331.1,2127.4 L1332.6,2128.0 L1334.1,2128.7 L1335.6,2129.3 L1337.1,2130.0 L1338.7,2130.7 L1340.2,2131.3 L1341.7,2132.0 L1343.2,2132.7 L1344.8,2133.4 L1346.3,2134.1 L1347.8,2134.8 L1349.3,2135.5 L1350.8,2136.2 L1352.4,2136.9 L1353.9,2137.6 L1355.4,2138.3 L1356.9,2139.0 L1358.4,2139.7 L1360.0,2140.4 L1361.5,2141.1 L1363.0,2141.8 L1364.5,2142.5 L1366.0,2143.2 L1367.6,2143.8 L1369.1,2144.5 L1370.6,2145.2 L1372.1,2145.8 L1373.7,2146.5 L1375.2,2147.1 L1376.7,2147.7 L1378.2,2148.3 L1379.7,2149.0 L1381.3,2149.6 L1382.8,2150.1 L1384.3,2150.7 L1385.8,2151.3 L1387.3,2151.8 L1388.9,2152.4 L1390.4,2152.9 L1391.9,2153.4 L1393.4,2153.9 L1394.9,2154.4 L1396.5,2154.9 L1398.0,2155.4 L1399.5,2155.9 L1401.0,2156.3 L1402.6,2156.7 L1404.1,2157.2 L1405.6,2157.6 L1407.1,2158.0 L1408.6,2158.4 L1410.2,2158.7 L1411.7,2159.1 L1413.2,2159.4 L1414.7,2159.8 L1416.2,2160.1 L1417.8,2160.4 L1419.3,2160.7 L1420.8,2161.0 L1422.3,2161.3 L1423.8,2161.6 L1425.4,2161.9 L1426.9,2162.1 L1428.4,2162.4 L1429.9,2162.6 L1431.5,2162.8 L1433.0,2163.1 L1434.5,2163.3 L1436.0,2163.5 L1437.5,2163.7 L1439.1,2163.9 L1440.6,2164.1 L1442.1,2164.2 L1443.6,2164.4 L1445.1,2164.6 L1446.7,2164.7 L1448.2,2164.9 L1449.7,2165.0 L1451.2,2165.2 L1452.7,2165.3 L1454.3,2165.4 L1455.8,2165.6 L1457.3,2165.7 L1458.8,2165.8 L1460.3,2165.9 L1461.9,2166.0 L1463.4,2166.1 L1464.9,2166.2 L1466.4,2166.3 L1468.0,2166.4 L1469.5,2166.5 L1471.0,2166.5 L1472.5,2166.6 L1474.0,2166.7 L1475.6,2166.8 L1477.1,2166.8 L1478.6,2166.9 L1480.1,2167.0 L1481.6,2167.0 L1483.2,2167.1 L1484.7,2167.1 L1486.2,2167.2 L1487.7,2167.2 L1489.2,2167.3 L1490.8,2167.3 L1492.3,2167.4 L1493.8,2167.4 L1495.3,2167.5 L1496.9,2167.5 L1498.4,2167.5 L1499.9,2167.6 L1501.4,2167.6 L1502.9,2167.6 L1504.5,2167.7 L1506.0,2167.7 L1507.5,2167.7 L1509.0,2167.8 L1510.5,2167.8 L1512.1,2167.8 L1513.6,2167.8 L1515.1,2167.9 L1516.6,2167.9 L1518.1,2167.9 L1519.7,2167.9 L1521.2,2167.9 L1522.7,2168.0 L1524.2,2168.0 L1525.8,2168.0 L1527.3,2168.0 L1528.8,2168.0 L1530.3,2168.0 L1531.8,2168.1 L1533.4,2168.1 L1534.9,2168.1 L1536.4,2168.1 L1537.9,2168.1 L1539.4,2168.1 L1541.0,2168.1 L1542.5,2168.1 L1544.0,2168.1 L1545.5,2168.2 L1547.0,2168.2 L1548.6,2168.2 L1550.1,2168.2 L1551.6,2168.2 L1553.1,2168.2 L1554.7,2168.2 L1556.2,2168.2 L1557.7,2168.2 L1559.2,2168.2 L1560.7,2168.2 L1562.3,2168.2 L1563.8,2168.2 L1565.3,2168.2 L1566.8,2168.2 L1568.3,2168.3 L1569.9,2168.3 L1571.4,2168.3 L1572.9,2168.3 L1574.4,2168.3 L1575.9,2168.3 L1577.5,2168.3 L1579.0,2168.3 L1580.5,2168.3 L1582.0,2168.3 L1583.6,2168.3 L1585.1,2168.3 L1586.6,2168.3 L1588.1,2168.3 L1589.6,2168.3 L1591.2,2168.3 L1592.7,2168.3 L1594.2,2168.3 L1595.7,2168.3 L1597.2,2168.3 L1598.8,2168.3 L1600.3,2168.3 L1601.8,2168.3 L1603.3,2168.3 L1604.8,2168.3 L1606.4,2168.3 L1607.9,2168.3 L1609.4,2168.3 L1610.9,2168.3 L1612.4,2168.3 L1614.0,2168.3 L1615.5,2168.3 L1617.0,2168.3 L1618.5,2168.3 L1620.1,2168.3 L1621.6,2168.3 L1623.1,2168.3 L1624.6,2168.3 L1626.1,2168.3 L1627.7,2168.3 L1629.2,2168.3 L1630.7,2168.3 L1632.2,2168.3 L1633.7,2168.3 L1635.3,2168.3 L1636.8,2168.3 L1638.3,2168.3 L1639.8,2168.3 L1641.3,2168.3 L1642.9,2168.3 L1644.4,2168.3 L1645.9,2168.3 L1647.4,2168.3 L1649.0,2168.3 L1650.5,2168.3 L1652.0,2168.3 L1653.5,2168.3 L1655.0,2168.3 L1656.6,2168.3 L1658.1,2168.3 L1659.6,2168.3" fill="none" stroke="#0a0ab8" stroke-width="6.1" stroke-linejoin="round"/>
<circle cx="1113.6" cy="1836.4" r="12.2" fill="none" stroke="#000" stroke-width="4.2"/>
<circle cx="1191.6" cy="1836.4" r="12.2" fill="none" stroke="#000" stroke-width="4.2"/>
<circle cx="1269.6" cy="1842.0" r="12.2" fill="none" stroke="#000" stroke-width="4.2"/>
<circle cx="1347.6" cy="1887.0" r="12.2" fill="none" stroke="#000" stroke-width="4.2"/>
<circle cx="1425.6" cy="2083.7" r="12.2" fill="none" stroke="#000" stroke-width="4.2"/>
<circle cx="1503.6" cy="2156.8" r="12.2" fill="none" stroke="#000" stroke-width="4.2"/>
<circle cx="1581.6" cy="2168.0" r="12.2" fill="none" stroke="#000" stroke-width="4.2"/>
<circle cx="1659.6" cy="2168.0" r="12.2" fill="none" stroke="#000" stroke-width="4.2"/>
<rect x="1101.0" y="2048.6" width="25.2" height="25.2" fill="none" stroke="#000" stroke-width="4.2"/>
<rect x="1179.0" y="2048.6" width="25.2" height="25.2" fill="none" stroke="#000" stroke-width="4.2"/>
<rect x="1257.0" y="2054.2" width="25.2" height="25.2" fill="none" stroke="#000" stroke-width="4.2"/>
<rect x="1335.0" y="2088.0" width="25.2" height="25.2" fill="none" stroke="#000" stroke-width="4.2"/>
<rect x="1413.0" y="2144.2" width="25.2" height="25.2" fill="none" stroke="#000" stroke-width="4.2"/>
<rect x="1491.0" y="2155.4" width="25.2" height="25.2" fill="none" stroke="#000" stroke-width="4.2"/>
<rect x="1569.0" y="2155.4" width="25.2" height="25.2" fill="none" stroke="#000" stroke-width="4.2"/>
<rect x="1647.0" y="2155.4" width="25.2" height="25.2" fill="none" stroke="#000" stroke-width="4.2"/>
<polygon points="1113.6,2095.5 1101.2,2119.2 1126.0,2119.2" fill="none" stroke="#000" stroke-width="4.2" stroke-linejoin="miter"/>
<polygon points="1191.6,2095.5 1179.2,2119.2 1204.0,2119.2" fill="none" stroke="#000" stroke-width="4.2" stroke-linejoin="miter"/>
<polygon points="1269.6,2101.1 1257.2,2124.8 1282.0,2124.8" fill="none" stroke="#000" stroke-width="4.2" stroke-linejoin="miter"/>
<polygon points="1347.6,2123.6 1335.2,2147.3 1360.0,2147.3" fill="none" stroke="#000" stroke-width="4.2" stroke-linejoin="miter"/>
<polygon points="1425.6,2151.7 1413.2,2175.4 1438.0,2175.4" fill="none" stroke="#000" stroke-width="4.2" stroke-linejoin="miter"/>
<polygon points="1503.6,2157.3 1491.2,2181.0 1516.0,2181.0" fill="none" stroke="#000" stroke-width="4.2" stroke-linejoin="miter"/>
<polygon points="1581.6,2157.3 1569.2,2181.0 1594.0,2181.0" fill="none" stroke="#000" stroke-width="4.2" stroke-linejoin="miter"/>
<polygon points="1659.6,2157.3 1647.2,2181.0 1672.0,2181.0" fill="none" stroke="#000" stroke-width="4.2" stroke-linejoin="miter"/>
<line x1="950" y1="2360.5" x2="1803" y2="2360.5" stroke="#efefef" stroke-width="1.5"/>
</svg>
</body></html>
